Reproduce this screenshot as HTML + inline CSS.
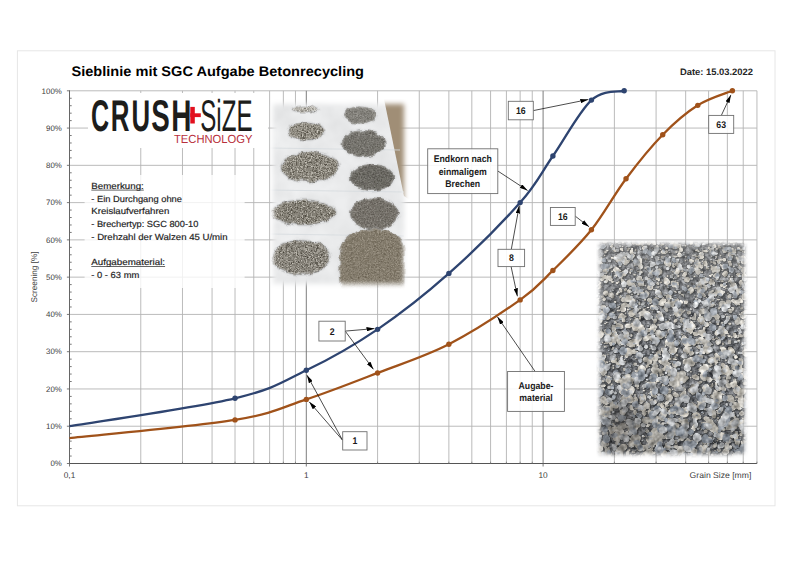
<!DOCTYPE html>
<html><head><meta charset="utf-8"><title>Sieblinie mit SGC Aufgabe Betonrecycling</title>
<style>
html,body{margin:0;padding:0;background:#fff;}
body{width:800px;height:565px;overflow:hidden;position:relative;font-family:"Liberation Sans",Arial,sans-serif;}
svg{position:absolute;left:0;top:0;display:block;}
svg text{font-family:"Liberation Sans",Arial,sans-serif;text-rendering:geometricPrecision;}
</style></head><body>
<svg width="800" height="565" viewBox="0 0 800 565">
<defs>
<marker id="ah" viewBox="0 0 10 10" preserveAspectRatio="none" refX="10" refY="5" markerWidth="8" markerHeight="4.4" orient="auto" markerUnits="userSpaceOnUse">
<path d="M0,0 L10,5 L0,10 z" fill="#000"/></marker>
<filter id="txA" x="-10%" y="-10%" width="120%" height="120%" color-interpolation-filters="sRGB">
<feTurbulence type="fractalNoise" baseFrequency="0.8" numOctaves="2" seed="3" result="n"/>
<feColorMatrix in="n" type="matrix" values="1 0 0 0 0  1 0 0 0 0  1 0 0 0 0  0 0 0 0 1" result="g"/>
<feComposite in="SourceGraphic" in2="g" operator="arithmetic" k1="0" k2="1" k3="0.8" k4="-0.4" result="c"/>
<feGaussianBlur in="SourceAlpha" stdDeviation="1.3" result="a"/>
<feComposite in="c" in2="a" operator="in"/>
</filter>
<filter id="txB" x="-10%" y="-10%" width="120%" height="120%" color-interpolation-filters="sRGB">
<feTurbulence type="fractalNoise" baseFrequency="0.7" numOctaves="2" seed="5" result="n"/>
<feColorMatrix in="n" type="matrix" values="1 0 0 0 0  1 0 0 0 0  1 0 0 0 0  0 0 0 0 1" result="g"/>
<feComposite in="SourceGraphic" in2="g" operator="arithmetic" k1="0" k2="1" k3="0.32" k4="-0.16" result="c"/>
<feGaussianBlur in="SourceAlpha" stdDeviation="1.3" result="a"/>
<feComposite in="c" in2="a" operator="in"/>
</filter>
<filter id="soft" x="-20%" y="-20%" width="140%" height="140%"><feGaussianBlur stdDeviation="2"/></filter>
<filter id="gravel" x="0" y="0" width="100%" height="100%" color-interpolation-filters="sRGB">
<feTurbulence type="fractalNoise" baseFrequency="0.22" numOctaves="3" seed="7" result="n"/>
<feColorMatrix in="n" type="matrix" values="1 0 0 0 0  1 0 0 0 0  1 0 0 0 0  0 0 0 0 1" result="g"/>
<feComposite in="SourceGraphic" in2="g" operator="arithmetic" k1="0" k2="1" k3="0.9" k4="-0.45"/>
</filter>
<filter id="stn" x="0" y="0" width="100%" height="100%" color-interpolation-filters="sRGB">
<feTurbulence type="fractalNoise" baseFrequency="0.2" numOctaves="2" seed="9" result="n"/>
<feColorMatrix in="n" type="matrix" values="1 0 0 0 0  1 0 0 0 0  1 0 0 0 0  0 0 0 0 1" result="g"/>
<feComposite in="SourceGraphic" in2="g" operator="arithmetic" k1="0" k2="1" k3="0.7" k4="-0.35" result="c"/>
<feComposite in="c" in2="SourceAlpha" operator="in" result="c2"/>
<feOffset in="SourceAlpha" dx="0.5" dy="0.7" result="o"/>
<feGaussianBlur in="o" stdDeviation="0.5" result="ob"/>
<feFlood flood-color="#2a2d31" flood-opacity="0.6"/>
<feComposite in2="ob" operator="in" result="sh"/>
<feMerge><feMergeNode in="sh"/><feMergeNode in="c2"/></feMerge>
</filter>
<filter id="disp" x="-15%" y="-15%" width="130%" height="130%">
<feTurbulence type="fractalNoise" baseFrequency="0.12" numOctaves="2" seed="2" result="t"/>
<feDisplacementMap in="SourceGraphic" in2="t" scale="5" xChannelSelector="R" yChannelSelector="G" result="d"/>
<feGaussianBlur in="d" stdDeviation="0.35"/>
</filter>
<filter id="paper" x="0" y="0" width="100%" height="100%" color-interpolation-filters="sRGB">
<feTurbulence type="fractalNoise" baseFrequency="0.04" numOctaves="3" seed="12" result="n"/>
<feColorMatrix in="n" type="matrix" values="1 0 0 0 0  1 0 0 0 0  1 0 0 0 0  0 0 0 0 1" result="g"/>
<feComposite in="SourceGraphic" in2="g" operator="arithmetic" k1="0" k2="1" k3="0.08" k4="-0.04"/>
</filter>
<linearGradient id="gvgrad" x1="0" y1="0" x2="0" y2="1"><stop offset="0" stop-color="#e8e4dc" stop-opacity="0.22"/><stop offset="0.45" stop-color="#e8e4dc" stop-opacity="0.05"/><stop offset="1" stop-color="#000" stop-opacity="0.14"/></linearGradient>
<radialGradient id="gvdark"><stop offset="0" stop-color="#3a3632" stop-opacity="0.4"/><stop offset="1" stop-color="#3a3632" stop-opacity="0"/></radialGradient>
<mask id="mR"><rect x="600" y="244" width="144" height="210" fill="#fff" filter="url(#soft)"/></mask>
<filter id="soft3" x="-20%" y="-20%" width="140%" height="140%"><feGaussianBlur stdDeviation="2.6"/></filter>
<mask id="mL"><rect x="273" y="104" width="131" height="180" fill="#fff" filter="url(#soft3)"/></mask>
</defs>
<rect x="17.4" y="50.8" width="757.6" height="455" fill="#fff" stroke="#e6e6e6" stroke-width="1"/>

<text x="71.5" y="75.6" font-size="13.8" font-weight="bold" fill="#000" textLength="292.5" lengthAdjust="spacingAndGlyphs">Sieblinie mit SGC Aufgabe Betonrecycling</text>
<text x="680" y="75.2" font-size="9.3" font-weight="bold" fill="#262626" textLength="73" lengthAdjust="spacingAndGlyphs">Date: 15.03.2022</text>
<line x1="140.78" y1="90.8" x2="140.78" y2="463.5" stroke="#b3b3b3" stroke-width="0.9"/>
<line x1="182.48" y1="90.8" x2="182.48" y2="463.5" stroke="#b3b3b3" stroke-width="0.9"/>
<line x1="212.07" y1="90.8" x2="212.07" y2="463.5" stroke="#b3b3b3" stroke-width="0.9"/>
<line x1="235.02" y1="90.8" x2="235.02" y2="463.5" stroke="#b3b3b3" stroke-width="0.9"/>
<line x1="253.77" y1="90.8" x2="253.77" y2="463.5" stroke="#b3b3b3" stroke-width="0.9"/>
<line x1="269.62" y1="90.8" x2="269.62" y2="463.5" stroke="#b3b3b3" stroke-width="0.9"/>
<line x1="283.35" y1="90.8" x2="283.35" y2="463.5" stroke="#b3b3b3" stroke-width="0.9"/>
<line x1="295.46" y1="90.8" x2="295.46" y2="463.5" stroke="#b3b3b3" stroke-width="0.9"/>
<line x1="377.58" y1="90.8" x2="377.58" y2="463.5" stroke="#b3b3b3" stroke-width="0.9"/>
<line x1="419.28" y1="90.8" x2="419.28" y2="463.5" stroke="#b3b3b3" stroke-width="0.9"/>
<line x1="448.87" y1="90.8" x2="448.87" y2="463.5" stroke="#b3b3b3" stroke-width="0.9"/>
<line x1="471.82" y1="90.8" x2="471.82" y2="463.5" stroke="#b3b3b3" stroke-width="0.9"/>
<line x1="490.57" y1="90.8" x2="490.57" y2="463.5" stroke="#b3b3b3" stroke-width="0.9"/>
<line x1="506.42" y1="90.8" x2="506.42" y2="463.5" stroke="#b3b3b3" stroke-width="0.9"/>
<line x1="520.15" y1="90.8" x2="520.15" y2="463.5" stroke="#b3b3b3" stroke-width="0.9"/>
<line x1="532.26" y1="90.8" x2="532.26" y2="463.5" stroke="#b3b3b3" stroke-width="0.9"/>
<line x1="614.38" y1="90.8" x2="614.38" y2="463.5" stroke="#b3b3b3" stroke-width="0.9"/>
<line x1="656.08" y1="90.8" x2="656.08" y2="463.5" stroke="#b3b3b3" stroke-width="0.9"/>
<line x1="685.67" y1="90.8" x2="685.67" y2="463.5" stroke="#b3b3b3" stroke-width="0.9"/>
<line x1="708.62" y1="90.8" x2="708.62" y2="463.5" stroke="#b3b3b3" stroke-width="0.9"/>
<line x1="727.37" y1="90.8" x2="727.37" y2="463.5" stroke="#b3b3b3" stroke-width="0.9"/>
<line x1="743.22" y1="90.8" x2="743.22" y2="463.5" stroke="#b3b3b3" stroke-width="0.9"/>
<line x1="756.95" y1="90.8" x2="756.95" y2="463.5" stroke="#b3b3b3" stroke-width="0.9"/>
<line x1="69.5" y1="426.23" x2="756.95" y2="426.23" stroke="#b3b3b3" stroke-width="0.9"/>
<line x1="69.5" y1="388.96" x2="756.95" y2="388.96" stroke="#b3b3b3" stroke-width="0.9"/>
<line x1="69.5" y1="351.69" x2="756.95" y2="351.69" stroke="#b3b3b3" stroke-width="0.9"/>
<line x1="69.5" y1="314.42" x2="756.95" y2="314.42" stroke="#b3b3b3" stroke-width="0.9"/>
<line x1="69.5" y1="277.15" x2="756.95" y2="277.15" stroke="#b3b3b3" stroke-width="0.9"/>
<line x1="69.5" y1="239.88" x2="756.95" y2="239.88" stroke="#b3b3b3" stroke-width="0.9"/>
<line x1="69.5" y1="202.61" x2="756.95" y2="202.61" stroke="#b3b3b3" stroke-width="0.9"/>
<line x1="69.5" y1="165.34" x2="756.95" y2="165.34" stroke="#b3b3b3" stroke-width="0.9"/>
<line x1="69.5" y1="128.07" x2="756.95" y2="128.07" stroke="#b3b3b3" stroke-width="0.9"/>
<line x1="69.5" y1="90.8" x2="756.95" y2="90.8" stroke="#b3b3b3" stroke-width="0.9"/>
<line x1="306.3" y1="90.8" x2="306.3" y2="463.5" stroke="#6e6e6e" stroke-width="0.9"/>
<line x1="543.1" y1="90.8" x2="543.1" y2="463.5" stroke="#6e6e6e" stroke-width="0.9"/>
<line x1="69.5" y1="90.3" x2="69.5" y2="464.1" stroke="#666" stroke-width="1"/>
<line x1="69" y1="463.5" x2="756.95" y2="463.5" stroke="#555" stroke-width="1.2"/>
<line x1="66.9" y1="463.5" x2="69.5" y2="463.5" stroke="#6a6a6a" stroke-width="0.9"/>
<line x1="69.5" y1="456.05" x2="71.7" y2="456.05" stroke="#6a6a6a" stroke-width="0.9"/>
<line x1="69.5" y1="448.59" x2="71.7" y2="448.59" stroke="#6a6a6a" stroke-width="0.9"/>
<line x1="69.5" y1="441.14" x2="71.7" y2="441.14" stroke="#6a6a6a" stroke-width="0.9"/>
<line x1="69.5" y1="433.68" x2="71.7" y2="433.68" stroke="#6a6a6a" stroke-width="0.9"/>
<line x1="66.9" y1="426.23" x2="69.5" y2="426.23" stroke="#6a6a6a" stroke-width="0.9"/>
<line x1="69.5" y1="418.78" x2="71.7" y2="418.78" stroke="#6a6a6a" stroke-width="0.9"/>
<line x1="69.5" y1="411.32" x2="71.7" y2="411.32" stroke="#6a6a6a" stroke-width="0.9"/>
<line x1="69.5" y1="403.87" x2="71.7" y2="403.87" stroke="#6a6a6a" stroke-width="0.9"/>
<line x1="69.5" y1="396.41" x2="71.7" y2="396.41" stroke="#6a6a6a" stroke-width="0.9"/>
<line x1="66.9" y1="388.96" x2="69.5" y2="388.96" stroke="#6a6a6a" stroke-width="0.9"/>
<line x1="69.5" y1="381.51" x2="71.7" y2="381.51" stroke="#6a6a6a" stroke-width="0.9"/>
<line x1="69.5" y1="374.05" x2="71.7" y2="374.05" stroke="#6a6a6a" stroke-width="0.9"/>
<line x1="69.5" y1="366.6" x2="71.7" y2="366.6" stroke="#6a6a6a" stroke-width="0.9"/>
<line x1="69.5" y1="359.14" x2="71.7" y2="359.14" stroke="#6a6a6a" stroke-width="0.9"/>
<line x1="66.9" y1="351.69" x2="69.5" y2="351.69" stroke="#6a6a6a" stroke-width="0.9"/>
<line x1="69.5" y1="344.24" x2="71.7" y2="344.24" stroke="#6a6a6a" stroke-width="0.9"/>
<line x1="69.5" y1="336.78" x2="71.7" y2="336.78" stroke="#6a6a6a" stroke-width="0.9"/>
<line x1="69.5" y1="329.33" x2="71.7" y2="329.33" stroke="#6a6a6a" stroke-width="0.9"/>
<line x1="69.5" y1="321.87" x2="71.7" y2="321.87" stroke="#6a6a6a" stroke-width="0.9"/>
<line x1="66.9" y1="314.42" x2="69.5" y2="314.42" stroke="#6a6a6a" stroke-width="0.9"/>
<line x1="69.5" y1="306.97" x2="71.7" y2="306.97" stroke="#6a6a6a" stroke-width="0.9"/>
<line x1="69.5" y1="299.51" x2="71.7" y2="299.51" stroke="#6a6a6a" stroke-width="0.9"/>
<line x1="69.5" y1="292.06" x2="71.7" y2="292.06" stroke="#6a6a6a" stroke-width="0.9"/>
<line x1="69.5" y1="284.6" x2="71.7" y2="284.6" stroke="#6a6a6a" stroke-width="0.9"/>
<line x1="66.9" y1="277.15" x2="69.5" y2="277.15" stroke="#6a6a6a" stroke-width="0.9"/>
<line x1="69.5" y1="269.7" x2="71.7" y2="269.7" stroke="#6a6a6a" stroke-width="0.9"/>
<line x1="69.5" y1="262.24" x2="71.7" y2="262.24" stroke="#6a6a6a" stroke-width="0.9"/>
<line x1="69.5" y1="254.79" x2="71.7" y2="254.79" stroke="#6a6a6a" stroke-width="0.9"/>
<line x1="69.5" y1="247.33" x2="71.7" y2="247.33" stroke="#6a6a6a" stroke-width="0.9"/>
<line x1="66.9" y1="239.88" x2="69.5" y2="239.88" stroke="#6a6a6a" stroke-width="0.9"/>
<line x1="69.5" y1="232.43" x2="71.7" y2="232.43" stroke="#6a6a6a" stroke-width="0.9"/>
<line x1="69.5" y1="224.97" x2="71.7" y2="224.97" stroke="#6a6a6a" stroke-width="0.9"/>
<line x1="69.5" y1="217.52" x2="71.7" y2="217.52" stroke="#6a6a6a" stroke-width="0.9"/>
<line x1="69.5" y1="210.06" x2="71.7" y2="210.06" stroke="#6a6a6a" stroke-width="0.9"/>
<line x1="66.9" y1="202.61" x2="69.5" y2="202.61" stroke="#6a6a6a" stroke-width="0.9"/>
<line x1="69.5" y1="195.16" x2="71.7" y2="195.16" stroke="#6a6a6a" stroke-width="0.9"/>
<line x1="69.5" y1="187.7" x2="71.7" y2="187.7" stroke="#6a6a6a" stroke-width="0.9"/>
<line x1="69.5" y1="180.25" x2="71.7" y2="180.25" stroke="#6a6a6a" stroke-width="0.9"/>
<line x1="69.5" y1="172.79" x2="71.7" y2="172.79" stroke="#6a6a6a" stroke-width="0.9"/>
<line x1="66.9" y1="165.34" x2="69.5" y2="165.34" stroke="#6a6a6a" stroke-width="0.9"/>
<line x1="69.5" y1="157.89" x2="71.7" y2="157.89" stroke="#6a6a6a" stroke-width="0.9"/>
<line x1="69.5" y1="150.43" x2="71.7" y2="150.43" stroke="#6a6a6a" stroke-width="0.9"/>
<line x1="69.5" y1="142.98" x2="71.7" y2="142.98" stroke="#6a6a6a" stroke-width="0.9"/>
<line x1="69.5" y1="135.52" x2="71.7" y2="135.52" stroke="#6a6a6a" stroke-width="0.9"/>
<line x1="66.9" y1="128.07" x2="69.5" y2="128.07" stroke="#6a6a6a" stroke-width="0.9"/>
<line x1="69.5" y1="120.62" x2="71.7" y2="120.62" stroke="#6a6a6a" stroke-width="0.9"/>
<line x1="69.5" y1="113.16" x2="71.7" y2="113.16" stroke="#6a6a6a" stroke-width="0.9"/>
<line x1="69.5" y1="105.71" x2="71.7" y2="105.71" stroke="#6a6a6a" stroke-width="0.9"/>
<line x1="69.5" y1="98.25" x2="71.7" y2="98.25" stroke="#6a6a6a" stroke-width="0.9"/>
<line x1="66.9" y1="90.8" x2="69.5" y2="90.8" stroke="#6a6a6a" stroke-width="0.9"/>
<line x1="69.5" y1="463.5" x2="69.5" y2="466.5" stroke="#6a6a6a" stroke-width="0.9"/>
<line x1="306.3" y1="463.5" x2="306.3" y2="466.5" stroke="#6a6a6a" stroke-width="0.9"/>
<line x1="543.1" y1="463.5" x2="543.1" y2="466.5" stroke="#6a6a6a" stroke-width="0.9"/>
<line x1="140.78" y1="461.7" x2="140.78" y2="463.5" stroke="#777" stroke-width="0.8"/>
<line x1="182.48" y1="461.7" x2="182.48" y2="463.5" stroke="#777" stroke-width="0.8"/>
<line x1="212.07" y1="461.7" x2="212.07" y2="463.5" stroke="#777" stroke-width="0.8"/>
<line x1="235.02" y1="461.7" x2="235.02" y2="463.5" stroke="#777" stroke-width="0.8"/>
<line x1="253.77" y1="461.7" x2="253.77" y2="463.5" stroke="#777" stroke-width="0.8"/>
<line x1="269.62" y1="461.7" x2="269.62" y2="463.5" stroke="#777" stroke-width="0.8"/>
<line x1="283.35" y1="461.7" x2="283.35" y2="463.5" stroke="#777" stroke-width="0.8"/>
<line x1="295.46" y1="461.7" x2="295.46" y2="463.5" stroke="#777" stroke-width="0.8"/>
<line x1="377.58" y1="461.7" x2="377.58" y2="463.5" stroke="#777" stroke-width="0.8"/>
<line x1="419.28" y1="461.7" x2="419.28" y2="463.5" stroke="#777" stroke-width="0.8"/>
<line x1="448.87" y1="461.7" x2="448.87" y2="463.5" stroke="#777" stroke-width="0.8"/>
<line x1="471.82" y1="461.7" x2="471.82" y2="463.5" stroke="#777" stroke-width="0.8"/>
<line x1="490.57" y1="461.7" x2="490.57" y2="463.5" stroke="#777" stroke-width="0.8"/>
<line x1="506.42" y1="461.7" x2="506.42" y2="463.5" stroke="#777" stroke-width="0.8"/>
<line x1="520.15" y1="461.7" x2="520.15" y2="463.5" stroke="#777" stroke-width="0.8"/>
<line x1="532.26" y1="461.7" x2="532.26" y2="463.5" stroke="#777" stroke-width="0.8"/>
<line x1="614.38" y1="461.7" x2="614.38" y2="463.5" stroke="#777" stroke-width="0.8"/>
<line x1="656.08" y1="461.7" x2="656.08" y2="463.5" stroke="#777" stroke-width="0.8"/>
<line x1="685.67" y1="461.7" x2="685.67" y2="463.5" stroke="#777" stroke-width="0.8"/>
<line x1="708.62" y1="461.7" x2="708.62" y2="463.5" stroke="#777" stroke-width="0.8"/>
<line x1="727.37" y1="461.7" x2="727.37" y2="463.5" stroke="#777" stroke-width="0.8"/>
<line x1="743.22" y1="461.7" x2="743.22" y2="463.5" stroke="#777" stroke-width="0.8"/>
<line x1="756.95" y1="461.7" x2="756.95" y2="463.5" stroke="#777" stroke-width="0.8"/>
<text x="61.8" y="466.3" font-size="7.9" fill="#404040" text-anchor="end">0%</text>
<text x="61.8" y="429.03" font-size="7.9" fill="#404040" text-anchor="end">10%</text>
<text x="61.8" y="391.76" font-size="7.9" fill="#404040" text-anchor="end">20%</text>
<text x="61.8" y="354.49" font-size="7.9" fill="#404040" text-anchor="end">30%</text>
<text x="61.8" y="317.22" font-size="7.9" fill="#404040" text-anchor="end">40%</text>
<text x="61.8" y="279.95" font-size="7.9" fill="#404040" text-anchor="end">50%</text>
<text x="61.8" y="242.68" font-size="7.9" fill="#404040" text-anchor="end">60%</text>
<text x="61.8" y="205.41" font-size="7.9" fill="#404040" text-anchor="end">70%</text>
<text x="61.8" y="168.14" font-size="7.9" fill="#404040" text-anchor="end">80%</text>
<text x="61.8" y="130.87" font-size="7.9" fill="#404040" text-anchor="end">90%</text>
<text x="61.8" y="93.6" font-size="7.9" fill="#404040" text-anchor="end">100%</text>
<text transform="translate(37.3,302.5) rotate(-90)" font-size="8.3" fill="#404040" textLength="51" lengthAdjust="spacingAndGlyphs">Screening [%]</text>
<text x="69.5" y="477.8" font-size="8.3" fill="#404040" text-anchor="middle">0,1</text>
<text x="306.3" y="477.8" font-size="8.3" fill="#404040" text-anchor="middle">1</text>
<text x="543.1" y="477.8" font-size="8.3" fill="#404040" text-anchor="middle">10</text>
<text x="689.6" y="477.8" font-size="8.3" fill="#404040" textLength="61.8" lengthAdjust="spacingAndGlyphs">Grain Size [mm]</text>
<g mask="url(#mL)">
<rect x="268" y="99" width="140" height="190" fill="#e8e9ea" filter="url(#paper)"/>
<polygon points="384,99 410,99 410,200 404,196" fill="#a08e76"/>
<line x1="270" y1="148" x2="400" y2="150" stroke="#d6dade" stroke-width="0.8"/>
<line x1="270" y1="190" x2="404" y2="192" stroke="#d6dade" stroke-width="0.8"/>
<line x1="270" y1="234" x2="404" y2="236" stroke="#d6dade" stroke-width="0.8"/>
<g filter="url(#disp)"><ellipse cx="305" cy="109.5" rx="13" ry="3.6" fill="#b0ada5" filter="url(#txA)"/></g>
<g filter="url(#disp)"><ellipse cx="306" cy="131" rx="18" ry="9" fill="#8d897f" filter="url(#txA)"/></g>
<g filter="url(#disp)"><ellipse cx="310" cy="167" rx="29" ry="15" fill="#8a867c" filter="url(#txA)"/></g>
<g filter="url(#disp)"><ellipse cx="303.5" cy="212.5" rx="31.5" ry="12.5" fill="#858177" filter="url(#txA)"/></g>
<g filter="url(#disp)"><ellipse cx="301" cy="257.5" rx="29" ry="17" fill="#88847b" filter="url(#txA)"/></g>
<g filter="url(#disp)"><ellipse cx="360" cy="115" rx="17" ry="8.8" fill="#83817b" filter="url(#txB)"/></g>
<g filter="url(#disp)"><ellipse cx="363.6" cy="143.7" rx="22" ry="13.5" fill="#75736d" filter="url(#txB)"/></g>
<g filter="url(#disp)"><ellipse cx="372" cy="177.5" rx="22" ry="13.5" fill="#6b6963" filter="url(#txB)"/></g>
<g filter="url(#disp)"><ellipse cx="374.5" cy="213.6" rx="24.5" ry="16" fill="#75716a" filter="url(#txB)"/></g>
<g filter="url(#disp)"><path d="M340,252 C342,236 356,229 372,229 C392,229 403,236 405,250 L405,290 L342,290 C339,278 339,262 340,252 Z" fill="#847c6d" filter="url(#txB)"/></g>
</g>
<g mask="url(#mR)">
<rect x="596" y="240" width="152" height="218" fill="#6a6d72" filter="url(#gravel)"/>
<g filter="url(#stn)">
<path d="M622.8 349.8a2.2 2 55 1 0 2.6 3.6a2.2 2 55 1 0 -2.6 -3.6zM710.1 265.7a1.1 .7 0 1 0 2.2 0a1.1 .7 0 1 0 -2.2 0zM631.2 325.8a3.2 2.7 178 1 0 -6.4 .2a3.2 2.7 178 1 0 6.4 -.2zM599.8 436a2.7 2.6 115 1 0 -2.2 4.9a2.7 2.6 115 1 0 2.2 -4.9zM668 399.2a1.3 1.3 0 1 0 2.5 0a1.3 1.3 0 1 0 -2.5 0zM663.8 256.3a1 .9 0 1 0 2 0a1 .9 0 1 0 -2 0zM702.5 364.4a1.2 1.1 0 1 0 2.5 0a1.2 1.1 0 1 0 -2.5 0zM699 446.2a1.7 1.7 0 1 0 3.5 0a1.7 1.7 0 1 0 -3.5 0zM624.8 356.8a1.7 1.4 0 1 0 3.5 0a1.7 1.4 0 1 0 -3.5 0zM688.9 441.7a1 .9 0 1 0 2.1 0a1 .9 0 1 0 -2.1 0zM671.3 389.5a1.1 .6 0 1 0 2.2 0a1.1 .6 0 1 0 -2.2 0zM665.5 352.3a1.5 1.2 0 1 0 3 0a1.5 1.2 0 1 0 -3 0zM656.6 282.5a1 .8 0 1 0 2.1 0a1 .8 0 1 0 -2.1 0zM683 454.7a2.4 2.2 108 1 0 -1.4 4.5a2.4 2.2 108 1 0 1.4 -4.5zM679.5 300.2a2.3 1.6 44 1 0 3.3 3.2a2.3 1.6 44 1 0 -3.3 -3.2zM659.6 375.9a1 .8 0 1 0 2 0a1 .8 0 1 0 -2 0zM668.5 389.4a1.2 1.1 0 1 0 2.5 0a1.2 1.1 0 1 0 -2.5 0zM682.6 448.3a2.4 2.2 98 1 0 -.7 4.8a2.4 2.2 98 1 0 .7 -4.8zM635.5 356.5a1 .9 0 1 0 2.1 0a1 .9 0 1 0 -2.1 0zM665.7 395.9a1.4 1.2 0 1 0 2.7 0a1.4 1.2 0 1 0 -2.7 0zM634.8 363.8a1.3 1.1 0 1 0 2.6 0a1.3 1.1 0 1 0 -2.6 0zM714.9 267a1.6 1.5 0 1 0 3.2 0a1.6 1.5 0 1 0 -3.2 0zM718.7 326.6a1.3 1.1 0 1 0 2.6 0a1.3 1.1 0 1 0 -2.6 0zM735.7 385.4a1.2 1 0 1 0 2.4 0a1.2 1 0 1 0 -2.4 0zM743.7 336a1.8 1.4 0 1 0 3.5 0a1.8 1.4 0 1 0 -3.5 0zM686 302a1.1 1 0 1 0 2.2 0a1.1 1 0 1 0 -2.2 0zM682 430.3a1.1 .7 0 1 0 2.1 0a1.1 .7 0 1 0 -2.1 0zM616.3 325.7a1.2 .9 0 1 0 2.4 0a1.2 .9 0 1 0 -2.4 0zM698.1 428.1a1.1 .8 0 1 0 2.2 0a1.1 .8 0 1 0 -2.2 0zM732.7 244.4a1.2 .8 0 1 0 2.3 0a1.2 .8 0 1 0 -2.3 0zM729.3 308.4a2.6 2.1 71 1 0 1.7 5a2.6 2.1 71 1 0 -1.7 -5zM631.2 248.9a1 .8 0 1 0 2.1 0a1 .8 0 1 0 -2.1 0zM639.3 315.2a1.1 .6 0 1 0 2.2 0a1.1 .6 0 1 0 -2.2 0zM682.6 392.9a2 1.7 0 1 0 3.9 0a2 1.7 0 1 0 -3.9 0zM654.5 319.4a1 .7 0 1 0 2 0a1 .7 0 1 0 -2 0zM694.3 323.6a3.7 3.7 128 1 0 -4.6 5.8a3.7 3.7 128 1 0 4.6 -5.8zM633.2 346.4a1 .7 0 1 0 2.1 0a1 .7 0 1 0 -2.1 0zM668.2 319.8a1.1 .7 0 1 0 2.3 0a1.1 .7 0 1 0 -2.3 0zM648.2 298a3.3 2.3 60 1 0 3.2 5.7a3.3 2.3 60 1 0 -3.2 -5.7zM610.9 271.2a1.2 .9 0 1 0 2.4 0a1.2 .9 0 1 0 -2.4 0zM625.8 431.9a1.3 1.1 0 1 0 2.6 0a1.3 1.1 0 1 0 -2.6 0zM732.6 413.7a1 .8 0 1 0 2.1 0a1 .8 0 1 0 -2.1 0zM657.3 425a2.3 2.2 178 1 0 -4.5 .2a2.3 2.2 178 1 0 4.5 -.2zM654.4 399.9a2.2 1.6 75 1 0 1.1 4.2a2.2 1.6 75 1 0 -1.1 -4.2zM650.9 271.2a1.3 1.1 0 1 0 2.6 0a1.3 1.1 0 1 0 -2.6 0zM706.1 409.2a1 .8 0 1 0 2.1 0a1 .8 0 1 0 -2.1 0zM663.1 361.7a1.6 1.5 0 1 0 3.2 0a1.6 1.5 0 1 0 -3.2 0zM660.4 338.3a1 .9 0 1 0 2 0a1 .9 0 1 0 -2 0zM674.8 359.4a1.4 .9 0 1 0 2.9 0a1.4 .9 0 1 0 -2.9 0zM668.8 242a1.3 1.2 0 1 0 2.5 0a1.3 1.2 0 1 0 -2.5 0zM714.8 380a1 .9 0 1 0 2 0a1 .9 0 1 0 -2 0zM694.9 359.5a4 3.4 168 1 0 -7.9 1.6a4 3.4 168 1 0 7.9 -1.6zM723 264.2a2.8 2.1 78 1 0 1.2 5.4a2.8 2.1 78 1 0 -1.2 -5.4zM664.2 346.1a1.1 1 0 1 0 2.2 0a1.1 1 0 1 0 -2.2 0zM736.3 258.8a1.5 1.5 0 1 0 3 0a1.5 1.5 0 1 0 -3 0zM616.8 427.2a4.4 2.5 149 1 0 -7.6 4.5a4.4 2.5 149 1 0 7.6 -4.5zM708.8 384.8a3.2 2.5 137 1 0 -4.7 4.3a3.2 2.5 137 1 0 4.7 -4.3zM669.1 279.4a3.3 3.3 137 1 0 -4.8 4.5a3.3 3.3 137 1 0 4.8 -4.5zM686.5 271.7a3.2 2.2 124 1 0 -3.6 5.4a3.2 2.2 124 1 0 3.6 -5.4zM692.3 451.5a1.2 .9 0 1 0 2.4 0a1.2 .9 0 1 0 -2.4 0zM736.8 294.4a1.1 .6 0 1 0 2.1 0a1.1 .6 0 1 0 -2.1 0zM629.3 319.4a1.1 1 0 1 0 2.2 0a1.1 1 0 1 0 -2.2 0zM674.7 408.7a3.9 2.6 54 1 0 4.6 6.4a3.9 2.6 54 1 0 -4.6 -6.4zM629.7 299a3.3 2.9 34 1 0 5.6 3.7a3.3 2.9 34 1 0 -5.6 -3.7zM691.4 321.1a2.5 1.9 89 1 0 .1 4.9a2.5 1.9 89 1 0 -.1 -4.9zM598.9 431.2a1.4 .8 0 1 0 2.8 0a1.4 .8 0 1 0 -2.8 0zM697.5 451a1 .6 0 1 0 2 0a1 .6 0 1 0 -2 0zM612.2 379.9a1 .7 0 1 0 2 0a1 .7 0 1 0 -2 0zM639.5 406.5a2.3 1.8 86 1 0 .3 4.6a2.3 1.8 86 1 0 -.3 -4.6zM634.2 371.1a1.8 1.4 0 1 0 3.6 0a1.8 1.4 0 1 0 -3.6 0zM655.2 344.6a1.3 1.3 0 1 0 2.6 0a1.3 1.3 0 1 0 -2.6 0zM617.6 267.2a2.9 2.6 122 1 0 -3 4.9a2.9 2.6 122 1 0 3 -4.9zM668.5 433.3a3.2 2.1 109 1 0 -2.1 6.1a3.2 2.1 109 1 0 2.1 -6.1zM653.5 380.1a1.2 .8 0 1 0 2.3 0a1.2 .8 0 1 0 -2.3 0zM639 332.5a1.2 1 0 1 0 2.3 0a1.2 1 0 1 0 -2.3 0zM595.2 359.4a1 1 0 1 0 2 0a1 1 0 1 0 -2 0zM625.7 340.8a1.1 1 0 1 0 2.3 0a1.1 1 0 1 0 -2.3 0zM615.3 283.1a1.6 1.3 0 1 0 3.2 0a1.6 1.3 0 1 0 -3.2 0zM616.8 249.9a1.2 .9 0 1 0 2.5 0a1.2 .9 0 1 0 -2.5 0zM606 329.6a3.8 3.6 57 1 0 4.2 6.4a3.8 3.6 57 1 0 -4.2 -6.4zM645.7 347.1a1.4 .9 0 1 0 2.7 0a1.4 .9 0 1 0 -2.7 0zM669.1 400.3a1.3 1.2 0 1 0 2.5 0a1.3 1.2 0 1 0 -2.5 0zM709.6 419.6a3.5 2 132 1 0 -4.7 5.3a3.5 2 132 1 0 4.7 -5.3zM648.8 314a1 .9 0 1 0 2 0a1 .9 0 1 0 -2 0zM695 427a2.2 1.6 150 1 0 -3.8 2.3a2.2 1.6 150 1 0 3.8 -2.3zM699.2 368.2a3.7 3.2 23 1 0 6.7 2.9a3.7 3.2 23 1 0 -6.7 -2.9zM719.6 259.6a1.7 1 0 1 0 3.3 0a1.7 1 0 1 0 -3.3 0zM741.9 266.4a2.1 1.7 143 1 0 -3.4 2.6a2.1 1.7 143 1 0 3.4 -2.6zM647.7 408.1a1.4 .9 0 1 0 2.8 0a1.4 .9 0 1 0 -2.8 0zM738.4 401.6a4.6 3.8 29 1 0 8.1 4.6a4.6 3.8 29 1 0 -8.1 -4.6zM609.9 246.5a1.7 1.6 0 1 0 3.4 0a1.7 1.6 0 1 0 -3.4 0zM651 438.4a1 .7 0 1 0 2 0a1 .7 0 1 0 -2 0zM611.5 248.6a1.7 1.1 0 1 0 3.4 0a1.7 1.1 0 1 0 -3.4 0zM692.5 425.8a2.8 1.8 66 1 0 2.3 5.1a2.8 1.8 66 1 0 -2.3 -5.1zM673.7 339a1.1 1 0 1 0 2.1 0a1.1 1 0 1 0 -2.1 0zM629.6 300.7a1.1 .7 0 1 0 2.1 0a1.1 .7 0 1 0 -2.1 0zM693.7 357.5a2.4 1.9 121 1 0 -2.5 4.1a2.4 1.9 121 1 0 2.5 -4.1zM673.6 457.3a1 1 0 1 0 2 0a1 1 0 1 0 -2 0zM739.4 401.9a1 1 0 1 0 2 0a1 1 0 1 0 -2 0zM670.3 423.9a1 .6 0 1 0 2 0a1 .6 0 1 0 -2 0zM672.5 278.7a1 .8 0 1 0 2 0a1 .8 0 1 0 -2 0zM699.9 329.8a2.9 2.3 89 1 0 .1 5.7a2.9 2.3 89 1 0 -.1 -5.7zM690.6 265.8a1.1 .7 0 1 0 2.2 0a1.1 .7 0 1 0 -2.2 0zM720.1 421.7a1.1 .8 0 1 0 2.1 0a1.1 .8 0 1 0 -2.1 0zM641.1 279.7a1.1 .7 0 1 0 2.3 0a1.1 .7 0 1 0 -2.3 0zM639.1 325.5a1 .6 0 1 0 2 0a1 .6 0 1 0 -2 0zM624.1 280.6a2.5 2 111 1 0 -1.8 4.8a2.5 2 111 1 0 1.8 -4.8zM668.7 400.7a2.9 2 132 1 0 -3.9 4.3a2.9 2 132 1 0 3.9 -4.3zM728.6 448.6a4 3.3 133 1 0 -5.5 5.9a4 3.3 133 1 0 5.5 -5.9zM649.2 400.2a2 1.4 0 1 0 3.9 0a2 1.4 0 1 0 -3.9 0zM713.5 401.6a3.5 3.2 51 1 0 4.5 5.4a3.5 3.2 51 1 0 -4.5 -5.4zM665.9 301.9a2.9 1.8 81 1 0 .9 5.7a2.9 1.8 81 1 0 -.9 -5.7zM717.3 355.9a1.3 .9 0 1 0 2.6 0a1.3 .9 0 1 0 -2.6 0zM652.2 408.9a1.6 1.6 0 1 0 3.2 0a1.6 1.6 0 1 0 -3.2 0zM607.2 334.2a1.2 1.2 0 1 0 2.4 0a1.2 1.2 0 1 0 -2.4 0zM699.8 321.1a2 1.8 0 1 0 3.9 0a2 1.8 0 1 0 -3.9 0zM631.2 258.4a1 .8 0 1 0 2 0a1 .8 0 1 0 -2 0zM595.6 323.6a1.3 .9 0 1 0 2.6 0a1.3 .9 0 1 0 -2.6 0zM709.6 367.5a3.9 3.7 174 1 0 -7.7 .8a3.9 3.7 174 1 0 7.7 -.8zM634.1 364.4a1.3 .8 0 1 0 2.5 0a1.3 .8 0 1 0 -2.5 0zM706.3 314.8a1.6 1.5 0 1 0 3.2 0a1.6 1.5 0 1 0 -3.2 0zM639.1 313.7a1.1 .9 0 1 0 2.1 0a1.1 .9 0 1 0 -2.1 0zM721 418.7a3.7 2.1 61 1 0 3.6 6.4a3.7 2.1 61 1 0 -3.6 -6.4zM717.3 290.6a3.7 3 37 1 0 5.8 4.4a3.7 3 37 1 0 -5.8 -4.4zM744.6 412.9a2.9 2.5 169 1 0 -5.7 1.1a2.9 2.5 169 1 0 5.7 -1.1zM648.1 309.9a1 .7 0 1 0 2 0a1 .7 0 1 0 -2 0zM610.6 436.5a1.4 .9 0 1 0 2.8 0a1.4 .9 0 1 0 -2.8 0zM645.2 334.2a1.2 1.1 0 1 0 2.4 0a1.2 1.1 0 1 0 -2.4 0zM626.5 375.4a1.1 .7 0 1 0 2.3 0a1.1 .7 0 1 0 -2.3 0zM696.6 401.7a1.1 .9 0 1 0 2.2 0a1.1 .9 0 1 0 -2.2 0zM595.5 444.3a1.6 1.4 0 1 0 3.1 0a1.6 1.4 0 1 0 -3.1 0zM604.2 422.9a1.7 1.6 0 1 0 3.5 0a1.7 1.6 0 1 0 -3.5 0zM619.8 287.6a2.7 1.5 68 1 0 2 5a2.7 1.5 68 1 0 -2 -5zM634.3 428.2a1.9 1.9 0 1 0 3.9 0a1.9 1.9 0 1 0 -3.9 0zM651.1 445.9a1.8 1.6 0 1 0 3.5 0a1.8 1.6 0 1 0 -3.5 0zM723.2 434.5a1.1 1 0 1 0 2.3 0a1.1 1 0 1 0 -2.3 0zM692.5 269.2a2.1 2 3 1 0 4.2 .2a2.1 2 3 1 0 -4.2 -.2zM662.6 297.5a1 .7 0 1 0 2 0a1 .7 0 1 0 -2 0zM639.1 397.8a1.2 1.2 0 1 0 2.5 0a1.2 1.2 0 1 0 -2.5 0zM613.4 439a1.3 1.1 0 1 0 2.6 0a1.3 1.1 0 1 0 -2.6 0zM709 275.8a1.4 1.3 0 1 0 2.9 0a1.4 1.3 0 1 0 -2.9 0zM729.7 277.8a2 1.5 51 1 0 2.6 3.1a2 1.5 51 1 0 -2.6 -3.1zM651.7 309.8a1.1 1 0 1 0 2.2 0a1.1 1 0 1 0 -2.2 0zM732.7 453.2a2.8 2.3 58 1 0 3 4.8a2.8 2.3 58 1 0 -3 -4.8zM667.8 411a1.1 .8 0 1 0 2.1 0a1.1 .8 0 1 0 -2.1 0zM644.3 285.6a1.1 .8 0 1 0 2.1 0a1.1 .8 0 1 0 -2.1 0zM663.8 362a2.4 1.6 33 1 0 4 2.6a2.4 1.6 33 1 0 -4 -2.6zM619.3 296.4a1.5 1.3 0 1 0 3.1 0a1.5 1.3 0 1 0 -3.1 0zM682.1 445.5a4.4 3.7 94 1 0 -.6 8.8a4.4 3.7 94 1 0 .6 -8.8zM741.8 275.9a1.3 1.1 0 1 0 2.7 0a1.3 1.1 0 1 0 -2.7 0zM642.7 390.8a1.3 .9 0 1 0 2.7 0a1.3 .9 0 1 0 -2.7 0zM678.1 253.1a2.5 2.2 52 1 0 3.1 3.9a2.5 2.2 52 1 0 -3.1 -3.9zM618.8 391.1a4.7 4.1 4 1 0 9.4 .6a4.7 4.1 4 1 0 -9.4 -.6zM703.8 318.5a1 1 0 1 0 2 0a1 1 0 1 0 -2 0zM628.2 450.1a3.3 1.9 101 1 0 -1.2 6.5a3.3 1.9 101 1 0 1.2 -6.5zM637.5 358.6a1.2 .8 0 1 0 2.3 0a1.2 .8 0 1 0 -2.3 0zM664 391.9a2 1.8 53 1 0 2.5 3.3a2 1.8 53 1 0 -2.5 -3.3zM640.8 326.1a1.6 1.6 0 1 0 3.3 0a1.6 1.6 0 1 0 -3.3 0zM720.6 416.7a2.7 1.8 22 1 0 5.1 2a2.7 1.8 22 1 0 -5.1 -2zM598.8 385.8a1 .7 0 1 0 2 0a1 .7 0 1 0 -2 0zM711.7 378.2a2.8 2.3 143 1 0 -4.4 3.3a2.8 2.3 143 1 0 4.4 -3.3zM741.4 445.9a1 .6 0 1 0 2 0a1 .6 0 1 0 -2 0zM742.1 442.1a3.8 3.3 28 1 0 6.8 3.6a3.8 3.3 28 1 0 -6.8 -3.6zM694.4 448.4a4.2 3.8 91 1 0 -.1 8.4a4.2 3.8 91 1 0 .1 -8.4zM675.3 410.6a4.1 2.6 157 1 0 -7.4 3.2a4.1 2.6 157 1 0 7.4 -3.2zM748.8 350.2a3.9 3.8 139 1 0 -5.8 5.1a3.9 3.8 139 1 0 5.8 -5.1zM709.1 327.3a1.8 1.2 0 1 0 3.5 0a1.8 1.2 0 1 0 -3.5 0zM744.7 311.3a4 3.6 108 1 0 -2.6 7.6a4 3.6 108 1 0 2.6 -7.6zM607.2 444.1a1.2 .8 0 1 0 2.3 0a1.2 .8 0 1 0 -2.3 0zM680.6 294.7a1.7 1.1 0 1 0 3.4 0a1.7 1.1 0 1 0 -3.4 0zM642.3 372.5a1 .9 0 1 0 2 0a1 .9 0 1 0 -2 0zM621.9 437.9a1.2 .7 0 1 0 2.4 0a1.2 .7 0 1 0 -2.4 0zM713.4 280.4a2.8 2.1 147 1 0 -4.8 3.1a2.8 2.1 147 1 0 4.8 -3.1zM605.7 250.6a1.5 1.1 0 1 0 3.1 0a1.5 1.1 0 1 0 -3.1 0zM640.5 456.2a1.8 1.5 0 1 0 3.5 0a1.8 1.5 0 1 0 -3.5 0zM608.7 342.9a1.8 1.6 0 1 0 3.6 0a1.8 1.6 0 1 0 -3.6 0zM715.6 402.7a1.1 .9 0 1 0 2.1 0a1.1 .9 0 1 0 -2.1 0zM622 327.9a1 .7 0 1 0 2 0a1 .7 0 1 0 -2 0zM720.1 394.3a4.2 4 118 1 0 -4 7.4a4.2 4 118 1 0 4 -7.4zM738.9 431.7a1 .6 0 1 0 2.1 0a1 .6 0 1 0 -2.1 0zM621.1 316.1a1.2 1.1 0 1 0 2.3 0a1.2 1.1 0 1 0 -2.3 0zM679 299.4a2.1 1.8 164 1 0 -4 1.1a2.1 1.8 164 1 0 4 -1.1zM656.8 286.9a1.3 1 0 1 0 2.6 0a1.3 1 0 1 0 -2.6 0zM720.7 306.2a1.3 1.2 0 1 0 2.5 0a1.3 1.2 0 1 0 -2.5 0zM649.5 317.5a1.4 1.1 0 1 0 2.8 0a1.4 1.1 0 1 0 -2.8 0zM633.2 274.7a1.4 .9 0 1 0 2.7 0a1.4 .9 0 1 0 -2.7 0zM719.4 264.9a1.1 1.1 0 1 0 2.3 0a1.1 1.1 0 1 0 -2.3 0zM733.5 454.1a1.2 .8 0 1 0 2.4 0a1.2 .8 0 1 0 -2.4 0zM632.2 252.7a1 .9 0 1 0 2 0a1 .9 0 1 0 -2 0zM630 391.7a3.3 2.1 105 1 0 -1.7 6.3a3.3 2.1 105 1 0 1.7 -6.3zM623.6 395.5a3.4 2.2 67 1 0 2.6 6.2a3.4 2.2 67 1 0 -2.6 -6.2zM633.2 423.2a3.5 3.2 35 1 0 5.7 4a3.5 3.2 35 1 0 -5.7 -4zM623.1 276.3a2.4 2 173 1 0 -4.8 .6a2.4 2 173 1 0 4.8 -.6zM624.5 255.9a2.8 2.5 104 1 0 -1.3 5.3a2.8 2.5 104 1 0 1.3 -5.3zM672.1 329.7a2.5 2.4 155 1 0 -4.6 2.1a2.5 2.4 155 1 0 4.6 -2.1zM637.5 334.5a3.7 3.2 70 1 0 2.5 7a3.7 3.2 70 1 0 -2.5 -7zM596.8 307.4a1.2 1 0 1 0 2.5 0a1.2 1 0 1 0 -2.5 0zM623.2 385.3a3.3 2.2 92 1 0 -.2 6.5a3.3 2.2 92 1 0 .2 -6.5zM675.1 355.3a1.7 1.5 0 1 0 3.4 0a1.7 1.5 0 1 0 -3.4 0zM701.7 352.5a1.9 1.8 0 1 0 3.9 0a1.9 1.8 0 1 0 -3.9 0zM663 409.6a4.3 3.4 83 1 0 1.1 8.6a4.3 3.4 83 1 0 -1.1 -8.6zM722.2 286.3a2 1.9 0 1 0 4 0a2 1.9 0 1 0 -4 0zM714.7 406.9a1.3 1.3 0 1 0 2.7 0a1.3 1.3 0 1 0 -2.7 0zM595.4 344.3a1.3 1.2 0 1 0 2.5 0a1.3 1.2 0 1 0 -2.5 0zM736.4 283.9a2.9 2 143 1 0 -4.6 3.4a2.9 2 143 1 0 4.6 -3.4zM702.3 284.6a1.3 1.3 0 1 0 2.6 0a1.3 1.3 0 1 0 -2.6 0zM672.1 256a1.3 .8 0 1 0 2.7 0a1.3 .8 0 1 0 -2.7 0zM707.9 294.9a1.2 .9 0 1 0 2.4 0a1.2 .9 0 1 0 -2.4 0zM693.3 242.4a2.1 2 175 1 0 -4.2 .4a2.1 2 175 1 0 4.2 -.4zM603.5 315a1.1 .7 0 1 0 2.3 0a1.1 .7 0 1 0 -2.3 0zM608.2 428.8a1.1 .7 0 1 0 2.1 0a1.1 .7 0 1 0 -2.1 0zM636 434.4a4.1 2.5 131 1 0 -5.4 6.3a4.1 2.5 131 1 0 5.4 -6.3zM646.3 307.6a1.5 .9 0 1 0 3.1 0a1.5 .9 0 1 0 -3.1 0zM703.1 255.1a2.8 2.7 148 1 0 -4.8 3a2.8 2.7 148 1 0 4.8 -3zM689.3 317.8a1 .7 0 1 0 2 0a1 .7 0 1 0 -2 0zM639.2 269.9a1 .6 0 1 0 2 0a1 .6 0 1 0 -2 0zM687.9 453.1a3.3 3.1 84 1 0 .7 6.5a3.3 3.1 84 1 0 -.7 -6.5zM677.7 419.3a3.1 2.9 18 1 0 5.9 1.9a3.1 2.9 18 1 0 -5.9 -1.9zM620.8 339.8a1 .9 0 1 0 2 0a1 .9 0 1 0 -2 0zM654.4 240.5a2.5 2.2 90 1 0 -0 5.1a2.5 2.2 90 1 0 0 -5.1zM731.3 283.2a1 .9 0 1 0 2 0a1 .9 0 1 0 -2 0zM685.8 451.3a1.1 .9 0 1 0 2.3 0a1.1 .9 0 1 0 -2.3 0zM607.3 412.8a3.5 2.2 162 1 0 -6.8 2.1a3.5 2.2 162 1 0 6.8 -2.1zM725.3 435.3a4.8 2.7 61 1 0 4.6 8.3a4.8 2.7 61 1 0 -4.6 -8.3zM722.7 259.8a1.7 1.6 0 1 0 3.3 0a1.7 1.6 0 1 0 -3.3 0zM610.5 384.9a1.5 1.4 0 1 0 2.9 0a1.5 1.4 0 1 0 -2.9 0zM595.5 432.3a3.6 2.6 68 1 0 2.7 6.6a3.6 2.6 68 1 0 -2.7 -6.6zM647.2 317.2a1.5 .9 0 1 0 2.9 0a1.5 .9 0 1 0 -2.9 0zM742.6 440.9a1 1 0 1 0 2 0a1 1 0 1 0 -2 0zM667.1 299.5a1.6 1.6 0 1 0 3.3 0a1.6 1.6 0 1 0 -3.3 0zM732.5 412.8a1.2 1.2 0 1 0 2.4 0a1.2 1.2 0 1 0 -2.4 0zM634.9 419a1.1 1.1 0 1 0 2.3 0a1.1 1.1 0 1 0 -2.3 0zM605.3 276.7a2.4 2.4 26 1 0 4.3 2.1a2.4 2.4 26 1 0 -4.3 -2.1zM644.7 245.5a2.4 2.3 101 1 0 -.9 4.8a2.4 2.3 101 1 0 .9 -4.8zM644.4 242.1a1.5 1.3 0 1 0 2.9 0a1.5 1.3 0 1 0 -2.9 0zM670.3 339a3.8 3.8 119 1 0 -3.7 6.7a3.8 3.8 119 1 0 3.7 -6.7zM693.3 420.8a1.6 1.1 0 1 0 3.2 0a1.6 1.1 0 1 0 -3.2 0zM731.4 366.8a3.3 2.1 23 1 0 6.1 2.6a3.3 2.1 23 1 0 -6.1 -2.6zM673.3 240.8a2.7 2 109 1 0 -1.7 5.1a2.7 2 109 1 0 1.7 -5.1zM731.7 252.9a1.9 1.5 0 1 0 3.8 0a1.9 1.5 0 1 0 -3.8 0zM709.5 324a1 .7 0 1 0 2 0a1 .7 0 1 0 -2 0zM726.9 333.7a1 .8 0 1 0 2.1 0a1 .8 0 1 0 -2.1 0zM632.2 385.9a4.3 3.2 103 1 0 -1.9 8.3a4.3 3.2 103 1 0 1.9 -8.3zM697.4 268.4a2.4 1.7 73 1 0 1.4 4.7a2.4 1.7 73 1 0 -1.4 -4.7zM610.9 435.6a1.1 .7 0 1 0 2.2 0a1.1 .7 0 1 0 -2.2 0zM683.5 455.7a1.6 1.1 0 1 0 3.2 0a1.6 1.1 0 1 0 -3.2 0zM688.6 360.6a3.1 2.8 162 1 0 -6 1.9a3.1 2.8 162 1 0 6 -1.9zM717.1 374.3a3 2.2 63 1 0 2.7 5.4a3 2.2 63 1 0 -2.7 -5.4zM649.8 264.2a2.6 1.7 7 1 0 5.1 .6a2.6 1.7 7 1 0 -5.1 -.6zM595.2 300a1.1 .8 0 1 0 2.3 0a1.1 .8 0 1 0 -2.3 0zM718 329.4a2.1 1.5 50 1 0 2.8 3.3a2.1 1.5 50 1 0 -2.8 -3.3zM656.3 283.7a1.5 1.1 0 1 0 2.9 0a1.5 1.1 0 1 0 -2.9 0zM601.3 316.3a3.3 2 98 1 0 -.9 6.5a3.3 2 98 1 0 .9 -6.5zM715.3 369.5a1.1 1 0 1 0 2.1 0a1.1 1 0 1 0 -2.1 0zM661.6 385.6a1.9 1.8 0 1 0 3.7 0a1.9 1.8 0 1 0 -3.7 0zM676.9 396.3a1.1 .9 0 1 0 2.1 0a1.1 .9 0 1 0 -2.1 0zM737.8 328.6a1.2 .8 0 1 0 2.4 0a1.2 .8 0 1 0 -2.4 0zM703.9 338.1a3.6 3.4 140 1 0 -5.6 4.6a3.6 3.4 140 1 0 5.6 -4.6zM629.2 434.4a1.2 .7 0 1 0 2.5 0a1.2 .7 0 1 0 -2.5 0zM645.3 319a1.7 1.4 0 1 0 3.4 0a1.7 1.4 0 1 0 -3.4 0zM731.2 300.1a2.1 1.9 22 1 0 4 1.6a2.1 1.9 22 1 0 -4 -1.6zM738.5 314.2a1 1 0 1 0 2.1 0a1 1 0 1 0 -2.1 0zM623.6 429.4a4.4 4.1 153 1 0 -7.8 4a4.4 4.1 153 1 0 7.8 -4zM710.5 237.1a3.1 2.5 87 1 0 .3 6.1a3.1 2.5 87 1 0 -.3 -6.1zM718.1 397.7a1.1 .8 0 1 0 2.2 0a1.1 .8 0 1 0 -2.2 0zM703 244.3a1.4 1 0 1 0 2.8 0a1.4 1 0 1 0 -2.8 0zM740.3 393.9a1.8 1.8 0 1 0 3.7 0a1.8 1.8 0 1 0 -3.7 0zM693 321.8a2 1.1 150 1 0 -3.5 2a2 1.1 150 1 0 3.5 -2zM665.3 281.8a1.8 1 0 1 0 3.5 0a1.8 1 0 1 0 -3.5 0zM671.4 375.4a1.3 1 0 1 0 2.7 0a1.3 1 0 1 0 -2.7 0zM649.6 388.5a1.8 1.6 0 1 0 3.5 0a1.8 1.6 0 1 0 -3.5 0zM640.6 311.6a2.9 2.1 108 1 0 -1.8 5.6a2.9 2.1 108 1 0 1.8 -5.6zM698.7 400.8a2.3 1.3 88 1 0 .1 4.6a2.3 1.3 88 1 0 -.1 -4.6zM648.3 317.5a1 .8 0 1 0 2 0a1 .8 0 1 0 -2 0zM711 454.8a1.3 1.1 0 1 0 2.5 0a1.3 1.1 0 1 0 -2.5 0zM718.5 259.4a2.3 1.7 78 1 0 .9 4.6a2.3 1.7 78 1 0 -.9 -4.6zM701.3 261.2a1 1 0 1 0 2.1 0a1 1 0 1 0 -2.1 0zM611.7 365.9a1.4 .8 0 1 0 2.8 0a1.4 .8 0 1 0 -2.8 0zM683 408.7a1 1 0 1 0 2.1 0a1 1 0 1 0 -2.1 0zM724.3 410.9a3.3 2.9 14 1 0 6.5 1.6a3.3 2.9 14 1 0 -6.5 -1.6zM651.1 346.9a1.6 1 0 1 0 3.2 0a1.6 1 0 1 0 -3.2 0zM649.5 440.4a1 .6 0 1 0 2 0a1 .6 0 1 0 -2 0zM646.1 311.4a3.4 2.5 57 1 0 3.7 5.6a3.4 2.5 57 1 0 -3.7 -5.6zM702.2 408a1.1 .7 0 1 0 2.2 0a1.1 .7 0 1 0 -2.2 0zM664.1 306.5a2.2 1.6 26 1 0 3.9 1.9a2.2 1.6 26 1 0 -3.9 -1.9zM705.2 340.7a2 1.9 0 1 0 4 0a2 1.9 0 1 0 -4 0zM708.6 299.4a1 .7 0 1 0 2 0a1 .7 0 1 0 -2 0zM699 265.4a2.4 2.1 27 1 0 4.3 2.1a2.4 2.1 27 1 0 -4.3 -2.1zM608.5 277.7a2.4 2.2 37 1 0 3.9 2.9a2.4 2.2 37 1 0 -3.9 -2.9zM721.8 292.1a1.8 1.1 0 1 0 3.5 0a1.8 1.1 0 1 0 -3.5 0zM677.4 447.7a2 1.9 0 1 0 3.9 0a2 1.9 0 1 0 -3.9 0zM651.6 325a1 .9 0 1 0 2 0a1 .9 0 1 0 -2 0zM674.1 330.9a1 .7 0 1 0 2 0a1 .7 0 1 0 -2 0zM690.6 325.5a1.9 1.3 0 1 0 3.8 0a1.9 1.3 0 1 0 -3.8 0zM700.2 312a2.5 1.5 95 1 0 -.5 5a2.5 1.5 95 1 0 .5 -5zM689.8 241.8a1 1 0 1 0 2 0a1 1 0 1 0 -2 0zM674.2 357.8a1.1 .7 0 1 0 2.2 0a1.1 .7 0 1 0 -2.2 0zM671 421.6a1.1 .8 0 1 0 2.3 0a1.1 .8 0 1 0 -2.3 0zM654.4 407.7a1.3 1.2 0 1 0 2.5 0a1.3 1.2 0 1 0 -2.5 0zM745.6 355.5a1.5 1.3 0 1 0 3 0a1.5 1.3 0 1 0 -3 0zM634.6 309.5a1.8 1.1 0 1 0 3.6 0a1.8 1.1 0 1 0 -3.6 0zM727.6 418.3a1.2 .7 0 1 0 2.4 0a1.2 .7 0 1 0 -2.4 0zM740.8 394.6a4.7 2.8 92 1 0 -.3 9.4a4.7 2.8 92 1 0 .3 -9.4zM655.9 283.6a1 .7 0 1 0 2 0a1 .7 0 1 0 -2 0zM599.6 388.1a1 .9 0 1 0 2 0a1 .9 0 1 0 -2 0zM738 262.6a1 .9 0 1 0 2 0a1 .9 0 1 0 -2 0zM617.3 307.4a1 1 0 1 0 2 0a1 1 0 1 0 -2 0zM603.1 359.5a4.5 3.7 99 1 0 -1.5 8.9a4.5 3.7 99 1 0 1.5 -8.9zM639.4 402.4a1.8 1.2 0 1 0 3.5 0a1.8 1.2 0 1 0 -3.5 0zM745.6 288.8a1.1 .8 0 1 0 2.2 0a1.1 .8 0 1 0 -2.2 0zM698.6 393.9a2.7 2.3 69 1 0 1.9 5a2.7 2.3 69 1 0 -1.9 -5zM642.4 388.6a1.1 1 0 1 0 2.2 0a1.1 1 0 1 0 -2.2 0zM698.6 242.3a1.2 .7 0 1 0 2.4 0a1.2 .7 0 1 0 -2.4 0zM701.4 412.1a1 .6 0 1 0 2 0a1 .6 0 1 0 -2 0zM604.9 297.2a2.2 1.9 112 1 0 -1.6 4.1a2.2 1.9 112 1 0 1.6 -4.1zM641 328.6a2.1 1.9 4 1 0 4.3 .3a2.1 1.9 4 1 0 -4.3 -.3zM737 340.7a1.8 1.5 0 1 0 3.6 0a1.8 1.5 0 1 0 -3.6 0zM736.8 404.9a4.2 2.7 141 1 0 -6.6 5.3a4.2 2.7 141 1 0 6.6 -5.3zM747.9 422a4.4 4.2 155 1 0 -8 3.7a4.4 4.2 155 1 0 8 -3.7zM606.4 319a1 .8 0 1 0 2 0a1 .8 0 1 0 -2 0zM605 457.9a1.2 .7 0 1 0 2.3 0a1.2 .7 0 1 0 -2.3 0zM656.4 355a1.1 .7 0 1 0 2.2 0a1.1 .7 0 1 0 -2.2 0zM718.8 393.2a2.1 2.1 11 1 0 4.1 .8a2.1 2.1 11 1 0 -4.1 -.8zM638.1 415.7a1.4 1.2 0 1 0 2.8 0a1.4 1.2 0 1 0 -2.8 0zM626 308.3a3.1 3.1 161 1 0 -5.9 2a3.1 3.1 161 1 0 5.9 -2zM617.9 269.3a1.1 .8 0 1 0 2.2 0a1.1 .8 0 1 0 -2.2 0zM656.8 259.2a1.5 1 0 1 0 3.1 0a1.5 1 0 1 0 -3.1 0zM715.1 358.7a4.1 3.3 157 1 0 -7.6 3.3a4.1 3.3 157 1 0 7.6 -3.3zM643.9 365.7a4.1 3.9 122 1 0 -4.3 6.9a4.1 3.9 122 1 0 4.3 -6.9zM729.7 439.4a1.1 .6 0 1 0 2.2 0a1.1 .6 0 1 0 -2.2 0zM623.6 455.5a4.3 3.5 180 1 0 -8.6 0a4.3 3.5 180 1 0 8.6 -0zM727.6 336a1.7 1.6 0 1 0 3.4 0a1.7 1.6 0 1 0 -3.4 0zM621 278.5a2.7 1.8 54 1 0 3.2 4.4a2.7 1.8 54 1 0 -3.2 -4.4zM741.4 251.2a1 .7 0 1 0 2 0a1 .7 0 1 0 -2 0zM626 342.7a2.2 1.2 48 1 0 2.9 3.3a2.2 1.2 48 1 0 -2.9 -3.3zM745.2 256.1a3 2.7 129 1 0 -3.8 4.6a3 2.7 129 1 0 3.8 -4.6zM694.3 391.1a1.2 1 0 1 0 2.4 0a1.2 1 0 1 0 -2.4 0zM658.9 277.2a2.3 1.4 94 1 0 -.3 4.6a2.3 1.4 94 1 0 .3 -4.6zM743.1 320.2a1 .9 0 1 0 2 0a1 .9 0 1 0 -2 0zM662.2 403a1.1 .7 0 1 0 2.1 0a1.1 .7 0 1 0 -2.1 0zM645.9 426.2a1.7 1.3 0 1 0 3.5 0a1.7 1.3 0 1 0 -3.5 0zM639 349.2a1.6 1.2 0 1 0 3.1 0a1.6 1.2 0 1 0 -3.1 0zM695.6 393a1.4 1.3 0 1 0 2.8 0a1.4 1.3 0 1 0 -2.8 0zM743.5 455.4a1.3 .8 0 1 0 2.6 0a1.3 .8 0 1 0 -2.6 0zM718.2 360.1a1.1 .8 0 1 0 2.2 0a1.1 .8 0 1 0 -2.2 0zM704.2 396.5a1.4 1.2 0 1 0 2.7 0a1.4 1.2 0 1 0 -2.7 0zM731.4 420.3a3.3 2.2 97 1 0 -.8 6.6a3.3 2.2 97 1 0 .8 -6.6zM729.6 293.9a2.6 2.3 95 1 0 -.4 5.2a2.6 2.3 95 1 0 .4 -5.2zM669.2 409.7a2.1 1.3 5 1 0 4.1 .4a2.1 1.3 5 1 0 -4.1 -.4zM644.3 315a1.8 1.2 0 1 0 3.6 0a1.8 1.2 0 1 0 -3.6 0zM709 400.4a1.1 .9 0 1 0 2.2 0a1.1 .9 0 1 0 -2.2 0zM708.5 275.5a1.2 .7 0 1 0 2.4 0a1.2 .7 0 1 0 -2.4 0zM626.9 250.2a1 .9 0 1 0 2 0a1 .9 0 1 0 -2 0zM614.9 266.9a1 .9 0 1 0 2 0a1 .9 0 1 0 -2 0zM694.3 417a1 .8 0 1 0 2 0a1 .8 0 1 0 -2 0zM708.3 293.3a1.1 .6 0 1 0 2.1 0a1.1 .6 0 1 0 -2.1 0zM639.9 311.8a2.1 1.4 18 1 0 4 1.3a2.1 1.4 18 1 0 -4 -1.3zM746.8 340.7a1 .8 0 1 0 2 0a1 .8 0 1 0 -2 0zM661.3 433.4a1 .9 0 1 0 2 0a1 .9 0 1 0 -2 0zM642.7 375.2a1.8 1 0 1 0 3.5 0a1.8 1 0 1 0 -3.5 0zM643.1 354.8a3.3 3.2 165 1 0 -6.4 1.7a3.3 3.2 165 1 0 6.4 -1.7zM689.2 407.3a1 .8 0 1 0 2.1 0a1 .8 0 1 0 -2.1 0zM617.2 359a1 .8 0 1 0 2 0a1 .8 0 1 0 -2 0z" fill="#d2cfc8"/>
<path d="M715.5 278.7a1.7 1.3 0 1 0 3.4 0a1.7 1.3 0 1 0 -3.4 0zM621.3 271.9a3 2.8 34 1 0 5 3.4a3 2.8 34 1 0 -5 -3.4zM641 276.1a2.2 1.3 101 1 0 -.8 4.3a2.2 1.3 101 1 0 .8 -4.3zM724.4 373.9a1.2 1.2 0 1 0 2.4 0a1.2 1.2 0 1 0 -2.4 0zM597.1 298.7a1.4 .8 0 1 0 2.9 0a1.4 .8 0 1 0 -2.9 0zM742.4 382.9a2.6 2.1 6 1 0 5.2 .6a2.6 2.1 6 1 0 -5.2 -.6zM633.8 242.5a1.1 1 0 1 0 2.3 0a1.1 1 0 1 0 -2.3 0zM727.9 323.8a1.9 1.3 0 1 0 3.8 0a1.9 1.3 0 1 0 -3.8 0zM615.7 339.2a1 .9 0 1 0 2 0a1 .9 0 1 0 -2 0zM695.2 411.6a4.4 3.8 86 1 0 .7 8.9a4.4 3.8 86 1 0 -.7 -8.9zM621.8 242.3a1.4 1.2 0 1 0 2.8 0a1.4 1.2 0 1 0 -2.8 0zM708 417.7a2.4 2.1 162 1 0 -4.5 1.5a2.4 2.1 162 1 0 4.5 -1.5zM740.3 441.3a1.2 .9 0 1 0 2.4 0a1.2 .9 0 1 0 -2.4 0zM610.9 399.3a1 .8 0 1 0 2.1 0a1 .8 0 1 0 -2.1 0zM678 424a2.2 2.1 133 1 0 -3.1 3.2a2.2 2.1 133 1 0 3.1 -3.2zM631.7 454.7a3.9 2.4 131 1 0 -5.1 5.9a3.9 2.4 131 1 0 5.1 -5.9zM599.9 360.3a1.8 1.4 0 1 0 3.6 0a1.8 1.4 0 1 0 -3.6 0zM691.3 348.7a4.3 4 164 1 0 -8.3 2.4a4.3 4 164 1 0 8.3 -2.4zM615.5 334.3a2.3 1.7 105 1 0 -1.2 4.5a2.3 1.7 105 1 0 1.2 -4.5zM688.9 377.8a3 1.9 176 1 0 -5.9 .4a3 1.9 176 1 0 5.9 -.4zM734.2 431.6a1 .6 0 1 0 2 0a1 .6 0 1 0 -2 0zM719.6 355.5a3.4 2.7 137 1 0 -4.9 4.6a3.4 2.7 137 1 0 4.9 -4.6zM707.3 456a1.4 .9 0 1 0 2.8 0a1.4 .9 0 1 0 -2.8 0zM683.8 438.2a1 .6 0 1 0 2 0a1 .6 0 1 0 -2 0zM627.1 290.1a2.3 1.9 33 1 0 3.8 2.5a2.3 1.9 33 1 0 -3.8 -2.5zM716.1 323.9a1.7 1.3 0 1 0 3.4 0a1.7 1.3 0 1 0 -3.4 0zM650.1 412.4a2.7 2.3 28 1 0 4.8 2.6a2.7 2.3 28 1 0 -4.8 -2.6zM723 421.8a3.4 2 129 1 0 -4.3 5.3a3.4 2 129 1 0 4.3 -5.3zM719.9 285.4a1.7 1.3 0 1 0 3.3 0a1.7 1.3 0 1 0 -3.3 0zM615.4 260.6a2 1.7 0 1 0 3.9 0a2 1.7 0 1 0 -3.9 0zM655.3 421.4a2.1 1.3 28 1 0 3.8 2a2.1 1.3 28 1 0 -3.8 -2zM748.6 352a2.6 2.4 170 1 0 -5.2 .9a2.6 2.4 170 1 0 5.2 -.9zM623.2 359.4a1 .6 0 1 0 2 0a1 .6 0 1 0 -2 0zM653.7 365.8a3.2 1.8 84 1 0 .7 6.5a3.2 1.8 84 1 0 -.7 -6.5zM708.4 306.4a1.9 1.1 0 1 0 3.8 0a1.9 1.1 0 1 0 -3.8 0zM674.8 292.1a1.2 .9 0 1 0 2.4 0a1.2 .9 0 1 0 -2.4 0zM728.6 457a1.1 .9 0 1 0 2.2 0a1.1 .9 0 1 0 -2.2 0zM650.4 381.2a3.9 3.2 54 1 0 4.5 6.3a3.9 3.2 54 1 0 -4.5 -6.3zM722.7 389.2a1.8 1.8 0 1 0 3.7 0a1.8 1.8 0 1 0 -3.7 0zM714.3 253.3a1.3 .9 0 1 0 2.6 0a1.3 .9 0 1 0 -2.6 0zM620.5 338.3a2.7 1.5 160 1 0 -5.1 1.8a2.7 1.5 160 1 0 5.1 -1.8zM599.1 455a3 2.7 46 1 0 4.3 4.3a3 2.7 46 1 0 -4.3 -4.3zM647.2 280a1.7 1 0 1 0 3.3 0a1.7 1 0 1 0 -3.3 0zM699.9 319.1a1.2 .6 0 1 0 2.3 0a1.2 .6 0 1 0 -2.3 0zM634.3 322.4a3.6 3.2 65 1 0 3.1 6.6a3.6 3.2 65 1 0 -3.1 -6.6zM634 396.2a2.5 1.5 50 1 0 3.2 3.8a2.5 1.5 50 1 0 -3.2 -3.8zM703 328.4a1.4 1.3 0 1 0 2.7 0a1.4 1.3 0 1 0 -2.7 0zM631.3 260.3a1.2 .9 0 1 0 2.4 0a1.2 .9 0 1 0 -2.4 0zM669.7 367.7a1.6 1.1 0 1 0 3.3 0a1.6 1.1 0 1 0 -3.3 0zM601.3 312.8a3.3 2.7 120 1 0 -3.4 5.8a3.3 2.7 120 1 0 3.4 -5.8zM617.7 282a1.1 .9 0 1 0 2.2 0a1.1 .9 0 1 0 -2.2 0zM615.7 337.3a2.8 2.2 156 1 0 -5.2 2.3a2.8 2.2 156 1 0 5.2 -2.3zM702.1 372.6a3.5 3.2 68 1 0 2.6 6.4a3.5 3.2 68 1 0 -2.6 -6.4zM680.2 271.3a1.8 1.2 0 1 0 3.7 0a1.8 1.2 0 1 0 -3.7 0zM705.2 278.3a1 .6 0 1 0 2 0a1 .6 0 1 0 -2 0zM663.7 367.2a2.1 2.1 84 1 0 .4 4.2a2.1 2.1 84 1 0 -.4 -4.2zM598.9 313.7a3.2 2.9 33 1 0 5.3 3.4a3.2 2.9 33 1 0 -5.3 -3.4zM629.3 373.9a3.8 3.3 120 1 0 -3.8 6.6a3.8 3.3 120 1 0 3.8 -6.6zM639.8 369.3a2.6 1.7 125 1 0 -3 4.3a2.6 1.7 125 1 0 3 -4.3zM632.2 329.7a1 1 0 1 0 2.1 0a1 1 0 1 0 -2.1 0zM623.3 380.2a2.3 2 146 1 0 -3.8 2.5a2.3 2 146 1 0 3.8 -2.5zM712.8 293.8a1.4 .8 0 1 0 2.7 0a1.4 .8 0 1 0 -2.7 0zM725.8 450.1a1.5 .8 0 1 0 3 0a1.5 .8 0 1 0 -3 0zM709.6 251.6a1 .7 0 1 0 2 0a1 .7 0 1 0 -2 0zM708.7 322.4a1.5 1.1 0 1 0 3 0a1.5 1.1 0 1 0 -3 0zM746.6 309.8a2.3 1.5 131 1 0 -3.1 3.5a2.3 1.5 131 1 0 3.1 -3.5zM718.7 259a2.3 1.5 96 1 0 -.5 4.7a2.3 1.5 96 1 0 .5 -4.7zM673.2 383.2a4.1 3.7 10 1 0 8.1 1.4a4.1 3.7 10 1 0 -8.1 -1.4zM605.9 436.6a1 .8 0 1 0 2 0a1 .8 0 1 0 -2 0zM653.9 435.7a4.7 3.4 142 1 0 -7.4 5.8a4.7 3.4 142 1 0 7.4 -5.8zM740.7 443.1a1.3 1.3 0 1 0 2.6 0a1.3 1.3 0 1 0 -2.6 0zM631.6 440.4a3.6 3.4 92 1 0 -.2 7.3a3.6 3.4 92 1 0 .2 -7.3zM744.6 302.9a1 .9 0 1 0 2.1 0a1 .9 0 1 0 -2.1 0zM720.2 290.3a2.8 2.5 163 1 0 -5.3 1.7a2.8 2.5 163 1 0 5.3 -1.7zM720 393.3a3.3 3 147 1 0 -5.6 3.7a3.3 3 147 1 0 5.6 -3.7zM704.6 401.7a4.7 3.9 131 1 0 -6.1 7.1a4.7 3.9 131 1 0 6.1 -7.1zM700.3 352.5a1.2 .8 0 1 0 2.5 0a1.2 .8 0 1 0 -2.5 0zM678.1 340.5a2.7 1.8 105 1 0 -1.4 5.3a2.7 1.8 105 1 0 1.4 -5.3zM642.9 454.4a1 .7 0 1 0 2.1 0a1 .7 0 1 0 -2.1 0zM609.5 244.6a1.9 1.2 0 1 0 3.9 0a1.9 1.2 0 1 0 -3.9 0zM634.5 243.5a1.1 .9 0 1 0 2.3 0a1.1 .9 0 1 0 -2.3 0zM602.9 412.7a2.3 1.5 156 1 0 -4.2 1.8a2.3 1.5 156 1 0 4.2 -1.8zM662 404.1a2.1 1.7 84 1 0 .5 4.2a2.1 1.7 84 1 0 -.5 -4.2zM648.3 363.9a2.3 1.3 118 1 0 -2.2 4a2.3 1.3 118 1 0 2.2 -4zM710.3 252.5a1 .9 0 1 0 2 0a1 .9 0 1 0 -2 0zM703.4 251a2.4 1.5 7 1 0 4.8 .6a2.4 1.5 7 1 0 -4.8 -.6zM722.1 368a4.1 2.3 52 1 0 5 6.4a4.1 2.3 52 1 0 -5 -6.4zM624 264.4a1.1 .9 0 1 0 2.1 0a1.1 .9 0 1 0 -2.1 0zM709.2 408.5a2.7 2.6 71 1 0 1.8 5a2.7 2.6 71 1 0 -1.8 -5zM623.7 334.5a3.3 3.3 66 1 0 2.7 6.1a3.3 3.3 66 1 0 -2.7 -6.1zM595.2 240.2a1 .7 0 1 0 2 0a1 .7 0 1 0 -2 0zM745.7 379a1 .9 0 1 0 2 0a1 .9 0 1 0 -2 0zM713.9 450.8a1.1 .9 0 1 0 2.2 0a1.1 .9 0 1 0 -2.2 0zM654.8 257.3a1.9 1.2 0 1 0 3.9 0a1.9 1.2 0 1 0 -3.9 0zM705.6 341.1a1 .6 0 1 0 2 0a1 .6 0 1 0 -2 0zM716.1 440.8a1.2 .9 0 1 0 2.5 0a1.2 .9 0 1 0 -2.5 0zM620.5 376.4a3.9 2.3 137 1 0 -5.7 5.4a3.9 2.3 137 1 0 5.7 -5.4zM629 431.3a1.3 1 0 1 0 2.7 0a1.3 1 0 1 0 -2.7 0zM691.8 415a1.3 .8 0 1 0 2.6 0a1.3 .8 0 1 0 -2.6 0zM653.8 439a3.7 3 145 1 0 -6.2 4.3a3.7 3 145 1 0 6.2 -4.3zM694.4 340.2a2.9 2.5 95 1 0 -.5 5.8a2.9 2.5 95 1 0 .5 -5.8zM720.4 260.1a1 .6 0 1 0 2.1 0a1 .6 0 1 0 -2.1 0zM629.3 395.1a3.2 1.9 57 1 0 3.5 5.4a3.2 1.9 57 1 0 -3.5 -5.4zM626.4 398.9a3.8 3.4 15 1 0 7.4 1.9a3.8 3.4 15 1 0 -7.4 -1.9zM674.5 384.4a1.3 1.1 0 1 0 2.6 0a1.3 1.1 0 1 0 -2.6 0zM678.3 263.7a1 .7 0 1 0 2 0a1 .7 0 1 0 -2 0zM659 414.8a1.3 1.3 0 1 0 2.6 0a1.3 1.3 0 1 0 -2.6 0zM710.7 418.5a4.7 4.2 102 1 0 -2 9.2a4.7 4.2 102 1 0 2 -9.2zM728.8 317.1a1 .7 0 1 0 2 0a1 .7 0 1 0 -2 0zM661.9 416.1a1.2 1.1 0 1 0 2.4 0a1.2 1.1 0 1 0 -2.4 0zM704.5 444a2.6 1.7 87 1 0 .3 5.3a2.6 1.7 87 1 0 -.3 -5.3zM743.4 277a2.2 2.2 1 1 0 4.4 .1a2.2 2.2 1 1 0 -4.4 -.1zM716.7 420.2a1 .7 0 1 0 2.1 0a1 .7 0 1 0 -2.1 0zM733 418.9a3.5 3.2 62 1 0 3.2 6.1a3.5 3.2 62 1 0 -3.2 -6.1zM601.6 361.8a1.5 1.4 0 1 0 2.9 0a1.5 1.4 0 1 0 -2.9 0zM683.2 310.6a1.3 1.1 0 1 0 2.6 0a1.3 1.1 0 1 0 -2.6 0zM678.1 387.8a2 1.6 0 1 0 4 0a2 1.6 0 1 0 -4 0zM703.1 329.2a4 3.1 92 1 0 -.3 8.1a4 3.1 92 1 0 .3 -8.1zM619.4 317.6a1.5 1.4 0 1 0 2.9 0a1.5 1.4 0 1 0 -2.9 0zM601.3 381.2a1.7 1.2 0 1 0 3.5 0a1.7 1.2 0 1 0 -3.5 0zM629.8 335.4a1.5 1.2 0 1 0 2.9 0a1.5 1.2 0 1 0 -2.9 0zM693.2 343a3 2.7 176 1 0 -6 .4a3 2.7 176 1 0 6 -.4zM602.8 418.4a1.2 .7 0 1 0 2.4 0a1.2 .7 0 1 0 -2.4 0zM724.4 365.1a4 3.4 67 1 0 3.1 7.3a4 3.4 67 1 0 -3.1 -7.3zM668.8 261a3 2.3 88 1 0 .2 6a3 2.3 88 1 0 -.2 -6zM716.6 299.6a1.8 1.1 0 1 0 3.7 0a1.8 1.1 0 1 0 -3.7 0zM599.7 258.3a1.6 1 0 1 0 3.1 0a1.6 1 0 1 0 -3.1 0zM715.5 291.6a2.6 1.5 91 1 0 -.1 5.1a2.6 1.5 91 1 0 .1 -5.1zM698.4 248.5a2.2 1.3 140 1 0 -3.4 2.8a2.2 1.3 140 1 0 3.4 -2.8zM648.5 366.6a1 .7 0 1 0 2.1 0a1 .7 0 1 0 -2.1 0zM739.6 388.9a1.1 .9 0 1 0 2.1 0a1.1 .9 0 1 0 -2.1 0zM653.3 322.5a1.3 .9 0 1 0 2.5 0a1.3 .9 0 1 0 -2.5 0zM722.9 377.9a1 .9 0 1 0 2.1 0a1 .9 0 1 0 -2.1 0zM687.6 326.9a3.9 2.9 56 1 0 4.4 6.5a3.9 2.9 56 1 0 -4.4 -6.5zM700 387a1 .6 0 1 0 2 0a1 .6 0 1 0 -2 0zM662.4 387.9a1 .7 0 1 0 2 0a1 .7 0 1 0 -2 0zM674.9 252a1.1 .9 0 1 0 2.2 0a1.1 .9 0 1 0 -2.2 0zM721.2 381.9a1.1 1.1 0 1 0 2.1 0a1.1 1.1 0 1 0 -2.1 0zM672.2 340.3a1.1 .7 0 1 0 2.1 0a1.1 .7 0 1 0 -2.1 0zM619.7 249a1.8 1.5 0 1 0 3.6 0a1.8 1.5 0 1 0 -3.6 0zM708.7 370.9a1 .9 0 1 0 2.1 0a1 .9 0 1 0 -2.1 0zM599.2 274.5a2.2 2 14 1 0 4.4 1.1a2.2 2 14 1 0 -4.4 -1.1zM620 385.4a1.6 1 0 1 0 3.1 0a1.6 1 0 1 0 -3.1 0zM604.9 362.2a1.8 1.2 0 1 0 3.6 0a1.8 1.2 0 1 0 -3.6 0zM636.8 372.4a1.2 1 0 1 0 2.3 0a1.2 1 0 1 0 -2.3 0zM715.3 318.2a1.1 1 0 1 0 2.3 0a1.1 1 0 1 0 -2.3 0zM671 409.6a2.3 1.9 26 1 0 4.2 2a2.3 1.9 26 1 0 -4.2 -2zM710.4 266.1a1 1 0 1 0 2 0a1 1 0 1 0 -2 0zM685 367.5a1.4 1 0 1 0 2.9 0a1.4 1 0 1 0 -2.9 0zM659.9 313.4a3.6 3 83 1 0 .9 7.1a3.6 3 83 1 0 -.9 -7.1zM692.2 271.2a1.1 .9 0 1 0 2.2 0a1.1 .9 0 1 0 -2.2 0zM631.7 243.8a1.3 1 0 1 0 2.7 0a1.3 1 0 1 0 -2.7 0zM621.3 331.4a1 .9 0 1 0 2 0a1 .9 0 1 0 -2 0zM644.2 393.5a2.3 1.3 111 1 0 -1.7 4.4a2.3 1.3 111 1 0 1.7 -4.4zM693.9 412.4a4.8 2.8 42 1 0 7.1 6.4a4.8 2.8 42 1 0 -7.1 -6.4zM740.2 398.2a1.2 .7 0 1 0 2.4 0a1.2 .7 0 1 0 -2.4 0zM607.9 375.2a4.4 2.7 83 1 0 1.1 8.7a4.4 2.7 83 1 0 -1.1 -8.7zM716.6 360.6a2.4 1.4 105 1 0 -1.3 4.6a2.4 1.4 105 1 0 1.3 -4.6zM650.2 239.1a2.6 1.6 94 1 0 -.3 5.2a2.6 1.6 94 1 0 .3 -5.2zM694.1 442.1a1.3 .9 0 1 0 2.6 0a1.3 .9 0 1 0 -2.6 0zM657.2 397.9a1 .8 0 1 0 2 0a1 .8 0 1 0 -2 0zM626.9 309.5a1.1 1 0 1 0 2.1 0a1.1 1 0 1 0 -2.1 0zM734.2 422a1.4 1.4 0 1 0 2.9 0a1.4 1.4 0 1 0 -2.9 0zM741.5 418.2a1.7 1 0 1 0 3.4 0a1.7 1 0 1 0 -3.4 0zM665.7 445.5a2.3 2.2 73 1 0 1.3 4.4a2.3 2.2 73 1 0 -1.3 -4.4zM665 248.1a1.5 1.4 0 1 0 3.1 0a1.5 1.4 0 1 0 -3.1 0zM691.8 376a4.1 2.2 18 1 0 7.7 2.5a4.1 2.2 18 1 0 -7.7 -2.5zM650.6 439.2a1.7 1.5 0 1 0 3.3 0a1.7 1.5 0 1 0 -3.3 0zM619 273.8a2 1.6 0 1 0 3.9 0a2 1.6 0 1 0 -3.9 0zM735.6 284.7a2.8 2.7 126 1 0 -3.3 4.5a2.8 2.7 126 1 0 3.3 -4.5zM678 439.5a1.6 1.2 0 1 0 3.2 0a1.6 1.2 0 1 0 -3.2 0zM667 453.3a1.9 1.2 0 1 0 3.8 0a1.9 1.2 0 1 0 -3.8 0zM698 369.2a1 .8 0 1 0 2 0a1 .8 0 1 0 -2 0zM730.9 251.5a2.9 1.9 111 1 0 -2.1 5.3a2.9 1.9 111 1 0 2.1 -5.3zM743.7 335.6a3.2 1.8 178 1 0 -6.4 .3a3.2 1.8 178 1 0 6.4 -.3zM652.5 306.4a1.5 1.2 0 1 0 3.1 0a1.5 1.2 0 1 0 -3.1 0zM660.1 403.8a2.5 1.7 43 1 0 3.6 3.3a2.5 1.7 43 1 0 -3.6 -3.3zM637.4 437.2a1.7 1.6 0 1 0 3.4 0a1.7 1.6 0 1 0 -3.4 0zM680.2 356.5a1.3 1 0 1 0 2.7 0a1.3 1 0 1 0 -2.7 0zM697.4 257.9a2.9 2 99 1 0 -.9 5.7a2.9 2 99 1 0 .9 -5.7zM614.5 429a3.3 2 132 1 0 -4.3 4.9a3.3 2 132 1 0 4.3 -4.9zM729.9 396.5a1 1 0 1 0 2 0a1 1 0 1 0 -2 0zM692.9 406.4a2 1.2 0 1 0 4 0a2 1.2 0 1 0 -4 0zM632 373.1a1.3 .8 0 1 0 2.7 0a1.3 .8 0 1 0 -2.7 0zM673 300.7a1.4 1.3 0 1 0 2.7 0a1.4 1.3 0 1 0 -2.7 0zM702.8 390.6a2.6 2.5 26 1 0 4.7 2.3a2.6 2.5 26 1 0 -4.7 -2.3zM707.4 317.9a1 .8 0 1 0 2 0a1 .8 0 1 0 -2 0zM640.6 407a3.1 3 38 1 0 4.9 3.8a3.1 3 38 1 0 -4.9 -3.8zM737.2 400.5a1.5 1.5 0 1 0 3.1 0a1.5 1.5 0 1 0 -3.1 0zM621.8 393.9a1.9 1.4 0 1 0 3.7 0a1.9 1.4 0 1 0 -3.7 0zM606 265.7a3.2 2.5 81 1 0 1 6.3a3.2 2.5 81 1 0 -1 -6.3zM601.1 420.1a1 .8 0 1 0 2 0a1 .8 0 1 0 -2 0zM671.9 253.1a1 .6 0 1 0 2 0a1 .6 0 1 0 -2 0zM722.1 387.3a3.3 2.1 152 1 0 -5.8 3.1a3.3 2.1 152 1 0 5.8 -3.1zM664.2 244a2.1 1.3 166 1 0 -4.1 1a2.1 1.3 166 1 0 4.1 -1zM632.1 409.6a1.1 .8 0 1 0 2.1 0a1.1 .8 0 1 0 -2.1 0zM673 404.6a2 1.5 144 1 0 -3.2 2.4a2 1.5 144 1 0 3.2 -2.4zM674.9 375.3a3.7 2.5 76 1 0 1.8 7.1a3.7 2.5 76 1 0 -1.8 -7.1zM598.6 283.6a2.5 1.5 61 1 0 2.4 4.4a2.5 1.5 61 1 0 -2.4 -4.4zM661.4 305.2a1.2 .8 0 1 0 2.5 0a1.2 .8 0 1 0 -2.5 0zM721.9 343.7a1.1 1.1 0 1 0 2.1 0a1.1 1.1 0 1 0 -2.1 0zM677.6 376.5a1 .8 0 1 0 2 0a1 .8 0 1 0 -2 0zM597.9 369.4a4.7 3.5 3 1 0 9.3 .6a4.7 3.5 3 1 0 -9.3 -.6zM746.8 453.3a1.1 .9 0 1 0 2.2 0a1.1 .9 0 1 0 -2.2 0zM665 349.1a1.2 1.1 0 1 0 2.5 0a1.2 1.1 0 1 0 -2.5 0zM719.9 405.7a2.3 1.3 145 1 0 -3.8 2.6a2.3 1.3 145 1 0 3.8 -2.6zM741.9 279.7a2.5 1.4 125 1 0 -2.9 4.1a2.5 1.4 125 1 0 2.9 -4.1zM743.3 348a1.3 1.3 0 1 0 2.7 0a1.3 1.3 0 1 0 -2.7 0zM645.2 411.5a1 .9 0 1 0 2 0a1 .9 0 1 0 -2 0zM726.7 419.4a1.4 .8 0 1 0 2.7 0a1.4 .8 0 1 0 -2.7 0zM668.5 360.1a3.4 3.2 174 1 0 -6.8 .7a3.4 3.2 174 1 0 6.8 -.7zM664.7 342.5a1 .7 0 1 0 2.1 0a1 .7 0 1 0 -2.1 0zM605 438.6a1.6 1.2 0 1 0 3.1 0a1.6 1.2 0 1 0 -3.1 0zM636.2 345a1.5 .9 0 1 0 2.9 0a1.5 .9 0 1 0 -2.9 0zM730.6 337a1.2 1.1 0 1 0 2.4 0a1.2 1.1 0 1 0 -2.4 0zM671.5 390.5a2.8 2.6 167 1 0 -5.5 1.3a2.8 2.6 167 1 0 5.5 -1.3zM740.7 373.1a3.4 2.2 39 1 0 5.3 4.3a3.4 2.2 39 1 0 -5.3 -4.3zM635.9 287.9a2.4 2.3 54 1 0 2.8 3.8a2.4 2.3 54 1 0 -2.8 -3.8zM658 253.2a1 .8 0 1 0 2 0a1 .8 0 1 0 -2 0zM613.1 295.8a1 .6 0 1 0 2.1 0a1 .6 0 1 0 -2.1 0zM661.6 430.4a1.4 1 0 1 0 2.7 0a1.4 1 0 1 0 -2.7 0zM689 413.4a4.8 4.1 177 1 0 -9.6 .5a4.8 4.1 177 1 0 9.6 -.5zM731.4 237.7a2.9 2.5 85 1 0 .5 5.9a2.9 2.5 85 1 0 -.5 -5.9zM720 408.3a1.1 .7 0 1 0 2.1 0a1.1 .7 0 1 0 -2.1 0zM666.4 299.5a3.8 2.3 153 1 0 -6.7 3.4a3.8 2.3 153 1 0 6.7 -3.4zM603.6 347a1.7 1.1 0 1 0 3.3 0a1.7 1.1 0 1 0 -3.3 0zM664.3 391.6a2 1.6 51 1 0 2.5 3.1a2 1.6 51 1 0 -2.5 -3.1zM633.8 454.5a1 .6 0 1 0 2 0a1 .6 0 1 0 -2 0zM647.5 357.5a1.4 .9 0 1 0 2.8 0a1.4 .9 0 1 0 -2.8 0zM729.4 424a3.2 2.8 102 1 0 -1.4 6.2a3.2 2.8 102 1 0 1.4 -6.2zM630 347.9a4.4 4.3 114 1 0 -3.6 8a4.4 4.3 114 1 0 3.6 -8zM601.6 342.8a1.1 .8 0 1 0 2.2 0a1.1 .8 0 1 0 -2.2 0zM669.1 334.8a2 1.2 0 1 0 3.9 0a2 1.2 0 1 0 -3.9 0zM616.9 358a3.4 2.5 149 1 0 -5.9 3.5a3.4 2.5 149 1 0 5.9 -3.5zM623 313.2a3.8 2.4 121 1 0 -3.8 6.5a3.8 2.4 121 1 0 3.8 -6.5zM657.3 298.8a1.1 .9 0 1 0 2.2 0a1.1 .9 0 1 0 -2.2 0zM644 268a1.1 1 0 1 0 2.2 0a1.1 1 0 1 0 -2.2 0zM709.5 279.4a1.3 1 0 1 0 2.6 0a1.3 1 0 1 0 -2.6 0zM665.1 362.3a2.9 1.8 23 1 0 5.4 2.3a2.9 1.8 23 1 0 -5.4 -2.3zM691.2 312a2.4 1.8 164 1 0 -4.6 1.3a2.4 1.8 164 1 0 4.6 -1.3zM705.2 397.7a2.8 2.5 118 1 0 -2.6 4.9a2.8 2.5 118 1 0 2.6 -4.9zM700.9 272.2a1.2 1.1 0 1 0 2.4 0a1.2 1.1 0 1 0 -2.4 0zM620.8 344.3a1.1 .7 0 1 0 2.1 0a1.1 .7 0 1 0 -2.1 0zM626.9 262.2a1.3 .9 0 1 0 2.6 0a1.3 .9 0 1 0 -2.6 0zM743 393.6a1 .6 0 1 0 2 0a1 .6 0 1 0 -2 0zM722.9 370.6a1.2 .9 0 1 0 2.4 0a1.2 .9 0 1 0 -2.4 0zM732.9 371.8a1.1 .9 0 1 0 2.2 0a1.1 .9 0 1 0 -2.2 0zM660.4 256.9a1.9 1.4 0 1 0 3.8 0a1.9 1.4 0 1 0 -3.8 0zM725 285.7a1.1 .8 0 1 0 2.1 0a1.1 .8 0 1 0 -2.1 0zM626.9 253.5a1 .8 0 1 0 2.1 0a1 .8 0 1 0 -2.1 0zM673.5 284.9a1.2 .9 0 1 0 2.4 0a1.2 .9 0 1 0 -2.4 0zM735.7 258a1 .6 0 1 0 2 0a1 .6 0 1 0 -2 0zM714.4 376.7a1.2 .7 0 1 0 2.4 0a1.2 .7 0 1 0 -2.4 0zM745.6 342.7a2.2 1.8 163 1 0 -4.3 1.3a2.2 1.8 163 1 0 4.3 -1.3zM629.7 251.8a1.9 1.7 0 1 0 3.7 0a1.9 1.7 0 1 0 -3.7 0zM624.4 334.2a1.2 1.1 0 1 0 2.4 0a1.2 1.1 0 1 0 -2.4 0zM632.5 326.9a3.3 2.8 25 1 0 5.9 2.8a3.3 2.8 25 1 0 -5.9 -2.8zM681.7 407.8a1.1 .8 0 1 0 2.2 0a1.1 .8 0 1 0 -2.2 0zM728.2 410a4.2 2.9 78 1 0 1.8 8.1a4.2 2.9 78 1 0 -1.8 -8.1zM620.5 354.5a1.3 1.2 0 1 0 2.7 0a1.3 1.2 0 1 0 -2.7 0zM649.4 336.3a3.2 2.5 39 1 0 5 4.1a3.2 2.5 39 1 0 -5 -4.1zM647.6 270.3a1.7 1.3 0 1 0 3.5 0a1.7 1.3 0 1 0 -3.5 0zM643.5 444.6a3.1 2.3 89 1 0 .1 6.3a3.1 2.3 89 1 0 -.1 -6.3zM712.6 283.3a2.2 1.3 167 1 0 -4.3 1a2.2 1.3 167 1 0 4.3 -1zM653.2 452.7a1.4 1 0 1 0 2.7 0a1.4 1 0 1 0 -2.7 0zM685.3 442.9a1.4 .9 0 1 0 2.7 0a1.4 .9 0 1 0 -2.7 0zM610.6 418.9a1.3 1 0 1 0 2.7 0a1.3 1 0 1 0 -2.7 0zM677.3 428.1a2.5 2.3 54 1 0 2.9 4a2.5 2.3 54 1 0 -2.9 -4zM627.1 351.6a1.2 1.1 0 1 0 2.3 0a1.2 1.1 0 1 0 -2.3 0zM735.3 289a1.7 1.6 0 1 0 3.4 0a1.7 1.6 0 1 0 -3.4 0zM679.4 269.4a3.2 2.1 130 1 0 -4.1 4.8a3.2 2.1 130 1 0 4.1 -4.8zM727.9 275.7a1 .8 0 1 0 2 0a1 .8 0 1 0 -2 0zM715.5 314.3a1.3 .8 0 1 0 2.6 0a1.3 .8 0 1 0 -2.6 0zM613.3 427.7a1.9 1.4 0 1 0 3.7 0a1.9 1.4 0 1 0 -3.7 0zM706.1 334a2.4 2.2 69 1 0 1.7 4.5a2.4 2.2 69 1 0 -1.7 -4.5zM682.7 389.1a2 1.1 64 1 0 1.8 3.7a2 1.1 64 1 0 -1.8 -3.7zM746 389a3.8 2.8 142 1 0 -6 4.7a3.8 2.8 142 1 0 6 -4.7zM605.8 322.5a1.1 .7 0 1 0 2.2 0a1.1 .7 0 1 0 -2.2 0zM597.6 357.4a1 .9 0 1 0 2.1 0a1 .9 0 1 0 -2.1 0zM614.5 338.8a2.8 2 92 1 0 -.2 5.5a2.8 2 92 1 0 .2 -5.5zM722.6 239.3a2.4 2.3 151 1 0 -4.2 2.3a2.4 2.3 151 1 0 4.2 -2.3zM607.9 453.8a2.8 1.6 143 1 0 -4.5 3.3a2.8 1.6 143 1 0 4.5 -3.3zM601.4 451.8a2.2 1.6 141 1 0 -3.5 2.8a2.2 1.6 141 1 0 3.5 -2.8zM722.7 284.5a1 .8 0 1 0 2 0a1 .8 0 1 0 -2 0zM600.4 263.6a1.4 1.1 0 1 0 2.9 0a1.4 1.1 0 1 0 -2.9 0zM701.9 250.9a1.1 .9 0 1 0 2.3 0a1.1 .9 0 1 0 -2.3 0zM663.4 451.7a1 .9 0 1 0 2 0a1 .9 0 1 0 -2 0zM697.1 423.4a2.7 2.3 131 1 0 -3.6 4.1a2.7 2.3 131 1 0 3.6 -4.1zM685.4 397.7a1.6 .9 0 1 0 3.3 0a1.6 .9 0 1 0 -3.3 0zM684.8 273.9a1.2 .9 0 1 0 2.4 0a1.2 .9 0 1 0 -2.4 0zM717.1 240a1.9 1.7 0 1 0 3.9 0a1.9 1.7 0 1 0 -3.9 0zM672.6 447.4a1.1 1 0 1 0 2.3 0a1.1 1 0 1 0 -2.3 0zM666.2 276a1.3 .9 0 1 0 2.7 0a1.3 .9 0 1 0 -2.7 0zM614.5 403.2a1.4 1.2 0 1 0 2.8 0a1.4 1.2 0 1 0 -2.8 0zM699.1 352a1 .6 0 1 0 2 0a1 .6 0 1 0 -2 0zM656.2 353.6a4.1 2.6 96 1 0 -.8 8.2a4.1 2.6 96 1 0 .8 -8.2zM631.3 378.5a2.7 2.1 15 1 0 5.2 1.4a2.7 2.1 15 1 0 -5.2 -1.4zM652.5 384.6a1 .7 0 1 0 2 0a1 .7 0 1 0 -2 0zM661.8 428.3a1.5 1.2 0 1 0 3.1 0a1.5 1.2 0 1 0 -3.1 0zM597.9 288a1.4 .8 0 1 0 2.7 0a1.4 .8 0 1 0 -2.7 0zM647.5 453.8a1 .9 0 1 0 2 0a1 .9 0 1 0 -2 0zM725.1 307.3a1.6 .9 0 1 0 3.1 0a1.6 .9 0 1 0 -3.1 0zM731.2 414.7a1.9 1.6 0 1 0 3.8 0a1.9 1.6 0 1 0 -3.8 0zM617.2 429a1.7 1.4 0 1 0 3.5 0a1.7 1.4 0 1 0 -3.5 0zM695.9 338.5a3.3 1.9 66 1 0 2.7 6.1a3.3 1.9 66 1 0 -2.7 -6.1zM719.9 381.4a1 .6 0 1 0 2 0a1 .6 0 1 0 -2 0zM717.5 308.4a1.4 1.3 0 1 0 2.9 0a1.4 1.3 0 1 0 -2.9 0zM718 359.9a2.5 2.1 160 1 0 -4.7 1.7a2.5 2.1 160 1 0 4.7 -1.7zM627.9 260.8a1.2 .7 0 1 0 2.3 0a1.2 .7 0 1 0 -2.3 0zM660.1 295.2a1 1 0 1 0 2 0a1 1 0 1 0 -2 0zM595.4 374.3a1 .6 0 1 0 2 0a1 .6 0 1 0 -2 0zM664.8 364.5a4.6 3.2 44 1 0 6.6 6.4a4.6 3.2 44 1 0 -6.6 -6.4zM704 444.6a4.5 2.5 91 1 0 -.1 9a4.5 2.5 91 1 0 .1 -9zM641.3 293.4a1.6 1.4 0 1 0 3.1 0a1.6 1.4 0 1 0 -3.1 0zM732.7 266.4a1.1 .8 0 1 0 2.2 0a1.1 .8 0 1 0 -2.2 0zM673.3 374.1a4.3 3.5 15 1 0 8.4 2.3a4.3 3.5 15 1 0 -8.4 -2.3zM747.8 295.5a3.4 3.3 159 1 0 -6.3 2.4a3.4 3.3 159 1 0 6.3 -2.4zM675.2 259.4a1.3 .9 0 1 0 2.6 0a1.3 .9 0 1 0 -2.6 0zM721.5 363a2.7 2.2 50 1 0 3.5 4.2a2.7 2.2 50 1 0 -3.5 -4.2zM686.7 425.2a1 .7 0 1 0 2.1 0a1 .7 0 1 0 -2.1 0zM619.3 323.8a2.7 2.5 128 1 0 -3.3 4.3a2.7 2.5 128 1 0 3.3 -4.3zM614.2 337.5a1.5 .9 0 1 0 2.9 0a1.5 .9 0 1 0 -2.9 0zM672.6 333.3a1 .8 0 1 0 2 0a1 .8 0 1 0 -2 0zM717.3 246.1a1.6 1 0 1 0 3.2 0a1.6 1 0 1 0 -3.2 0zM665.7 259.9a3.2 3.1 64 1 0 2.9 5.8a3.2 3.1 64 1 0 -2.9 -5.8zM607.8 447.9a1.1 1 0 1 0 2.2 0a1.1 1 0 1 0 -2.2 0zM610.7 257.9a1.4 .9 0 1 0 2.7 0a1.4 .9 0 1 0 -2.7 0zM701.5 318.8a2.4 1.4 98 1 0 -.7 4.7a2.4 1.4 98 1 0 .7 -4.7zM606.6 270.9a1.1 .8 0 1 0 2.1 0a1.1 .8 0 1 0 -2.1 0zM676.9 282.3a2.9 2.3 90 1 0 0 5.8a2.9 2.3 90 1 0 -0 -5.8zM650.5 284.2a3.1 2.8 95 1 0 -.5 6.1a3.1 2.8 95 1 0 .5 -6.1zM625.5 255.3a1 .6 0 1 0 2 0a1 .6 0 1 0 -2 0zM661.7 297.9a1 .6 0 1 0 2 0a1 .6 0 1 0 -2 0zM672.2 428.1a1.5 1.4 0 1 0 3 0a1.5 1.4 0 1 0 -3 0zM643.1 306.5a1.1 .8 0 1 0 2.2 0a1.1 .8 0 1 0 -2.2 0zM667.1 457.6a1 .6 0 1 0 2 0a1 .6 0 1 0 -2 0zM649.6 375.3a4.4 3 2 1 0 8.8 .3a4.4 3 2 1 0 -8.8 -.3zM603.8 268.3a3.2 2.1 66 1 0 2.6 5.8a3.2 2.1 66 1 0 -2.6 -5.8zM706.5 384.9a3.1 2.7 117 1 0 -2.8 5.5a3.1 2.7 117 1 0 2.8 -5.5zM650.3 449.9a1 .6 0 1 0 2.1 0a1 .6 0 1 0 -2.1 0zM681.3 312.3a3.2 2.4 143 1 0 -5 3.8a3.2 2.4 143 1 0 5 -3.8zM744.3 239.9a3 2.1 167 1 0 -5.8 1.3a3 2.1 167 1 0 5.8 -1.3zM652.9 448.1a2.7 1.8 145 1 0 -4.5 3.2a2.7 1.8 145 1 0 4.5 -3.2zM700.8 422.6a1 .7 0 1 0 2 0a1 .7 0 1 0 -2 0zM677.4 319.1a2.4 1.8 138 1 0 -3.7 3.2a2.4 1.8 138 1 0 3.7 -3.2zM637.2 323.9a2.8 2 75 1 0 1.4 5.4a2.8 2 75 1 0 -1.4 -5.4zM682.3 335.4a3.6 2.2 48 1 0 4.8 5.3a3.6 2.2 48 1 0 -4.8 -5.3zM670.7 420.8a1.1 .7 0 1 0 2.2 0a1.1 .7 0 1 0 -2.2 0zM649.7 377.3a1.1 .8 0 1 0 2.1 0a1.1 .8 0 1 0 -2.1 0zM666.4 419.8a3.3 2.9 25 1 0 5.9 2.8a3.3 2.9 25 1 0 -5.9 -2.8zM651.6 329a3.4 2.2 159 1 0 -6.4 2.5a3.4 2.2 159 1 0 6.4 -2.5zM727.9 244.3a1.1 .6 0 1 0 2.1 0a1.1 .6 0 1 0 -2.1 0zM673.9 291.5a1 .9 0 1 0 2 0a1 .9 0 1 0 -2 0zM737.2 239.2a2.3 1.7 144 1 0 -3.7 2.7a2.3 1.7 144 1 0 3.7 -2.7zM599.6 353a1 .6 0 1 0 2 0a1 .6 0 1 0 -2 0zM667.2 374.9a1.5 1 0 1 0 3.1 0a1.5 1 0 1 0 -3.1 0zM684 330.6a1.9 1.7 0 1 0 3.7 0a1.9 1.7 0 1 0 -3.7 0zM650.2 402.7a1 .9 0 1 0 2 0a1 .9 0 1 0 -2 0zM642.9 326.4a2.7 2.7 170 1 0 -5.3 .9a2.7 2.7 170 1 0 5.3 -.9zM649.5 356.9a3.9 3.1 90 1 0 -0 7.8a3.9 3.1 90 1 0 0 -7.8zM736.5 273.4a2.3 1.8 45 1 0 3.3 3.3a2.3 1.8 45 1 0 -3.3 -3.3zM610.4 358.5a1.7 1.5 0 1 0 3.4 0a1.7 1.5 0 1 0 -3.4 0zM600.3 260.3a1.3 1.2 0 1 0 2.7 0a1.3 1.2 0 1 0 -2.7 0zM671 243.7a1.5 1.5 0 1 0 3 0a1.5 1.5 0 1 0 -3 0zM651.9 368.6a1.2 .8 0 1 0 2.3 0a1.2 .8 0 1 0 -2.3 0zM712.3 438.7a4 2.8 175 1 0 -8 .7a4 2.8 175 1 0 8 -.7zM597.3 337.9a2.1 1.2 58 1 0 2.2 3.5a2.1 1.2 58 1 0 -2.2 -3.5zM721 371.4a1.6 1.3 0 1 0 3.2 0a1.6 1.3 0 1 0 -3.2 0zM668.6 423a3.6 2.2 35 1 0 6 4.2a3.6 2.2 35 1 0 -6 -4.2zM739 298.1a3 2 56 1 0 3.4 5.1a3 2 56 1 0 -3.4 -5.1zM723.3 426.3a1.2 .7 0 1 0 2.5 0a1.2 .7 0 1 0 -2.5 0zM738 385.8a4.4 3.7 101 1 0 -1.7 8.6a4.4 3.7 101 1 0 1.7 -8.6zM620.9 435.7a2.1 1.8 5 1 0 4.2 .4a2.1 1.8 5 1 0 -4.2 -.4zM611.2 405.7a3.9 2.7 6 1 0 7.8 .8a3.9 2.7 6 1 0 -7.8 -.8zM672.2 358.8a1.6 1.6 0 1 0 3.3 0a1.6 1.6 0 1 0 -3.3 0zM724.6 437.5a1.5 1 0 1 0 2.9 0a1.5 1 0 1 0 -2.9 0zM748.4 259a3.3 2.3 139 1 0 -5 4.4a3.3 2.3 139 1 0 5 -4.4zM745.1 421.4a3 2.9 160 1 0 -5.6 2.1a3 2.9 160 1 0 5.6 -2.1zM739.6 321.3a2.7 2.4 30 1 0 4.6 2.7a2.7 2.4 30 1 0 -4.6 -2.7zM620.6 348.2a1 .6 0 1 0 2 0a1 .6 0 1 0 -2 0zM745.9 311.5a1.8 1.5 0 1 0 3.6 0a1.8 1.5 0 1 0 -3.6 0zM660.7 379.9a2.8 1.9 169 1 0 -5.5 1.1a2.8 1.9 169 1 0 5.5 -1.1zM718 381.2a1.1 1 0 1 0 2.2 0a1.1 1 0 1 0 -2.2 0zM671.1 298.7a1 .9 0 1 0 2 0a1 .9 0 1 0 -2 0zM633.3 327.4a1.9 1.8 0 1 0 3.8 0a1.9 1.8 0 1 0 -3.8 0zM702.2 308.2a2.9 2.7 79 1 0 1.1 5.8a2.9 2.7 79 1 0 -1.1 -5.8zM608.9 315.3a2.6 2.2 17 1 0 5 1.6a2.6 2.2 17 1 0 -5 -1.6zM681.2 436.5a1.9 1.3 0 1 0 3.9 0a1.9 1.3 0 1 0 -3.9 0zM655.9 352.9a1.7 1.7 0 1 0 3.4 0a1.7 1.7 0 1 0 -3.4 0zM678 376a2.2 1.9 152 1 0 -4 2.1a2.2 1.9 152 1 0 4 -2.1zM701.7 254.9a2.1 1.4 70 1 0 1.4 3.9a2.1 1.4 70 1 0 -1.4 -3.9zM741.1 269.2a2.6 1.5 44 1 0 3.7 3.5a2.6 1.5 44 1 0 -3.7 -3.5zM611.7 248.6a1.9 1.8 0 1 0 3.7 0a1.9 1.8 0 1 0 -3.7 0zM744.8 273.3a2.6 2.4 109 1 0 -1.7 5a2.6 2.4 109 1 0 1.7 -5zM730.5 249.3a1.7 1.6 0 1 0 3.3 0a1.7 1.6 0 1 0 -3.3 0zM642.7 393.7a4.1 3.7 88 1 0 .3 8.2a4.1 3.7 88 1 0 -.3 -8.2zM620.7 310.6a2 1.2 180 1 0 -4.1 0a2 1.2 180 1 0 4.1 -0zM646.5 450.4a1 .7 0 1 0 2 0a1 .7 0 1 0 -2 0zM686.7 287.1a1 .7 0 1 0 2 0a1 .7 0 1 0 -2 0zM698.1 285.9a2.8 1.6 76 1 0 1.3 5.4a2.8 1.6 76 1 0 -1.3 -5.4zM672.4 327.9a1.3 1.2 0 1 0 2.6 0a1.3 1.2 0 1 0 -2.6 0zM743.8 433.7a1 .8 0 1 0 2.1 0a1 .8 0 1 0 -2.1 0zM649.6 327.8a3.4 3.4 26 1 0 6.1 3a3.4 3.4 26 1 0 -6.1 -3zM669.9 354.1a2.1 1.4 126 1 0 -2.5 3.5a2.1 1.4 126 1 0 2.5 -3.5zM682.7 362.9a1.5 1.3 0 1 0 3.1 0a1.5 1.3 0 1 0 -3.1 0zM686.1 414a1 .6 0 1 0 2 0a1 .6 0 1 0 -2 0zM741.1 413.2a1.1 .8 0 1 0 2.1 0a1.1 .8 0 1 0 -2.1 0zM738.8 291.7a1 .9 0 1 0 2.1 0a1 .9 0 1 0 -2.1 0zM707.5 440.8a2.5 1.7 78 1 0 1 4.9a2.5 1.7 78 1 0 -1 -4.9zM669.2 321.4a2.1 1.7 167 1 0 -4.1 1a2.1 1.7 167 1 0 4.1 -1zM618.3 324.2a3 2.5 37 1 0 4.8 3.7a3 2.5 37 1 0 -4.8 -3.7zM698.2 355.2a1.1 .7 0 1 0 2.2 0a1.1 .7 0 1 0 -2.2 0zM617.2 373.3a1.5 1.4 0 1 0 3 0a1.5 1.4 0 1 0 -3 0zM599 392.6a1 .6 0 1 0 2 0a1 .6 0 1 0 -2 0zM675.1 419.8a1 .9 0 1 0 2.1 0a1 .9 0 1 0 -2.1 0zM614 322.6a1.3 .9 0 1 0 2.7 0a1.3 .9 0 1 0 -2.7 0zM712 409.2a1.7 1.1 0 1 0 3.5 0a1.7 1.1 0 1 0 -3.5 0zM635.3 288.3a1.8 1.2 0 1 0 3.6 0a1.8 1.2 0 1 0 -3.6 0zM613.3 250.6a1.9 1.2 0 1 0 3.7 0a1.9 1.2 0 1 0 -3.7 0zM736.6 381a4 2.7 129 1 0 -5 6.2a4 2.7 129 1 0 5 -6.2zM736.7 248.6a1.7 1.7 0 1 0 3.5 0a1.7 1.7 0 1 0 -3.5 0zM616.8 292.4a1.9 1.1 0 1 0 3.8 0a1.9 1.1 0 1 0 -3.8 0zM674.2 456.4a1 .7 0 1 0 2 0a1 .7 0 1 0 -2 0zM739.1 403.6a3.2 2.5 143 1 0 -5.1 3.9a3.2 2.5 143 1 0 5.1 -3.9zM661.9 351.3a1.7 1.5 0 1 0 3.3 0a1.7 1.5 0 1 0 -3.3 0zM728.5 347a4.3 2.7 48 1 0 5.8 6.4a4.3 2.7 48 1 0 -5.8 -6.4zM663.9 295.2a1.2 .6 0 1 0 2.3 0a1.2 .6 0 1 0 -2.3 0zM728.1 276.7a1 1 0 1 0 2 0a1 1 0 1 0 -2 0zM678.2 423.1a2.4 2.1 104 1 0 -1.2 4.7a2.4 2.1 104 1 0 1.2 -4.7zM611.9 368a1.3 .9 0 1 0 2.7 0a1.3 .9 0 1 0 -2.7 0zM743.3 252a1.1 .9 0 1 0 2.1 0a1.1 .9 0 1 0 -2.1 0zM666.8 367.3a1.7 1 0 1 0 3.4 0a1.7 1 0 1 0 -3.4 0zM634.8 348.8a2.9 1.8 121 1 0 -3 5a2.9 1.8 121 1 0 3 -5zM621.5 246.5a1.1 .7 0 1 0 2.2 0a1.1 .7 0 1 0 -2.2 0zM634.6 254.6a2.9 1.8 147 1 0 -4.8 3.1a2.9 1.8 147 1 0 4.8 -3.1zM655.3 278.7a1.7 1.4 0 1 0 3.3 0a1.7 1.4 0 1 0 -3.3 0zM666.1 296.1a1.9 1.2 0 1 0 3.9 0a1.9 1.2 0 1 0 -3.9 0zM734.9 397.1a1.9 1.6 0 1 0 3.8 0a1.9 1.6 0 1 0 -3.8 0zM664.7 389.6a1 .8 0 1 0 2 0a1 .8 0 1 0 -2 0zM668.4 358.9a1.8 1.4 0 1 0 3.6 0a1.8 1.4 0 1 0 -3.6 0zM683.7 415.2a1.1 .7 0 1 0 2.2 0a1.1 .7 0 1 0 -2.2 0zM641.8 436.5a1.7 1.3 0 1 0 3.4 0a1.7 1.3 0 1 0 -3.4 0zM685.7 338.1a4.2 4.1 77 1 0 1.9 8.1a4.2 4.1 77 1 0 -1.9 -8.1zM635.8 309.7a1.9 1.3 0 1 0 3.9 0a1.9 1.3 0 1 0 -3.9 0zM737.7 356a2.1 2 158 1 0 -3.9 1.5a2.1 2 158 1 0 3.9 -1.5zM716.4 245.3a2.2 1.8 157 1 0 -4 1.7a2.2 1.8 157 1 0 4 -1.7zM687.7 348.9a1.8 1.7 0 1 0 3.6 0a1.8 1.7 0 1 0 -3.6 0zM638.1 346.2a1.2 .6 0 1 0 2.3 0a1.2 .6 0 1 0 -2.3 0zM724.6 433.5a4.7 3.9 147 1 0 -7.9 5.2a4.7 3.9 147 1 0 7.9 -5.2zM632.3 286.1a1.9 1.9 0 1 0 3.8 0a1.9 1.9 0 1 0 -3.8 0zM708.8 301.4a1.3 1.1 0 1 0 2.5 0a1.3 1.1 0 1 0 -2.5 0zM642.3 309.2a1.4 .9 0 1 0 2.9 0a1.4 .9 0 1 0 -2.9 0zM656.5 422.2a4.7 2.8 60 1 0 4.8 8.1a4.7 2.8 60 1 0 -4.8 -8.1zM630.3 427.4a1.1 1 0 1 0 2.1 0a1.1 1 0 1 0 -2.1 0zM689.4 327.3a1.3 .8 0 1 0 2.6 0a1.3 .8 0 1 0 -2.6 0zM689.4 454.8a1.4 1.2 0 1 0 2.8 0a1.4 1.2 0 1 0 -2.8 0zM681.3 268.9a1.2 1.1 0 1 0 2.3 0a1.2 1.1 0 1 0 -2.3 0zM616.3 382.3a1.5 .9 0 1 0 3 0a1.5 .9 0 1 0 -3 0zM700.6 453.9a1.2 .9 0 1 0 2.4 0a1.2 .9 0 1 0 -2.4 0zM645.5 450.9a4.6 4.5 80 1 0 1.5 9.1a4.6 4.5 80 1 0 -1.5 -9.1zM652.3 429.4a1 .9 0 1 0 2 0a1 .9 0 1 0 -2 0zM606.7 337a3.4 2.6 76 1 0 1.7 6.5a3.4 2.6 76 1 0 -1.7 -6.5zM656.9 442a2.4 1.5 147 1 0 -4 2.6a2.4 1.5 147 1 0 4 -2.6zM613.7 361.9a1.8 1.6 0 1 0 3.6 0a1.8 1.6 0 1 0 -3.6 0zM689.7 440.8a1.1 .7 0 1 0 2.3 0a1.1 .7 0 1 0 -2.3 0zM675.5 282.6a1.7 1.1 0 1 0 3.4 0a1.7 1.1 0 1 0 -3.4 0zM676.5 276.1a1.5 1.2 0 1 0 2.9 0a1.5 1.2 0 1 0 -2.9 0zM734.3 346a1 .6 0 1 0 2 0a1 .6 0 1 0 -2 0zM676.5 282.1a3.1 2.5 141 1 0 -4.8 3.9a3.1 2.5 141 1 0 4.8 -3.9zM677.8 343.9a2 1.5 157 1 0 -3.7 1.6a2 1.5 157 1 0 3.7 -1.6zM658 303.6a1.5 1.1 0 1 0 3.1 0a1.5 1.1 0 1 0 -3.1 0zM732.6 369.8a4.3 2.4 135 1 0 -6.1 6.2a4.3 2.4 135 1 0 6.1 -6.2zM648.3 409.8a1 .7 0 1 0 2 0a1 .7 0 1 0 -2 0zM627.5 445.8a4.5 3.4 163 1 0 -8.6 2.6a4.5 3.4 163 1 0 8.6 -2.6zM615.7 255.8a2 1.1 0 1 0 4 0a2 1.1 0 1 0 -4 0zM637.3 290.6a1 .6 0 1 0 2 0a1 .6 0 1 0 -2 0zM724.4 314.8a1.1 .7 0 1 0 2.3 0a1.1 .7 0 1 0 -2.3 0zM689.9 288.1a1.9 1.7 0 1 0 3.8 0a1.9 1.7 0 1 0 -3.8 0zM665.1 384.2a1.1 .8 0 1 0 2.2 0a1.1 .8 0 1 0 -2.2 0zM603.8 310.3a4 2.9 100 1 0 -1.3 7.8a4 2.9 100 1 0 1.3 -7.8zM628.8 398.7a3.5 3.4 177 1 0 -6.9 .4a3.5 3.4 177 1 0 6.9 -.4zM604.8 354.4a2.6 2 114 1 0 -2.1 4.7a2.6 2 114 1 0 2.1 -4.7zM681.7 267.5a3.4 2 152 1 0 -6.1 3.2a3.4 2 152 1 0 6.1 -3.2zM654.1 298.4a2 1.7 0 1 0 4 0a2 1.7 0 1 0 -4 0zM611.8 359.4a2.1 2 57 1 0 2.3 3.6a2.1 2 57 1 0 -2.3 -3.6zM645 417.3a3.2 1.8 65 1 0 2.8 5.8a3.2 1.8 65 1 0 -2.8 -5.8zM689.1 242.9a1.5 1.4 0 1 0 3 0a1.5 1.4 0 1 0 -3 0zM619.1 380.8a1.6 1.4 0 1 0 3.2 0a1.6 1.4 0 1 0 -3.2 0zM704.9 422.1a2 1.2 148 1 0 -3.4 2.2a2 1.2 148 1 0 3.4 -2.2zM689.3 406.8a4 3.8 7 1 0 8 .9a4 3.8 7 1 0 -8 -.9zM743.1 288.8a1.8 1.6 0 1 0 3.6 0a1.8 1.6 0 1 0 -3.6 0zM635 311.9a3.6 3.2 153 1 0 -6.4 3.2a3.6 3.2 153 1 0 6.4 -3.2zM669 340a1.6 1.6 0 1 0 3.3 0a1.6 1.6 0 1 0 -3.3 0zM676.7 432.4a2.6 2.5 36 1 0 4.1 3a2.6 2.5 36 1 0 -4.1 -3zM607.1 419.4a1 .7 0 1 0 2 0a1 .7 0 1 0 -2 0zM692.1 284.1a1 .8 0 1 0 2 0a1 .8 0 1 0 -2 0zM716.8 362.6a1 .7 0 1 0 2 0a1 .7 0 1 0 -2 0zM602.8 331.3a4 3 119 1 0 -3.9 7a4 3 119 1 0 3.9 -7zM641.7 241.3a1 .8 0 1 0 2 0a1 .8 0 1 0 -2 0zM645 381.9a1 .8 0 1 0 2 0a1 .8 0 1 0 -2 0zM722.5 300.9a3.9 3.5 86 1 0 .5 7.7a3.9 3.5 86 1 0 -.5 -7.7zM740.1 308.7a1.5 1.1 0 1 0 3 0a1.5 1.1 0 1 0 -3 0zM718.3 367.4a1.5 1.3 0 1 0 3.1 0a1.5 1.3 0 1 0 -3.1 0zM603.8 358.3a4.6 3.7 148 1 0 -7.8 4.9a4.6 3.7 148 1 0 7.8 -4.9zM607 354.3a1 .7 0 1 0 2 0a1 .7 0 1 0 -2 0zM608.7 276.2a1.7 1 0 1 0 3.4 0a1.7 1 0 1 0 -3.4 0zM618.1 270.4a1.7 1 0 1 0 3.5 0a1.7 1 0 1 0 -3.5 0zM698.8 381.9a1.9 1.2 0 1 0 3.9 0a1.9 1.2 0 1 0 -3.9 0zM745 327.7a1.2 .9 0 1 0 2.5 0a1.2 .9 0 1 0 -2.5 0zM662 450.6a4.2 3.8 56 1 0 4.7 7a4.2 3.8 56 1 0 -4.7 -7zM657.1 271.3a2.2 2.2 69 1 0 1.6 4.2a2.2 2.2 69 1 0 -1.6 -4.2zM702.3 413.6a1 .8 0 1 0 2 0a1 .8 0 1 0 -2 0zM605.4 412.7a1.1 .8 0 1 0 2.3 0a1.1 .8 0 1 0 -2.3 0zM635.3 243.6a2.7 2 4 1 0 5.5 .4a2.7 2 4 1 0 -5.5 -.4zM682.1 319.1a2.1 1.6 3 1 0 4.2 .2a2.1 1.6 3 1 0 -4.2 -.2zM738.1 304.7a1 .8 0 1 0 2.1 0a1 .8 0 1 0 -2.1 0zM631.5 324.3a3.5 3.2 25 1 0 6.3 2.9a3.5 3.2 25 1 0 -6.3 -2.9zM622 418.7a1.9 1 0 1 0 3.7 0a1.9 1 0 1 0 -3.7 0zM718.7 273.2a3.1 3 133 1 0 -4.3 4.6a3.1 3 133 1 0 4.3 -4.6zM629.2 393.1a1.1 1 0 1 0 2.2 0a1.1 1 0 1 0 -2.2 0zM638 455.9a1 1 0 1 0 2.1 0a1 1 0 1 0 -2.1 0zM670.7 429.4a2.7 2.2 71 1 0 1.8 5.1a2.7 2.2 71 1 0 -1.8 -5.1zM631.1 338.2a2.1 1.2 171 1 0 -4.2 .7a2.1 1.2 171 1 0 4.2 -.7zM664.1 335.2a3.6 2.7 161 1 0 -6.9 2.3a3.6 2.7 161 1 0 6.9 -2.3zM727.6 262a1.8 1.6 0 1 0 3.7 0a1.8 1.6 0 1 0 -3.7 0zM607.5 378.9a1 .9 0 1 0 2 0a1 .9 0 1 0 -2 0zM724.8 347.2a4.2 3 104 1 0 -2.1 8.2a4.2 3 104 1 0 2.1 -8.2zM658.4 416.4a3.6 2.6 141 1 0 -5.5 4.5a3.6 2.6 141 1 0 5.5 -4.5zM606.1 455.7a3.1 2 25 1 0 5.6 2.6a3.1 2 25 1 0 -5.6 -2.6zM726 301.2a1.9 1.7 0 1 0 3.8 0a1.9 1.7 0 1 0 -3.8 0zM643.5 299.8a1.4 1.3 0 1 0 2.8 0a1.4 1.3 0 1 0 -2.8 0zM721.4 274.1a1.6 1.1 0 1 0 3.3 0a1.6 1.1 0 1 0 -3.3 0zM624.9 394.8a4.4 2.8 96 1 0 -.9 8.8a4.4 2.8 96 1 0 .9 -8.8zM623.7 361.8a1.4 .9 0 1 0 2.8 0a1.4 .9 0 1 0 -2.8 0zM749.5 288.2a2.8 1.6 166 1 0 -5.4 1.3a2.8 1.6 166 1 0 5.4 -1.3zM614.9 371.3a1.6 1.3 0 1 0 3.2 0a1.6 1.3 0 1 0 -3.2 0zM663.5 335.3a1.1 1 0 1 0 2.2 0a1.1 1 0 1 0 -2.2 0zM678.9 310.6a1.2 1.2 0 1 0 2.5 0a1.2 1.2 0 1 0 -2.5 0zM631.1 322.7a2.8 2.5 55 1 0 3.2 4.6a2.8 2.5 55 1 0 -3.2 -4.6zM728.2 331.8a4.2 2.5 175 1 0 -8.5 .7a4.2 2.5 175 1 0 8.5 -.7zM637.3 365.7a1.1 1.1 0 1 0 2.2 0a1.1 1.1 0 1 0 -2.2 0zM715 319.9a1.1 .9 0 1 0 2.2 0a1.1 .9 0 1 0 -2.2 0zM648.3 449.9a3.7 3.5 58 1 0 3.9 6.3a3.7 3.5 58 1 0 -3.9 -6.3zM698.7 276a1.1 1 0 1 0 2.2 0a1.1 1 0 1 0 -2.2 0zM683.5 337.7a1 .6 0 1 0 2 0a1 .6 0 1 0 -2 0zM684.5 260.6a1 .8 0 1 0 2.1 0a1 .8 0 1 0 -2.1 0z" fill="#c6c2b9"/>
<path d="M722.4 394.3a1.3 .8 0 1 0 2.5 0a1.3 .8 0 1 0 -2.5 0zM605.2 407.1a1.5 1.4 0 1 0 2.9 0a1.5 1.4 0 1 0 -2.9 0zM705.4 268.6a1.9 1.1 0 1 0 3.8 0a1.9 1.1 0 1 0 -3.8 0zM631.8 297.5a3.6 3.3 159 1 0 -6.8 2.6a3.6 3.3 159 1 0 6.8 -2.6zM625.9 295.7a2.5 1.8 13 1 0 5 1.2a2.5 1.8 13 1 0 -5 -1.2zM608.6 367a1.1 .9 0 1 0 2.3 0a1.1 .9 0 1 0 -2.3 0zM716.7 426.3a2.1 1.7 105 1 0 -1.1 4a2.1 1.7 105 1 0 1.1 -4zM708.9 323.4a2.6 2.1 151 1 0 -4.5 2.5a2.6 2.1 151 1 0 4.5 -2.5zM620.5 338.2a1.2 .8 0 1 0 2.3 0a1.2 .8 0 1 0 -2.3 0zM616.2 336.8a2.1 2 102 1 0 -.9 4.2a2.1 2 102 1 0 .9 -4.2zM743.1 453.1a1.9 1.7 0 1 0 3.8 0a1.9 1.7 0 1 0 -3.8 0zM733 426.6a1.3 .8 0 1 0 2.7 0a1.3 .8 0 1 0 -2.7 0zM677.2 423a2 1.4 152 1 0 -3.5 1.9a2 1.4 152 1 0 3.5 -1.9zM669.6 390.6a1 .8 0 1 0 2 0a1 .8 0 1 0 -2 0zM658.6 415.6a4 3 34 1 0 6.6 4.5a4 3 34 1 0 -6.6 -4.5zM626.3 287.5a2.1 1.5 112 1 0 -1.6 4a2.1 1.5 112 1 0 1.6 -4zM624.5 355.6a1.5 1.1 0 1 0 3.1 0a1.5 1.1 0 1 0 -3.1 0zM603.8 447.4a1.6 1.5 0 1 0 3.3 0a1.6 1.5 0 1 0 -3.3 0zM692.5 287.6a3.4 2.9 119 1 0 -3.3 5.9a3.4 2.9 119 1 0 3.3 -5.9zM634 327.5a1 .6 0 1 0 2 0a1 .6 0 1 0 -2 0zM670.3 373.2a1 1 0 1 0 2 0a1 1 0 1 0 -2 0zM607.2 387.4a2 1.6 0 1 0 3.9 0a2 1.6 0 1 0 -3.9 0zM644.3 357a2.8 2.7 66 1 0 2.3 5.2a2.8 2.7 66 1 0 -2.3 -5.2zM733.9 332.6a3 2.1 72 1 0 1.9 5.7a3 2.1 72 1 0 -1.9 -5.7zM736.9 435.1a1.2 .8 0 1 0 2.3 0a1.2 .8 0 1 0 -2.3 0zM672.7 393.3a3.3 2.4 26 1 0 5.9 2.9a3.3 2.4 26 1 0 -5.9 -2.9zM657.1 302.4a3.7 2.1 21 1 0 6.9 2.6a3.7 2.1 21 1 0 -6.9 -2.6zM669.3 293.7a3.1 3 99 1 0 -.9 6.2a3.1 3 99 1 0 .9 -6.2zM721.3 307.9a1.2 .7 0 1 0 2.4 0a1.2 .7 0 1 0 -2.4 0zM651.9 357.7a1.2 .9 0 1 0 2.4 0a1.2 .9 0 1 0 -2.4 0zM696.3 295.9a1.1 .9 0 1 0 2.1 0a1.1 .9 0 1 0 -2.1 0zM613.9 328.7a1 1 0 1 0 2 0a1 1 0 1 0 -2 0zM672.2 378.5a3.1 2.8 60 1 0 3.1 5.3a3.1 2.8 60 1 0 -3.1 -5.3zM715 382a2.2 1.2 62 1 0 2.1 3.9a2.2 1.2 62 1 0 -2.1 -3.9zM728.8 250.9a1 .9 0 1 0 2 0a1 .9 0 1 0 -2 0zM712.7 276a1.8 1.2 0 1 0 3.6 0a1.8 1.2 0 1 0 -3.6 0zM678.4 292.7a1.5 1.4 0 1 0 2.9 0a1.5 1.4 0 1 0 -2.9 0zM648.2 451.9a2.2 1.3 117 1 0 -2 4a2.2 1.3 117 1 0 2 -4zM693.5 360.6a3.2 3.2 121 1 0 -3.3 5.6a3.2 3.2 121 1 0 3.3 -5.6zM630.6 377.9a1 .8 0 1 0 2 0a1 .8 0 1 0 -2 0zM603.9 323.6a1.2 1 0 1 0 2.5 0a1.2 1 0 1 0 -2.5 0zM624.8 340.3a2.1 2.1 104 1 0 -1 4.1a2.1 2.1 104 1 0 1 -4.1zM738.6 406a2.3 1.9 75 1 0 1.2 4.4a2.3 1.9 75 1 0 -1.2 -4.4zM654.5 396.1a1.2 1 0 1 0 2.3 0a1.2 1 0 1 0 -2.3 0zM738 451.6a1 .9 0 1 0 2.1 0a1 .9 0 1 0 -2.1 0zM651.8 304.8a2.8 2.6 71 1 0 1.8 5.2a2.8 2.6 71 1 0 -1.8 -5.2zM750 282.4a2.9 2.2 145 1 0 -4.8 3.3a2.9 2.2 145 1 0 4.8 -3.3zM641.3 442.8a3.7 3.7 150 1 0 -6.4 3.7a3.7 3.7 150 1 0 6.4 -3.7zM711.7 454.9a1 1 0 1 0 2 0a1 1 0 1 0 -2 0zM656 318.5a2.2 2 115 1 0 -1.8 4a2.2 2 115 1 0 1.8 -4zM748.5 330.6a4 2.6 127 1 0 -4.8 6.4a4 2.6 127 1 0 4.8 -6.4zM621.2 298.4a2.2 2.1 33 1 0 3.6 2.4a2.2 2.1 33 1 0 -3.6 -2.4zM649.2 455.7a1 .9 0 1 0 2.1 0a1 .9 0 1 0 -2.1 0zM699.1 337.3a2.3 1.7 41 1 0 3.5 3a2.3 1.7 41 1 0 -3.5 -3zM642.1 329a1 .9 0 1 0 2.1 0a1 .9 0 1 0 -2.1 0zM647.5 393.4a1.1 .9 0 1 0 2.3 0a1.1 .9 0 1 0 -2.3 0zM610.1 435.4a1 .7 0 1 0 2 0a1 .7 0 1 0 -2 0zM727.1 442a4 2.2 96 1 0 -.9 7.9a4 2.2 96 1 0 .9 -7.9zM681.3 268.3a1 .8 0 1 0 2 0a1 .8 0 1 0 -2 0zM726.4 270.6a3.3 2.6 110 1 0 -2.3 6.3a3.3 2.6 110 1 0 2.3 -6.3zM633.8 320.2a1.4 1.1 0 1 0 2.9 0a1.4 1.1 0 1 0 -2.9 0zM684.8 449.5a1.4 1.1 0 1 0 2.8 0a1.4 1.1 0 1 0 -2.8 0zM718.7 330a3.3 2.4 122 1 0 -3.5 5.6a3.3 2.4 122 1 0 3.5 -5.6zM611.9 452.7a3.5 2.4 147 1 0 -5.9 3.7a3.5 2.4 147 1 0 5.9 -3.7zM709.4 366.4a1 .9 0 1 0 2 0a1 .9 0 1 0 -2 0zM696.2 359.5a1 .6 0 1 0 2 0a1 .6 0 1 0 -2 0zM741.4 358.1a4 2.6 97 1 0 -.9 8a4 2.6 97 1 0 .9 -8zM682.4 296a1 .9 0 1 0 2 0a1 .9 0 1 0 -2 0zM704.2 317.7a3.7 3.3 154 1 0 -6.8 3.2a3.7 3.3 154 1 0 6.8 -3.2zM705.1 445.7a1.8 1.4 0 1 0 3.6 0a1.8 1.4 0 1 0 -3.6 0zM648.8 348.8a1.1 .9 0 1 0 2.2 0a1.1 .9 0 1 0 -2.2 0zM604.1 409.1a4.6 4.2 60 1 0 4.5 8a4.6 4.2 60 1 0 -4.5 -8zM728.2 280.2a1.1 .7 0 1 0 2.2 0a1.1 .7 0 1 0 -2.2 0zM631.8 287.5a1.4 1.3 0 1 0 2.7 0a1.4 1.3 0 1 0 -2.7 0zM715.7 311.1a2.8 2 107 1 0 -1.6 5.3a2.8 2 107 1 0 1.6 -5.3zM726.1 396.8a4.4 3.3 22 1 0 8.1 3.2a4.4 3.3 22 1 0 -8.1 -3.2zM636.5 444.7a1 .6 0 1 0 2 0a1 .6 0 1 0 -2 0zM671.4 275a1.2 1 0 1 0 2.4 0a1.2 1 0 1 0 -2.4 0zM694.2 341.4a1.1 .6 0 1 0 2.1 0a1.1 .6 0 1 0 -2.1 0zM666.9 301.7a2.9 2.3 35 1 0 4.8 3.4a2.9 2.3 35 1 0 -4.8 -3.4zM694.7 262a3.3 3.1 33 1 0 5.5 3.6a3.3 3.1 33 1 0 -5.5 -3.6zM737.7 379.3a1.7 1.3 0 1 0 3.5 0a1.7 1.3 0 1 0 -3.5 0zM631.7 311.4a1 .6 0 1 0 2 0a1 .6 0 1 0 -2 0zM674.3 445.3a2.4 1.7 42 1 0 3.5 3.2a2.4 1.7 42 1 0 -3.5 -3.2zM603.4 255.5a1.1 1 0 1 0 2.2 0a1.1 1 0 1 0 -2.2 0zM613.5 332.8a1.9 1.7 0 1 0 3.8 0a1.9 1.7 0 1 0 -3.8 0zM603.3 343.3a1 .6 0 1 0 2 0a1 .6 0 1 0 -2 0zM634.6 409.8a2.7 2 79 1 0 1.1 5.3a2.7 2 79 1 0 -1.1 -5.3zM662.9 308.8a2 1.5 0 1 0 4 0a2 1.5 0 1 0 -4 0zM655.5 431.8a4.6 4.2 121 1 0 -4.7 7.9a4.6 4.2 121 1 0 4.7 -7.9zM746.7 312.9a2.4 1.3 138 1 0 -3.5 3.2a2.4 1.3 138 1 0 3.5 -3.2zM677.7 455.2a1 .9 0 1 0 2.1 0a1 .9 0 1 0 -2.1 0zM601.7 320.8a2.2 1.3 157 1 0 -4 1.7a2.2 1.3 157 1 0 4 -1.7zM646.1 431.5a1.1 .9 0 1 0 2.2 0a1.1 .9 0 1 0 -2.2 0zM628.8 375.1a1 1 0 1 0 2.1 0a1 1 0 1 0 -2.1 0zM696.1 391.6a1.3 1 0 1 0 2.6 0a1.3 1 0 1 0 -2.6 0zM680 317.6a1.3 .9 0 1 0 2.6 0a1.3 .9 0 1 0 -2.6 0zM611.5 424.4a1.7 1.3 0 1 0 3.3 0a1.7 1.3 0 1 0 -3.3 0zM631.6 451.7a1.9 1.5 0 1 0 3.9 0a1.9 1.5 0 1 0 -3.9 0zM658.1 354.9a4.1 2.5 127 1 0 -5 6.5a4.1 2.5 127 1 0 5 -6.5zM650.1 390.9a4 2.3 53 1 0 4.9 6.4a4 2.3 53 1 0 -4.9 -6.4zM667.2 394.5a3.7 3.6 57 1 0 4 6.2a3.7 3.6 57 1 0 -4 -6.2zM659.1 368.5a3 2.3 66 1 0 2.4 5.5a3 2.3 66 1 0 -2.4 -5.5zM739.3 428.6a1.2 .9 0 1 0 2.3 0a1.2 .9 0 1 0 -2.3 0zM623.3 399.7a3 2.1 125 1 0 -3.5 4.9a3 2.1 125 1 0 3.5 -4.9zM719.7 347a2.3 1.6 32 1 0 3.8 2.4a2.3 1.6 32 1 0 -3.8 -2.4zM608.7 361.5a1 .6 0 1 0 2 0a1 .6 0 1 0 -2 0zM636.8 405.5a2.1 1.8 94 1 0 -.3 4.3a2.1 1.8 94 1 0 .3 -4.3zM652.8 336.9a2.4 2.1 102 1 0 -1 4.7a2.4 2.1 102 1 0 1 -4.7zM711.6 400.6a1.2 .9 0 1 0 2.5 0a1.2 .9 0 1 0 -2.5 0zM719.5 255.5a1.1 1 0 1 0 2.2 0a1.1 1 0 1 0 -2.2 0zM685.9 438a1 .8 0 1 0 2 0a1 .8 0 1 0 -2 0zM611.3 312.7a1.4 1.1 0 1 0 2.8 0a1.4 1.1 0 1 0 -2.8 0zM635.4 340.2a2.2 1.8 179 1 0 -4.4 .1a2.2 1.8 179 1 0 4.4 -.1zM664.8 435.6a1.5 .8 0 1 0 2.9 0a1.5 .8 0 1 0 -2.9 0zM634.3 287.6a1.2 1 0 1 0 2.3 0a1.2 1 0 1 0 -2.3 0zM601.8 372a2.3 2.2 42 1 0 3.4 3a2.3 2.2 42 1 0 -3.4 -3zM628.6 272.1a1 .8 0 1 0 2 0a1 .8 0 1 0 -2 0zM637.8 360.6a1 .9 0 1 0 2 0a1 .9 0 1 0 -2 0zM602.9 406.6a1.7 1.7 0 1 0 3.4 0a1.7 1.7 0 1 0 -3.4 0zM661 251a2.3 1.9 26 1 0 4.1 2a2.3 1.9 26 1 0 -4.1 -2zM664.7 253.7a1 .6 0 1 0 2 0a1 .6 0 1 0 -2 0zM733.4 402.9a1.2 1 0 1 0 2.4 0a1.2 1 0 1 0 -2.4 0zM739.9 366.9a1.2 1 0 1 0 2.3 0a1.2 1 0 1 0 -2.3 0zM716.3 270.5a2.3 1.5 168 1 0 -4.5 1a2.3 1.5 168 1 0 4.5 -1zM615.6 332.4a3.5 3.4 103 1 0 -1.6 6.8a3.5 3.4 103 1 0 1.6 -6.8zM677.9 313a1.1 1 0 1 0 2.3 0a1.1 1 0 1 0 -2.3 0zM622.9 362.4a1.2 1.2 0 1 0 2.4 0a1.2 1.2 0 1 0 -2.4 0zM633.4 327.9a1.1 .9 0 1 0 2.3 0a1.1 .9 0 1 0 -2.3 0zM631.8 373.5a1.9 1.6 0 1 0 3.9 0a1.9 1.6 0 1 0 -3.9 0zM631.1 304.3a2.3 2.2 56 1 0 2.5 3.8a2.3 2.2 56 1 0 -2.5 -3.8zM612.3 436.5a4.6 4.1 3 1 0 9.1 .6a4.6 4.1 3 1 0 -9.1 -.6zM657.8 369.3a1 .7 0 1 0 2 0a1 .7 0 1 0 -2 0zM690.5 239.5a2.1 1.2 87 1 0 .2 4.2a2.1 1.2 87 1 0 -.2 -4.2zM698.2 262.8a1.4 1.1 0 1 0 2.7 0a1.4 1.1 0 1 0 -2.7 0zM718.8 373.8a2.3 1.4 132 1 0 -3.1 3.5a2.3 1.4 132 1 0 3.1 -3.5zM666.9 381.1a1 1 0 1 0 2 0a1 1 0 1 0 -2 0zM602.4 423.4a1.6 1 0 1 0 3.2 0a1.6 1 0 1 0 -3.2 0zM688.6 260.1a2.9 1.9 13 1 0 5.7 1.3a2.9 1.9 13 1 0 -5.7 -1.3zM734.7 433.1a1.8 1.6 0 1 0 3.5 0a1.8 1.6 0 1 0 -3.5 0zM709.1 409.6a1.3 1.2 0 1 0 2.7 0a1.3 1.2 0 1 0 -2.7 0zM676.5 348a4.4 4.1 146 1 0 -7.3 4.9a4.4 4.1 146 1 0 7.3 -4.9zM643.1 373.1a3 2 163 1 0 -5.7 1.7a3 2 163 1 0 5.7 -1.7zM705.1 259.9a1 .7 0 1 0 2 0a1 .7 0 1 0 -2 0zM691.3 440.4a1 .9 0 1 0 2.1 0a1 .9 0 1 0 -2.1 0zM707 320.1a1.1 .7 0 1 0 2.2 0a1.1 .7 0 1 0 -2.2 0zM613.4 322.2a1.8 1.6 0 1 0 3.6 0a1.8 1.6 0 1 0 -3.6 0zM648.5 410a2.8 2.2 56 1 0 3.1 4.6a2.8 2.2 56 1 0 -3.1 -4.6zM744.2 397a2.9 1.7 88 1 0 .2 5.8a2.9 1.7 88 1 0 -.2 -5.8zM674.4 311.7a3.7 3.1 28 1 0 6.4 3.5a3.7 3.1 28 1 0 -6.4 -3.5zM732.7 252.1a1.1 1 0 1 0 2.2 0a1.1 1 0 1 0 -2.2 0zM679.1 395.7a1.3 1.2 0 1 0 2.7 0a1.3 1.2 0 1 0 -2.7 0zM694.4 246.3a1.2 1.2 0 1 0 2.4 0a1.2 1.2 0 1 0 -2.4 0zM674 247a1 .6 0 1 0 2 0a1 .6 0 1 0 -2 0zM693.7 438.4a1 .7 0 1 0 2.1 0a1 .7 0 1 0 -2.1 0zM704.7 447.1a1.3 1 0 1 0 2.6 0a1.3 1 0 1 0 -2.6 0zM711.5 383.8a1 .8 0 1 0 2 0a1 .8 0 1 0 -2 0zM658 428.5a4.5 3.9 134 1 0 -6.3 6.5a4.5 3.9 134 1 0 6.3 -6.5zM697.9 352.5a1.4 1.1 0 1 0 2.9 0a1.4 1.1 0 1 0 -2.9 0zM673.7 262.6a2.2 1.4 105 1 0 -1.1 4.2a2.2 1.4 105 1 0 1.1 -4.2zM693.3 276.4a1.2 .8 0 1 0 2.3 0a1.2 .8 0 1 0 -2.3 0zM742.5 273.5a1.1 .9 0 1 0 2.2 0a1.1 .9 0 1 0 -2.2 0zM738.2 265.7a1.2 .9 0 1 0 2.3 0a1.2 .9 0 1 0 -2.3 0zM685.5 432.1a2 1.5 0 1 0 3.9 0a2 1.5 0 1 0 -3.9 0zM710.8 451.1a3 1.8 166 1 0 -5.8 1.5a3 1.8 166 1 0 5.8 -1.5zM705.8 267a1.3 1.2 0 1 0 2.5 0a1.3 1.2 0 1 0 -2.5 0zM617.8 381.7a1.3 1.2 0 1 0 2.7 0a1.3 1.2 0 1 0 -2.7 0zM708.1 401.1a1.5 1.2 0 1 0 2.9 0a1.5 1.2 0 1 0 -2.9 0zM692.8 333.2a2.9 2 15 1 0 5.5 1.5a2.9 2 15 1 0 -5.5 -1.5zM600.9 286.8a1 .7 0 1 0 2 0a1 .7 0 1 0 -2 0zM665.8 447.3a1.6 1.6 0 1 0 3.2 0a1.6 1.6 0 1 0 -3.2 0zM644.8 258.9a1.2 .9 0 1 0 2.5 0a1.2 .9 0 1 0 -2.5 0zM621.7 304.6a1 1 0 1 0 2.1 0a1 1 0 1 0 -2.1 0zM623.6 420.2a1.2 1.1 0 1 0 2.4 0a1.2 1.1 0 1 0 -2.4 0zM737.4 396.7a1.8 1.1 0 1 0 3.6 0a1.8 1.1 0 1 0 -3.6 0zM745.4 240.6a2.2 1.3 87 1 0 .2 4.4a2.2 1.3 87 1 0 -.2 -4.4zM667.1 398.9a1.7 1.2 0 1 0 3.5 0a1.7 1.2 0 1 0 -3.5 0zM671.7 307.2a1.6 .9 0 1 0 3.3 0a1.6 .9 0 1 0 -3.3 0zM731.5 426.2a1.5 1 0 1 0 2.9 0a1.5 1 0 1 0 -2.9 0zM643.4 241.1a2.5 2.5 119 1 0 -2.5 4.4a2.5 2.5 119 1 0 2.5 -4.4zM598.2 332.7a1.4 .9 0 1 0 2.9 0a1.4 .9 0 1 0 -2.9 0zM685.3 343.4a1.5 1.2 0 1 0 3 0a1.5 1.2 0 1 0 -3 0zM614.9 366a1 .6 0 1 0 2.1 0a1 .6 0 1 0 -2.1 0zM598.5 283.2a1.6 1.1 0 1 0 3.2 0a1.6 1.1 0 1 0 -3.2 0zM670.8 246.4a1 .7 0 1 0 2 0a1 .7 0 1 0 -2 0zM742.8 381.2a1.1 1 0 1 0 2.1 0a1.1 1 0 1 0 -2.1 0zM742.4 313.7a1.9 1.4 0 1 0 3.9 0a1.9 1.4 0 1 0 -3.9 0zM735.3 257.5a1.2 1.2 0 1 0 2.5 0a1.2 1.2 0 1 0 -2.5 0zM624.8 300.6a2.3 1.5 1 1 0 4.7 .1a2.3 1.5 1 1 0 -4.7 -.1zM643.8 306.2a1 .6 0 1 0 2 0a1 .6 0 1 0 -2 0zM602.3 401.6a3.2 2.1 16 1 0 6.1 1.8a3.2 2.1 16 1 0 -6.1 -1.8zM638.9 318.3a1.2 1.2 0 1 0 2.3 0a1.2 1.2 0 1 0 -2.3 0zM630.6 249.1a1.2 1.2 0 1 0 2.4 0a1.2 1.2 0 1 0 -2.4 0zM658.5 354.4a1.6 .9 0 1 0 3.2 0a1.6 .9 0 1 0 -3.2 0zM742.8 242.1a1.6 1.6 0 1 0 3.3 0a1.6 1.6 0 1 0 -3.3 0zM730.5 352.7a1.9 1.4 0 1 0 3.8 0a1.9 1.4 0 1 0 -3.8 0zM725.8 377.6a1.3 1.2 0 1 0 2.5 0a1.3 1.2 0 1 0 -2.5 0zM620.8 360a3 2.3 108 1 0 -1.8 5.7a3 2.3 108 1 0 1.8 -5.7zM634.7 385.2a2.3 2.2 11 1 0 4.6 .9a2.3 2.2 11 1 0 -4.6 -.9zM627.6 449.8a1.6 1.5 0 1 0 3.2 0a1.6 1.5 0 1 0 -3.2 0zM671.3 438a1.3 1.2 0 1 0 2.6 0a1.3 1.2 0 1 0 -2.6 0zM601.8 401.8a3.6 2 151 1 0 -6.2 3.4a3.6 2 151 1 0 6.2 -3.4zM655 383.1a1.1 1.1 0 1 0 2.2 0a1.1 1.1 0 1 0 -2.2 0zM637.9 257.4a1.1 .9 0 1 0 2.2 0a1.1 .9 0 1 0 -2.2 0zM738.5 273.9a1.2 .9 0 1 0 2.3 0a1.2 .9 0 1 0 -2.3 0zM639.5 262.5a1.5 1.3 0 1 0 3 0a1.5 1.3 0 1 0 -3 0zM744.2 375.6a1.4 1 0 1 0 2.7 0a1.4 1 0 1 0 -2.7 0zM731.4 307.7a1.2 .9 0 1 0 2.4 0a1.2 .9 0 1 0 -2.4 0zM742.4 381.3a1.2 .9 0 1 0 2.3 0a1.2 .9 0 1 0 -2.3 0zM720.2 281.1a1.9 1.2 0 1 0 3.8 0a1.9 1.2 0 1 0 -3.8 0zM610.7 386.4a1 .7 0 1 0 2.1 0a1 .7 0 1 0 -2.1 0zM649.9 336.2a3.8 3.1 150 1 0 -6.6 3.9a3.8 3.1 150 1 0 6.6 -3.9zM636.5 333.9a1.1 .9 0 1 0 2.2 0a1.1 .9 0 1 0 -2.2 0zM636.6 280a1 .8 0 1 0 2 0a1 .8 0 1 0 -2 0zM725.7 310.4a1.8 1.3 0 1 0 3.6 0a1.8 1.3 0 1 0 -3.6 0zM682.6 433.6a2.1 1.7 135 1 0 -3 3a2.1 1.7 135 1 0 3 -3zM604.4 329.4a3.7 3 38 1 0 5.9 4.5a3.7 3 38 1 0 -5.9 -4.5zM606 384.7a2.4 1.5 153 1 0 -4.3 2.2a2.4 1.5 153 1 0 4.3 -2.2zM605.9 397a3.5 2.9 133 1 0 -4.7 5.1a3.5 2.9 133 1 0 4.7 -5.1zM695.9 346.4a1 .8 0 1 0 2.1 0a1 .8 0 1 0 -2.1 0zM711.5 271.9a1.7 1 0 1 0 3.4 0a1.7 1 0 1 0 -3.4 0zM685.8 240.6a1.2 1 0 1 0 2.3 0a1.2 1 0 1 0 -2.3 0zM712.9 423.7a4.2 3.7 86 1 0 .5 8.3a4.2 3.7 86 1 0 -.5 -8.3zM690.3 406.4a1.5 1.3 0 1 0 3.1 0a1.5 1.3 0 1 0 -3.1 0zM727.1 335.7a1.3 1.1 0 1 0 2.6 0a1.3 1.1 0 1 0 -2.6 0zM720 316.2a3 2.8 169 1 0 -5.9 1.2a3 2.8 169 1 0 5.9 -1.2zM652 242.7a1.7 1.4 0 1 0 3.4 0a1.7 1.4 0 1 0 -3.4 0zM710 262a1.1 .9 0 1 0 2.2 0a1.1 .9 0 1 0 -2.2 0zM634.1 341.4a1 .9 0 1 0 2 0a1 .9 0 1 0 -2 0zM710.4 268.5a3.4 2.4 2 1 0 6.7 .2a3.4 2.4 2 1 0 -6.7 -.2zM726.5 374.4a1.2 1 0 1 0 2.4 0a1.2 1 0 1 0 -2.4 0zM748.1 377a2.2 1.4 160 1 0 -4.2 1.5a2.2 1.4 160 1 0 4.2 -1.5zM731.2 414.3a2.9 1.6 37 1 0 4.7 3.5a2.9 1.6 37 1 0 -4.7 -3.5zM649.1 356.8a2.2 2 26 1 0 3.9 1.9a2.2 2 26 1 0 -3.9 -1.9zM736.1 433.8a3.8 2.4 89 1 0 .1 7.6a3.8 2.4 89 1 0 -.1 -7.6zM663.3 332.5a2.5 1.6 42 1 0 3.7 3.3a2.5 1.6 42 1 0 -3.7 -3.3zM603.1 292.1a2.8 2.5 21 1 0 5.2 2a2.8 2.5 21 1 0 -5.2 -2zM672 302.4a2 1.9 0 1 0 4 0a2 1.9 0 1 0 -4 0zM649.3 419.5a3.7 3.2 167 1 0 -7.1 1.7a3.7 3.2 167 1 0 7.1 -1.7zM671.9 266.8a1.8 1.1 0 1 0 3.7 0a1.8 1.1 0 1 0 -3.7 0zM627.3 342.8a4.3 4 13 1 0 8.4 2a4.3 4 13 1 0 -8.4 -2zM631.8 383.4a1 .9 0 1 0 2 0a1 .9 0 1 0 -2 0zM620.3 397.3a1 .8 0 1 0 2 0a1 .8 0 1 0 -2 0zM730.2 257.1a1.6 1.2 0 1 0 3.1 0a1.6 1.2 0 1 0 -3.1 0zM624.2 338.4a1 .9 0 1 0 2 0a1 .9 0 1 0 -2 0zM721.9 429.4a1.8 1.5 0 1 0 3.7 0a1.8 1.5 0 1 0 -3.7 0zM670.6 281.9a3.5 2.1 14 1 0 6.8 1.7a3.5 2.1 14 1 0 -6.8 -1.7zM711.7 379.3a1 .6 0 1 0 2.1 0a1 .6 0 1 0 -2.1 0zM627.1 249.8a1 .8 0 1 0 2.1 0a1 .8 0 1 0 -2.1 0zM683.9 302.4a1.8 1.8 0 1 0 3.5 0a1.8 1.8 0 1 0 -3.5 0zM700.4 290.6a1.3 .8 0 1 0 2.6 0a1.3 .8 0 1 0 -2.6 0zM612.5 401.1a2.4 2.3 107 1 0 -1.4 4.6a2.4 2.3 107 1 0 1.4 -4.6zM669.9 371.1a1.1 .7 0 1 0 2.3 0a1.1 .7 0 1 0 -2.3 0zM674.5 443.1a1.6 .9 0 1 0 3.1 0a1.6 .9 0 1 0 -3.1 0zM621.7 295.2a1 .8 0 1 0 2 0a1 .8 0 1 0 -2 0zM623 252.6a1 .9 0 1 0 2 0a1 .9 0 1 0 -2 0zM733 441a1.3 .8 0 1 0 2.6 0a1.3 .8 0 1 0 -2.6 0zM726.3 370.9a3.8 3.2 170 1 0 -7.5 1.3a3.8 3.2 170 1 0 7.5 -1.3zM713.5 390.3a1.3 1 0 1 0 2.6 0a1.3 1 0 1 0 -2.6 0zM652.6 433.8a2.7 2.5 61 1 0 2.6 4.7a2.7 2.5 61 1 0 -2.6 -4.7zM694.7 299a1.2 1.2 0 1 0 2.5 0a1.2 1.2 0 1 0 -2.5 0zM650.3 454.1a2 2 62 1 0 1.9 3.6a2 2 62 1 0 -1.9 -3.6zM637.7 318.1a3.6 2.5 118 1 0 -3.5 6.4a3.6 2.5 118 1 0 3.5 -6.4zM707 344.7a3.6 2.2 121 1 0 -3.8 6.2a3.6 2.2 121 1 0 3.8 -6.2zM634.4 358.4a1.3 1 0 1 0 2.6 0a1.3 1 0 1 0 -2.6 0zM700.9 423.6a1.5 1.2 0 1 0 3 0a1.5 1.2 0 1 0 -3 0zM704.8 289.1a1.1 .9 0 1 0 2.1 0a1.1 .9 0 1 0 -2.1 0zM621.2 250.5a1.2 .9 0 1 0 2.4 0a1.2 .9 0 1 0 -2.4 0zM662.8 407.1a3.2 2.3 47 1 0 4.4 4.7a3.2 2.3 47 1 0 -4.4 -4.7zM632.7 280.7a3.5 3.3 147 1 0 -5.9 3.8a3.5 3.3 147 1 0 5.9 -3.8zM705 321.1a3 2.7 165 1 0 -5.7 1.5a3 2.7 165 1 0 5.7 -1.5zM738.4 331.5a1.2 .7 0 1 0 2.3 0a1.2 .7 0 1 0 -2.3 0zM684.9 448.9a1.2 .8 0 1 0 2.5 0a1.2 .8 0 1 0 -2.5 0zM740.8 432.6a2 1.8 82 1 0 .5 4a2 1.8 82 1 0 -.5 -4zM714.7 390.8a3.7 3 69 1 0 2.7 7a3.7 3 69 1 0 -2.7 -7zM651.4 319a1 .9 0 1 0 2 0a1 .9 0 1 0 -2 0zM716.7 418a1.3 1.3 0 1 0 2.6 0a1.3 1.3 0 1 0 -2.6 0zM683.9 408a3 2.4 30 1 0 5.2 3a3 2.4 30 1 0 -5.2 -3zM686.9 379.5a4.5 3.1 173 1 0 -8.9 1.1a4.5 3.1 173 1 0 8.9 -1.1zM639 454a1.2 .8 0 1 0 2.4 0a1.2 .8 0 1 0 -2.4 0zM665.4 434.9a1.1 1.1 0 1 0 2.1 0a1.1 1.1 0 1 0 -2.1 0zM604.4 267.5a1 .8 0 1 0 2 0a1 .8 0 1 0 -2 0zM668.2 369.7a4.1 2.4 63 1 0 3.8 7.3a4.1 2.4 63 1 0 -3.8 -7.3zM673.3 324a1 .7 0 1 0 2.1 0a1 .7 0 1 0 -2.1 0zM667.4 382.3a1 .7 0 1 0 2.1 0a1 .7 0 1 0 -2.1 0zM633.3 265.6a1.4 1.1 0 1 0 2.9 0a1.4 1.1 0 1 0 -2.9 0zM718.3 354.4a2.1 2 171 1 0 -4.2 .7a2.1 2 171 1 0 4.2 -.7zM684 245.7a1.2 1.1 0 1 0 2.5 0a1.2 1.1 0 1 0 -2.5 0zM727.3 362.6a1.2 .9 0 1 0 2.4 0a1.2 .9 0 1 0 -2.4 0zM605.9 439.6a3.9 2.8 112 1 0 -2.9 7.2a3.9 2.8 112 1 0 2.9 -7.2zM625.9 427.3a1.8 1.4 0 1 0 3.7 0a1.8 1.4 0 1 0 -3.7 0zM646.4 412.5a2.3 2.2 157 1 0 -4.2 1.8a2.3 2.2 157 1 0 4.2 -1.8zM743.8 369.6a4.2 2.9 176 1 0 -8.4 .6a4.2 2.9 176 1 0 8.4 -.6zM635.9 241.9a1 .6 0 1 0 2 0a1 .6 0 1 0 -2 0zM660.1 395.1a1.5 .9 0 1 0 2.9 0a1.5 .9 0 1 0 -2.9 0zM619.7 316.6a2.8 2.6 13 1 0 5.4 1.3a2.8 2.6 13 1 0 -5.4 -1.3zM630.5 404.9a3 1.8 76 1 0 1.5 5.7a3 1.8 76 1 0 -1.5 -5.7zM618.8 324.8a1.6 .9 0 1 0 3.2 0a1.6 .9 0 1 0 -3.2 0zM619 297a1.1 .8 0 1 0 2.1 0a1.1 .8 0 1 0 -2.1 0zM676.4 348.7a1.1 .8 0 1 0 2.3 0a1.1 .8 0 1 0 -2.3 0zM615.4 293.9a1.7 1.4 0 1 0 3.4 0a1.7 1.4 0 1 0 -3.4 0zM629.9 270.2a1.5 1.3 0 1 0 2.9 0a1.5 1.3 0 1 0 -2.9 0zM676.5 449.7a3.3 2.6 48 1 0 4.4 4.8a3.3 2.6 48 1 0 -4.4 -4.8zM672.5 362.5a3.2 2.9 39 1 0 5 4a3.2 2.9 39 1 0 -5 -4zM667.5 408.6a1.1 .8 0 1 0 2.2 0a1.1 .8 0 1 0 -2.2 0zM745.3 444.4a2.8 1.9 39 1 0 4.3 3.5a2.8 1.9 39 1 0 -4.3 -3.5zM711.1 316.5a2.3 1.6 146 1 0 -3.9 2.6a2.3 1.6 146 1 0 3.9 -2.6zM637.3 419.2a1.5 1 0 1 0 3 0a1.5 1 0 1 0 -3 0zM722.8 248.2a1.5 1.3 0 1 0 2.9 0a1.5 1.3 0 1 0 -2.9 0zM595.8 448.1a3.8 3.2 6 1 0 7.5 .8a3.8 3.2 6 1 0 -7.5 -.8zM686.4 443a1.1 .7 0 1 0 2.2 0a1.1 .7 0 1 0 -2.2 0zM602.8 409.6a2.3 1.5 114 1 0 -1.9 4.3a2.3 1.5 114 1 0 1.9 -4.3zM703.4 355.9a4 2.7 158 1 0 -7.5 3a4 2.7 158 1 0 7.5 -3zM644.5 445.9a1.1 .8 0 1 0 2.2 0a1.1 .8 0 1 0 -2.2 0zM611.6 416a2.1 1.2 21 1 0 4 1.5a2.1 1.2 21 1 0 -4 -1.5zM611.5 289.3a1 .7 0 1 0 2 0a1 .7 0 1 0 -2 0zM719.1 427.2a2.7 2.6 17 1 0 5.2 1.6a2.7 2.6 17 1 0 -5.2 -1.6zM713.6 378.9a2 1.4 0 1 0 4 0a2 1.4 0 1 0 -4 0zM654.4 264.6a1.3 .9 0 1 0 2.6 0a1.3 .9 0 1 0 -2.6 0zM621.2 398.5a1.1 1 0 1 0 2.2 0a1.1 1 0 1 0 -2.2 0zM677.8 252a1.2 1.1 0 1 0 2.4 0a1.2 1.1 0 1 0 -2.4 0zM663.6 448.7a1.5 1 0 1 0 2.9 0a1.5 1 0 1 0 -2.9 0zM730.8 457.4a1.2 1 0 1 0 2.3 0a1.2 1 0 1 0 -2.3 0zM704.6 260.6a3 2.3 75 1 0 1.6 5.9a3 2.3 75 1 0 -1.6 -5.9zM708.9 341.9a2.9 2.6 105 1 0 -1.5 5.5a2.9 2.6 105 1 0 1.5 -5.5zM710.2 313.8a2.7 2.5 10 1 0 5.2 .9a2.7 2.5 10 1 0 -5.2 -.9zM680 247.4a2.5 1.9 67 1 0 1.9 4.5a2.5 1.9 67 1 0 -1.9 -4.5zM633.6 376.1a1 .6 0 1 0 2.1 0a1 .6 0 1 0 -2.1 0zM657 368.4a1 .9 0 1 0 2 0a1 .9 0 1 0 -2 0zM657.2 313.7a2.5 2 71 1 0 1.6 4.7a2.5 2 71 1 0 -1.6 -4.7zM725.9 383.4a3.2 2.4 45 1 0 4.5 4.6a3.2 2.4 45 1 0 -4.5 -4.6zM709.2 365.2a1.8 1.2 0 1 0 3.7 0a1.8 1.2 0 1 0 -3.7 0zM665.9 375.5a3 1.9 79 1 0 1.2 5.8a3 1.9 79 1 0 -1.2 -5.8zM673.3 434.6a1.6 1 0 1 0 3.2 0a1.6 1 0 1 0 -3.2 0zM737.4 438.5a3.6 2.7 90 1 0 -0 7.2a3.6 2.7 90 1 0 0 -7.2zM633.2 330a1 .7 0 1 0 2 0a1 .7 0 1 0 -2 0zM682.4 326.2a2.5 1.5 2 1 0 4.9 .2a2.5 1.5 2 1 0 -4.9 -.2zM673.8 432.9a2.3 2.1 128 1 0 -2.8 3.6a2.3 2.1 128 1 0 2.8 -3.6zM688.5 279.1a1.1 1 0 1 0 2.3 0a1.1 1 0 1 0 -2.3 0zM614.9 275.7a1.4 1.4 0 1 0 2.8 0a1.4 1.4 0 1 0 -2.8 0zM690.1 263.1a1 .8 0 1 0 2 0a1 .8 0 1 0 -2 0zM641.2 386.3a1.1 .7 0 1 0 2.2 0a1.1 .7 0 1 0 -2.2 0zM714.4 384.8a1.3 1.1 0 1 0 2.6 0a1.3 1.1 0 1 0 -2.6 0zM664.4 337.2a1.3 1 0 1 0 2.6 0a1.3 1 0 1 0 -2.6 0zM726.7 293.3a1.3 .8 0 1 0 2.5 0a1.3 .8 0 1 0 -2.5 0zM624 369.1a1 .7 0 1 0 2.1 0a1 .7 0 1 0 -2.1 0zM606.3 407.6a3.3 2.3 9 1 0 6.6 1.1a3.3 2.3 9 1 0 -6.6 -1.1zM705.5 374.6a3.5 3.1 112 1 0 -2.6 6.4a3.5 3.1 112 1 0 2.6 -6.4zM686.7 286.1a1.6 1.1 0 1 0 3.2 0a1.6 1.1 0 1 0 -3.2 0zM703.8 285.6a1.7 1 0 1 0 3.4 0a1.7 1 0 1 0 -3.4 0zM695 256.5a1.6 1.1 0 1 0 3.3 0a1.6 1.1 0 1 0 -3.3 0zM670.5 302.1a2.5 2.2 47 1 0 3.4 3.6a2.5 2.2 47 1 0 -3.4 -3.6zM677.8 244.6a2.1 1.7 29 1 0 3.7 2a2.1 1.7 29 1 0 -3.7 -2zM622.6 260.4a3.1 3.1 30 1 0 5.4 3.1a3.1 3.1 30 1 0 -5.4 -3.1zM654.8 290.3a1.5 1.2 0 1 0 2.9 0a1.5 1.2 0 1 0 -2.9 0zM681.2 318.1a2.4 1.7 77 1 0 1.1 4.6a2.4 1.7 77 1 0 -1.1 -4.6zM697.3 338.2a1 .6 0 1 0 2 0a1 .6 0 1 0 -2 0zM704.3 325.6a1.3 .9 0 1 0 2.5 0a1.3 .9 0 1 0 -2.5 0zM713.4 411.2a3.8 2.5 83 1 0 .9 7.5a3.8 2.5 83 1 0 -.9 -7.5zM689.2 432.1a2.4 1.5 50 1 0 3.1 3.6a2.4 1.5 50 1 0 -3.1 -3.6zM656.4 276a1.1 .8 0 1 0 2.1 0a1.1 .8 0 1 0 -2.1 0zM647 423.7a2 1.2 30 1 0 3.5 2.1a2 1.2 30 1 0 -3.5 -2.1zM655.3 246.5a1.7 1.5 0 1 0 3.4 0a1.7 1.5 0 1 0 -3.4 0zM652.1 299.8a2.1 2 173 1 0 -4.2 .5a2.1 2 173 1 0 4.2 -.5zM598.8 422.4a1.1 .8 0 1 0 2.2 0a1.1 .8 0 1 0 -2.2 0zM593.9 335.3a3.1 3 17 1 0 5.9 1.8a3.1 3 17 1 0 -5.9 -1.8zM604.1 409.5a3.3 2.9 124 1 0 -3.7 5.5a3.3 2.9 124 1 0 3.7 -5.5zM612 267a2.5 1.9 175 1 0 -5 .5a2.5 1.9 175 1 0 5 -.5zM680.6 310.3a1.1 1 0 1 0 2.1 0a1.1 1 0 1 0 -2.1 0zM684 442.1a4.4 3.5 11 1 0 8.6 1.7a4.4 3.5 11 1 0 -8.6 -1.7zM706.8 345.4a4.4 2.8 83 1 0 1.1 8.7a4.4 2.8 83 1 0 -1.1 -8.7zM595.1 313.3a1.5 1.1 0 1 0 3.1 0a1.5 1.1 0 1 0 -3.1 0zM604.5 278.3a2.3 1.9 159 1 0 -4.3 1.7a2.3 1.9 159 1 0 4.3 -1.7zM638.2 259.8a2.1 1.7 3 1 0 4.1 .2a2.1 1.7 3 1 0 -4.1 -.2zM654.9 327.2a1.3 1.2 0 1 0 2.6 0a1.3 1.2 0 1 0 -2.6 0zM733.6 382.6a2.6 2.3 142 1 0 -4.1 3.2a2.6 2.3 142 1 0 4.1 -3.2zM693.7 287.7a1.9 1.7 0 1 0 3.8 0a1.9 1.7 0 1 0 -3.8 0zM684.9 392.4a3.7 3.3 120 1 0 -3.7 6.4a3.7 3.3 120 1 0 3.7 -6.4zM700.3 378.6a1.2 .9 0 1 0 2.4 0a1.2 .9 0 1 0 -2.4 0zM637.7 398.8a2.8 2.1 134 1 0 -3.9 4.1a2.8 2.1 134 1 0 3.9 -4.1zM632.6 352.3a1.7 1.6 0 1 0 3.3 0a1.7 1.6 0 1 0 -3.3 0zM610.3 315.7a2.2 1.6 129 1 0 -2.8 3.4a2.2 1.6 129 1 0 2.8 -3.4zM615.3 379.1a1.2 1.1 0 1 0 2.5 0a1.2 1.1 0 1 0 -2.5 0zM739.8 301.4a3.1 2.5 160 1 0 -5.8 2.1a3.1 2.5 160 1 0 5.8 -2.1zM712.6 304.7a1.1 1.1 0 1 0 2.3 0a1.1 1.1 0 1 0 -2.3 0zM625.9 396.5a1.1 .7 0 1 0 2.3 0a1.1 .7 0 1 0 -2.3 0zM634.6 250.2a1.1 1 0 1 0 2.1 0a1.1 1 0 1 0 -2.1 0zM673.7 256.5a1 1 0 1 0 2 0a1 1 0 1 0 -2 0zM631.3 284.9a1.9 1.8 0 1 0 3.7 0a1.9 1.8 0 1 0 -3.7 0zM621 305.9a1.9 1.7 0 1 0 3.8 0a1.9 1.7 0 1 0 -3.8 0zM665.4 431.3a1.1 1.1 0 1 0 2.2 0a1.1 1.1 0 1 0 -2.2 0zM656.5 423.3a2 1.4 0 1 0 3.9 0a2 1.4 0 1 0 -3.9 0zM722.4 343.8a1 .8 0 1 0 2 0a1 .8 0 1 0 -2 0zM656.9 269.4a3.3 3.2 45 1 0 4.7 4.7a3.3 3.2 45 1 0 -4.7 -4.7zM657.3 311.8a1.4 1.1 0 1 0 2.9 0a1.4 1.1 0 1 0 -2.9 0zM734.8 315.9a2 1.6 80 1 0 .7 4a2 1.6 80 1 0 -.7 -4zM711.3 283a1.9 1.7 0 1 0 3.7 0a1.9 1.7 0 1 0 -3.7 0zM605.8 339.2a1.2 1.2 0 1 0 2.4 0a1.2 1.2 0 1 0 -2.4 0zM613.3 302a1.6 1.4 0 1 0 3.3 0a1.6 1.4 0 1 0 -3.3 0zM734.3 361.4a2.9 1.8 56 1 0 3.2 4.8a2.9 1.8 56 1 0 -3.2 -4.8zM681.2 337.5a2.1 1.6 57 1 0 2.3 3.6a2.1 1.6 57 1 0 -2.3 -3.6zM632.4 404a1.2 1 0 1 0 2.4 0a1.2 1 0 1 0 -2.4 0zM731.3 351.4a3.1 2.8 136 1 0 -4.5 4.3a3.1 2.8 136 1 0 4.5 -4.3zM737.1 394a2.6 1.5 10 1 0 5.1 .9a2.6 1.5 10 1 0 -5.1 -.9zM716.6 449.9a2.2 1.8 6 1 0 4.4 .5a2.2 1.8 6 1 0 -4.4 -.5zM727.8 281.6a1.5 .8 0 1 0 2.9 0a1.5 .8 0 1 0 -2.9 0zM598.2 409.7a1.6 1 0 1 0 3.3 0a1.6 1 0 1 0 -3.3 0zM616.2 241.5a1.1 .7 0 1 0 2.3 0a1.1 .7 0 1 0 -2.3 0zM619.4 435.8a1 .6 0 1 0 2.1 0a1 .6 0 1 0 -2.1 0zM606.7 276.4a2.2 2.1 168 1 0 -4.3 .9a2.2 2.1 168 1 0 4.3 -.9zM689.7 377.8a1 .9 0 1 0 2.1 0a1 .9 0 1 0 -2.1 0zM664.1 278.3a2.1 1.7 30 1 0 3.6 2a2.1 1.7 30 1 0 -3.6 -2zM691.2 388.8a1.4 1 0 1 0 2.9 0a1.4 1 0 1 0 -2.9 0zM696.1 376.7a1.4 .9 0 1 0 2.8 0a1.4 .9 0 1 0 -2.8 0zM678.6 263.6a1 1 0 1 0 2.1 0a1 1 0 1 0 -2.1 0zM627.5 429.1a2.8 1.8 31 1 0 4.8 2.9a2.8 1.8 31 1 0 -4.8 -2.9zM688.8 240.9a1 .6 0 1 0 2.1 0a1 .6 0 1 0 -2.1 0zM731.1 276.2a1.1 .6 0 1 0 2.1 0a1.1 .6 0 1 0 -2.1 0zM607.5 425.4a2.7 2.1 57 1 0 2.9 4.4a2.7 2.1 57 1 0 -2.9 -4.4zM615.4 348.9a1.1 .8 0 1 0 2.1 0a1.1 .8 0 1 0 -2.1 0zM617.3 339.7a2.7 1.8 54 1 0 3.2 4.3a2.7 1.8 54 1 0 -3.2 -4.3zM660 282.2a1.1 .8 0 1 0 2.1 0a1.1 .8 0 1 0 -2.1 0zM600.4 275a1.6 1.4 0 1 0 3.2 0a1.6 1.4 0 1 0 -3.2 0zM700.6 454.7a2.7 2.5 140 1 0 -4.2 3.5a2.7 2.5 140 1 0 4.2 -3.5zM623.5 255.3a1.2 1 0 1 0 2.5 0a1.2 1 0 1 0 -2.5 0zM731.9 249.5a3.1 2.5 69 1 0 2.2 5.8a3.1 2.5 69 1 0 -2.2 -5.8zM615.6 363.4a1.9 1.6 0 1 0 3.7 0a1.9 1.6 0 1 0 -3.7 0zM684.2 321.3a3.7 2.8 59 1 0 3.8 6.4a3.7 2.8 59 1 0 -3.8 -6.4zM653.8 304.4a1.8 1.3 0 1 0 3.7 0a1.8 1.3 0 1 0 -3.7 0zM685.3 444.4a3.2 1.9 9 1 0 6.3 1a3.2 1.9 9 1 0 -6.3 -1zM714.8 338.2a1.7 1.2 0 1 0 3.4 0a1.7 1.2 0 1 0 -3.4 0zM700.2 429a1 1 0 1 0 2 0a1 1 0 1 0 -2 0zM615.8 272.3a1 .8 0 1 0 2 0a1 .8 0 1 0 -2 0zM618.8 258.4a1.4 1.4 0 1 0 2.8 0a1.4 1.4 0 1 0 -2.8 0zM613.3 409.8a2.7 1.6 179 1 0 -5.3 .1a2.7 1.6 179 1 0 5.3 -.1zM626.9 303.2a3.7 2.4 144 1 0 -5.9 4.4a3.7 2.4 144 1 0 5.9 -4.4zM615.3 271.1a2.2 1.4 8 1 0 4.3 .6a2.2 1.4 8 1 0 -4.3 -.6zM595.9 396.4a1.5 1.1 0 1 0 2.9 0a1.5 1.1 0 1 0 -2.9 0zM665.2 451.6a2.2 1.2 109 1 0 -1.4 4.2a2.2 1.2 109 1 0 1.4 -4.2zM699.6 435.7a1.1 1 0 1 0 2.3 0a1.1 1 0 1 0 -2.3 0zM710.8 274.4a1.2 1 0 1 0 2.5 0a1.2 1 0 1 0 -2.5 0zM729.9 435.4a2.3 1.8 31 1 0 4 2.4a2.3 1.8 31 1 0 -4 -2.4zM597.6 353.5a1.9 1.7 0 1 0 3.8 0a1.9 1.7 0 1 0 -3.8 0zM624.2 316.4a1.3 1 0 1 0 2.5 0a1.3 1 0 1 0 -2.5 0zM714.5 425a4.5 3.4 81 1 0 1.3 8.8a4.5 3.4 81 1 0 -1.3 -8.8zM622.4 369.3a1.9 1.9 0 1 0 3.8 0a1.9 1.9 0 1 0 -3.8 0zM677.8 440.8a2.2 1.6 160 1 0 -4.1 1.5a2.2 1.6 160 1 0 4.1 -1.5zM685.6 398.4a1 1 0 1 0 2 0a1 1 0 1 0 -2 0zM668.4 418.8a3 2.8 24 1 0 5.6 2.5a3 2.8 24 1 0 -5.6 -2.5zM660.6 349a3.3 2 14 1 0 6.4 1.5a3.3 2 14 1 0 -6.4 -1.5zM594.8 352.3a1.3 .8 0 1 0 2.7 0a1.3 .8 0 1 0 -2.7 0zM651.5 433.6a1.3 1 0 1 0 2.6 0a1.3 1 0 1 0 -2.6 0zM658.6 360a3 1.7 43 1 0 4.4 4a3 1.7 43 1 0 -4.4 -4zM714.3 426a1 .9 0 1 0 2 0a1 .9 0 1 0 -2 0zM600 456.2a1.3 1.1 0 1 0 2.5 0a1.3 1.1 0 1 0 -2.5 0zM699.1 264.6a2.6 1.7 130 1 0 -3.3 4a2.6 1.7 130 1 0 3.3 -4zM680.9 431.1a2.6 2 28 1 0 4.5 2.4a2.6 2 28 1 0 -4.5 -2.4zM595.2 372.8a1.4 1.1 0 1 0 2.7 0a1.4 1.1 0 1 0 -2.7 0zM610.7 281.8a1.7 1.4 0 1 0 3.4 0a1.7 1.4 0 1 0 -3.4 0zM688.4 242.1a2.4 2.4 6 1 0 4.8 .5a2.4 2.4 6 1 0 -4.8 -.5zM706.4 312.2a1 .9 0 1 0 2 0a1 .9 0 1 0 -2 0zM658.5 269a1.2 .8 0 1 0 2.4 0a1.2 .8 0 1 0 -2.4 0zM687.3 276.8a2.9 2.8 98 1 0 -.8 5.7a2.9 2.8 98 1 0 .8 -5.7zM745.2 454.3a1.1 .7 0 1 0 2.1 0a1.1 .7 0 1 0 -2.1 0zM636.7 425.7a2 1.7 0 1 0 3.9 0a2 1.7 0 1 0 -3.9 0zM677.5 342.9a1 .8 0 1 0 2.1 0a1 .8 0 1 0 -2.1 0zM604.7 343.3a1.6 1.2 0 1 0 3.3 0a1.6 1.2 0 1 0 -3.3 0zM614.5 406a2.7 1.6 175 1 0 -5.4 .5a2.7 1.6 175 1 0 5.4 -.5zM629.2 272.9a1.1 .8 0 1 0 2.1 0a1.1 .8 0 1 0 -2.1 0zM734.3 402.3a3.8 2.2 56 1 0 4.2 6.3a3.8 2.2 56 1 0 -4.2 -6.3zM728.9 399.3a1 .8 0 1 0 2 0a1 .8 0 1 0 -2 0zM714.7 395.2a2.5 1.9 155 1 0 -4.5 2.1a2.5 1.9 155 1 0 4.5 -2.1zM606.1 447.1a1 .7 0 1 0 2 0a1 .7 0 1 0 -2 0zM612.4 377.9a3.4 2 161 1 0 -6.5 2.2a3.4 2 161 1 0 6.5 -2.2zM707 377.7a1.2 1.2 0 1 0 2.5 0a1.2 1.2 0 1 0 -2.5 0zM666.2 286a1.1 1 0 1 0 2.2 0a1.1 1 0 1 0 -2.2 0zM616.1 337.6a1 .8 0 1 0 2 0a1 .8 0 1 0 -2 0zM693.8 352.1a2.7 2.5 155 1 0 -4.9 2.3a2.7 2.5 155 1 0 4.9 -2.3zM708.2 300a3 2.1 99 1 0 -1 5.9a3 2.1 99 1 0 1 -5.9zM706.5 418a1.7 1.5 0 1 0 3.4 0a1.7 1.5 0 1 0 -3.4 0zM626.7 342.2a1 .6 0 1 0 2 0a1 .6 0 1 0 -2 0zM683.4 424.6a3.1 2.5 23 1 0 5.7 2.5a3.1 2.5 23 1 0 -5.7 -2.5zM605 420.5a1.4 .9 0 1 0 2.9 0a1.4 .9 0 1 0 -2.9 0zM729.6 398.1a3.3 2.4 48 1 0 4.5 4.9a3.3 2.4 48 1 0 -4.5 -4.9zM655.1 402.1a1 .8 0 1 0 2 0a1 .8 0 1 0 -2 0zM625 319.1a2 2 132 1 0 -2.7 3a2 2 132 1 0 2.7 -3zM688 268.8a1 1 0 1 0 2 0a1 1 0 1 0 -2 0zM680.3 427.4a1.3 .7 0 1 0 2.5 0a1.3 .7 0 1 0 -2.5 0z" fill="#b9b6ae"/>
<path d="M665.9 358.2a4 3.1 106 1 0 -2.2 7.7a4 3.1 106 1 0 2.2 -7.7zM694.3 374.2a1.1 .6 0 1 0 2.1 0a1.1 .6 0 1 0 -2.1 0zM604 281.5a1.1 .6 0 1 0 2.2 0a1.1 .6 0 1 0 -2.2 0zM661.1 423.6a1.8 1.5 0 1 0 3.7 0a1.8 1.5 0 1 0 -3.7 0zM631.1 393.6a1.2 1.1 0 1 0 2.3 0a1.2 1.1 0 1 0 -2.3 0zM607.7 403.5a1 .8 0 1 0 2 0a1 .8 0 1 0 -2 0zM733.5 282.6a2.8 2.8 103 1 0 -1.3 5.5a2.8 2.8 103 1 0 1.3 -5.5zM741.9 352.5a1.4 1.3 0 1 0 2.9 0a1.4 1.3 0 1 0 -2.9 0zM614.2 294.4a3.2 2.6 174 1 0 -6.4 .7a3.2 2.6 174 1 0 6.4 -.7zM708.9 248.4a2.9 1.8 30 1 0 5 2.9a2.9 1.8 30 1 0 -5 -2.9zM701.9 340.6a4.2 3.9 21 1 0 7.9 3a4.2 3.9 21 1 0 -7.9 -3zM689.8 339.3a1.1 .6 0 1 0 2.2 0a1.1 .6 0 1 0 -2.2 0zM689.8 318.3a1.2 1 0 1 0 2.3 0a1.2 1 0 1 0 -2.3 0zM609.7 430.8a1 .6 0 1 0 2 0a1 .6 0 1 0 -2 0zM649.9 326.2a1.4 .9 0 1 0 2.7 0a1.4 .9 0 1 0 -2.7 0zM728.9 301.4a1 .8 0 1 0 2 0a1 .8 0 1 0 -2 0zM649 449.1a2.5 1.9 130 1 0 -3.2 3.9a2.5 1.9 130 1 0 3.2 -3.9zM693.4 409.2a1.1 .6 0 1 0 2.1 0a1.1 .6 0 1 0 -2.1 0zM640.7 276.3a2.4 1.6 147 1 0 -3.9 2.6a2.4 1.6 147 1 0 3.9 -2.6zM745.4 383.3a1.1 .6 0 1 0 2.3 0a1.1 .6 0 1 0 -2.3 0zM609.2 344.7a1.6 1.6 0 1 0 3.2 0a1.6 1.6 0 1 0 -3.2 0zM652.2 394.8a1.1 .9 0 1 0 2.3 0a1.1 .9 0 1 0 -2.3 0zM690.3 283.1a1 .7 0 1 0 2 0a1 .7 0 1 0 -2 0zM698.7 310.4a3.5 2.5 22 1 0 6.5 2.7a3.5 2.5 22 1 0 -6.5 -2.7zM744.5 266.7a3 2.3 101 1 0 -1.1 5.8a3 2.3 101 1 0 1.1 -5.8zM631.8 436.5a4.7 4.3 22 1 0 8.8 3.6a4.7 4.3 22 1 0 -8.8 -3.6zM724.1 301.3a3.2 2.1 150 1 0 -5.6 3.3a3.2 2.1 150 1 0 5.6 -3.3zM615.9 324.2a1.9 1.2 0 1 0 3.7 0a1.9 1.2 0 1 0 -3.7 0zM697.1 268.4a3.3 2.7 74 1 0 1.8 6.3a3.3 2.7 74 1 0 -1.8 -6.3zM693.8 390.2a3 2.7 179 1 0 -6 .1a3 2.7 179 1 0 6 -.1zM721.9 426.4a1.5 1.1 0 1 0 3 0a1.5 1.1 0 1 0 -3 0zM730 281.2a2.7 1.9 31 1 0 4.7 2.8a2.7 1.9 31 1 0 -4.7 -2.8zM638.2 404.7a1.2 .8 0 1 0 2.3 0a1.2 .8 0 1 0 -2.3 0zM627.7 432.2a4.7 2.7 135 1 0 -6.7 6.6a4.7 2.7 135 1 0 6.7 -6.6zM652.7 442.6a1.8 1.1 0 1 0 3.5 0a1.8 1.1 0 1 0 -3.5 0zM694.1 316.2a2.2 2 91 1 0 -.1 4.3a2.2 2 91 1 0 .1 -4.3zM711 409.4a3.2 2.1 40 1 0 4.9 4.1a3.2 2.1 40 1 0 -4.9 -4.1zM607.1 314a2.3 2.2 160 1 0 -4.3 1.6a2.3 2.2 160 1 0 4.3 -1.6zM594.7 358.6a1.4 .9 0 1 0 2.8 0a1.4 .9 0 1 0 -2.8 0zM680.5 320.6a1.2 1 0 1 0 2.3 0a1.2 1 0 1 0 -2.3 0zM630.8 294.3a1.2 .8 0 1 0 2.4 0a1.2 .8 0 1 0 -2.4 0zM645.9 402.1a3.6 3.3 76 1 0 1.8 6.9a3.6 3.3 76 1 0 -1.8 -6.9zM696.7 290.4a1.1 .6 0 1 0 2.1 0a1.1 .6 0 1 0 -2.1 0zM613.3 312a1 .8 0 1 0 2 0a1 .8 0 1 0 -2 0zM730.7 307.4a1 .6 0 1 0 2 0a1 .6 0 1 0 -2 0zM604.7 318.2a2.6 1.8 2 1 0 5.2 .2a2.6 1.8 2 1 0 -5.2 -.2zM700.8 292.5a3.2 1.8 41 1 0 4.9 4.2a3.2 1.8 41 1 0 -4.9 -4.2zM656.1 429.1a1 1 0 1 0 2.1 0a1 1 0 1 0 -2.1 0zM627.4 299.7a2 1.2 142 1 0 -3.2 2.5a2 1.2 142 1 0 3.2 -2.5zM665.9 268.1a1 1 0 1 0 2 0a1 1 0 1 0 -2 0zM731.6 301.8a3 2.6 168 1 0 -5.9 1.2a3 2.6 168 1 0 5.9 -1.2zM660.4 311.6a2.9 2.7 98 1 0 -.8 5.8a2.9 2.7 98 1 0 .8 -5.8zM597.9 378a1.7 1.2 0 1 0 3.3 0a1.7 1.2 0 1 0 -3.3 0zM674.9 263.3a2.4 1.6 22 1 0 4.4 1.8a2.4 1.6 22 1 0 -4.4 -1.8zM717.7 399.9a2.7 1.7 5 1 0 5.5 .5a2.7 1.7 5 1 0 -5.5 -.5zM641.9 370.7a2.1 1.5 93 1 0 -.2 4.2a2.1 1.5 93 1 0 .2 -4.2zM712.6 261.6a2.2 1.4 36 1 0 3.5 2.6a2.2 1.4 36 1 0 -3.5 -2.6zM647.4 275.7a1.2 1 0 1 0 2.5 0a1.2 1 0 1 0 -2.5 0zM654.8 361.7a3.5 2.5 86 1 0 .4 6.9a3.5 2.5 86 1 0 -.4 -6.9zM641.6 424.7a1 .9 0 1 0 2 0a1 .9 0 1 0 -2 0zM705.4 297.7a1.1 .6 0 1 0 2.2 0a1.1 .6 0 1 0 -2.2 0zM633.4 303.9a1.1 .7 0 1 0 2.2 0a1.1 .7 0 1 0 -2.2 0zM622.8 424.7a3.6 3 132 1 0 -4.9 5.4a3.6 3 132 1 0 4.9 -5.4zM737.3 316.5a2.8 1.8 67 1 0 2.2 5.1a2.8 1.8 67 1 0 -2.2 -5.1zM673.7 256.8a1.5 1 0 1 0 3.1 0a1.5 1 0 1 0 -3.1 0zM648.9 241.1a2.2 1.4 95 1 0 -.4 4.3a2.2 1.4 95 1 0 .4 -4.3zM645.2 290.5a2 1.4 46 1 0 2.8 2.9a2 1.4 46 1 0 -2.8 -2.9zM707.6 340.8a3.1 1.7 68 1 0 2.3 5.8a3.1 1.7 68 1 0 -2.3 -5.8zM602.4 306.9a1.1 .6 0 1 0 2.1 0a1.1 .6 0 1 0 -2.1 0zM627.1 244.3a1.1 1 0 1 0 2.1 0a1.1 1 0 1 0 -2.1 0zM600.4 296.8a1.9 1.4 0 1 0 3.9 0a1.9 1.4 0 1 0 -3.9 0zM689.6 309.1a1.3 1.2 0 1 0 2.6 0a1.3 1.2 0 1 0 -2.6 0zM647 361.9a1.7 1.7 0 1 0 3.5 0a1.7 1.7 0 1 0 -3.5 0zM652.2 240.4a1.4 1 0 1 0 2.8 0a1.4 1 0 1 0 -2.8 0zM691 340.8a1 .8 0 1 0 2 0a1 .8 0 1 0 -2 0zM670.8 332.9a1.8 1.8 0 1 0 3.7 0a1.8 1.8 0 1 0 -3.7 0zM640.6 290.3a3.3 1.8 62 1 0 3.1 5.8a3.3 1.8 62 1 0 -3.1 -5.8zM668.1 260a3.1 2.9 106 1 0 -1.7 6a3.1 2.9 106 1 0 1.7 -6zM711.9 339.2a1.6 1.5 0 1 0 3.2 0a1.6 1.5 0 1 0 -3.2 0zM661 382.4a1.1 1 0 1 0 2.2 0a1.1 1 0 1 0 -2.2 0zM708.3 366.2a1.2 1 0 1 0 2.3 0a1.2 1 0 1 0 -2.3 0zM705.2 447.2a1.2 1 0 1 0 2.4 0a1.2 1 0 1 0 -2.4 0zM638.4 415.7a1.5 .9 0 1 0 3 0a1.5 .9 0 1 0 -3 0zM720.8 322.9a1.2 .8 0 1 0 2.3 0a1.2 .8 0 1 0 -2.3 0zM699.3 252.9a2.5 2 17 1 0 4.8 1.5a2.5 2 17 1 0 -4.8 -1.5zM657.1 325a1.7 1.3 0 1 0 3.3 0a1.7 1.3 0 1 0 -3.3 0zM722.3 386.5a2.6 2.3 72 1 0 1.7 5a2.6 2.3 72 1 0 -1.7 -5zM620.6 324.5a2.1 1.3 169 1 0 -4.2 .8a2.1 1.3 169 1 0 4.2 -.8zM731.7 387a1.1 .8 0 1 0 2.2 0a1.1 .8 0 1 0 -2.2 0zM621.7 349.1a1.7 1.5 0 1 0 3.4 0a1.7 1.5 0 1 0 -3.4 0zM620.3 356.7a1.4 .8 0 1 0 2.7 0a1.4 .8 0 1 0 -2.7 0zM624.4 313.2a1 .9 0 1 0 2 0a1 .9 0 1 0 -2 0zM604.2 377.1a1.2 .8 0 1 0 2.4 0a1.2 .8 0 1 0 -2.4 0zM700.1 278.9a2.8 1.8 61 1 0 2.7 4.9a2.8 1.8 61 1 0 -2.7 -4.9zM600.3 330.2a1.1 .9 0 1 0 2.1 0a1.1 .9 0 1 0 -2.1 0zM619 253.9a1.5 .9 0 1 0 3.1 0a1.5 .9 0 1 0 -3.1 0zM730 286.5a1 .9 0 1 0 2 0a1 .9 0 1 0 -2 0zM715.4 248.9a1.5 .9 0 1 0 2.9 0a1.5 .9 0 1 0 -2.9 0zM743.1 372a1 .9 0 1 0 2.1 0a1 .9 0 1 0 -2.1 0zM608.4 410.6a2.2 1.2 108 1 0 -1.3 4.2a2.2 1.2 108 1 0 1.3 -4.2zM660.9 350.8a2.6 2.2 142 1 0 -4.1 3.2a2.6 2.2 142 1 0 4.1 -3.2zM740.3 307.5a1.4 1.1 0 1 0 2.9 0a1.4 1.1 0 1 0 -2.9 0zM703.9 409.2a1.6 1.2 0 1 0 3.1 0a1.6 1.2 0 1 0 -3.1 0zM696.4 284a3.1 2.9 9 1 0 6.1 1a3.1 2.9 9 1 0 -6.1 -1zM638 303.8a1.4 1.4 0 1 0 2.8 0a1.4 1.4 0 1 0 -2.8 0zM629.6 253.7a1 .7 0 1 0 2 0a1 .7 0 1 0 -2 0zM640.1 305a1 .6 0 1 0 2 0a1 .6 0 1 0 -2 0zM597.6 431.6a1.4 1 0 1 0 2.7 0a1.4 1 0 1 0 -2.7 0zM598.5 260a2.4 1.9 62 1 0 2.2 4.2a2.4 1.9 62 1 0 -2.2 -4.2zM696.6 340.6a1.8 1.5 0 1 0 3.6 0a1.8 1.5 0 1 0 -3.6 0zM702.8 399.5a1 1 0 1 0 2 0a1 1 0 1 0 -2 0zM703.1 341a2.7 2.4 49 1 0 3.6 4.1a2.7 2.4 49 1 0 -3.6 -4.1zM733.1 422.5a3.6 3.3 13 1 0 7 1.7a3.6 3.3 13 1 0 -7 -1.7zM609.4 306.6a1.3 .8 0 1 0 2.7 0a1.3 .8 0 1 0 -2.7 0zM638.5 346.5a1.8 1.2 0 1 0 3.5 0a1.8 1.2 0 1 0 -3.5 0zM689.9 371.8a1 1 0 1 0 2.1 0a1 1 0 1 0 -2.1 0zM601.8 433a3.4 2.6 5 1 0 6.8 .6a3.4 2.6 5 1 0 -6.8 -.6zM650.7 447.4a1.3 1.2 0 1 0 2.5 0a1.3 1.2 0 1 0 -2.5 0zM615.7 450.2a4.1 4 9 1 0 8.1 1.3a4.1 4 9 1 0 -8.1 -1.3zM659.5 373.9a2.4 1.4 10 1 0 4.8 .9a2.4 1.4 10 1 0 -4.8 -.9zM654.8 412.8a1 .8 0 1 0 2 0a1 .8 0 1 0 -2 0zM613 257.4a2.4 2 21 1 0 4.5 1.7a2.4 2 21 1 0 -4.5 -1.7zM671.2 271.8a1.7 1 0 1 0 3.4 0a1.7 1 0 1 0 -3.4 0zM614.9 419.3a2.2 2.1 29 1 0 3.9 2.1a2.2 2.1 29 1 0 -3.9 -2.1zM624.2 331.7a3.2 3.1 47 1 0 4.4 4.7a3.2 3.1 47 1 0 -4.4 -4.7zM660 424.5a1.9 1.5 0 1 0 3.9 0a1.9 1.5 0 1 0 -3.9 0zM708.7 280.3a3.3 3.3 179 1 0 -6.7 .1a3.3 3.3 179 1 0 6.7 -.1zM689.4 323.8a1 .6 0 1 0 2 0a1 .6 0 1 0 -2 0zM743 438.1a1.6 1.3 0 1 0 3.2 0a1.6 1.3 0 1 0 -3.2 0zM676.1 342.8a1.9 1.7 0 1 0 3.7 0a1.9 1.7 0 1 0 -3.7 0zM647.1 447.2a2.2 1.5 156 1 0 -4 1.8a2.2 1.5 156 1 0 4 -1.8zM655.1 365.9a1.8 1.5 0 1 0 3.7 0a1.8 1.5 0 1 0 -3.7 0zM708.8 457a1.3 1.3 0 1 0 2.6 0a1.3 1.3 0 1 0 -2.6 0zM718.4 446a1.6 1.4 0 1 0 3.2 0a1.6 1.4 0 1 0 -3.2 0zM711 291a1.6 1.4 0 1 0 3.2 0a1.6 1.4 0 1 0 -3.2 0zM674.8 280.3a1 .6 0 1 0 2 0a1 .6 0 1 0 -2 0zM642.2 420.8a1.5 1.2 0 1 0 3 0a1.5 1.2 0 1 0 -3 0zM724.7 360.2a1.2 .9 0 1 0 2.3 0a1.2 .9 0 1 0 -2.3 0zM737.8 257.4a1.2 1 0 1 0 2.4 0a1.2 1 0 1 0 -2.4 0zM654.2 420.3a1 .8 0 1 0 2 0a1 .8 0 1 0 -2 0zM710.8 344.4a1.2 1.1 0 1 0 2.4 0a1.2 1.1 0 1 0 -2.4 0zM740.3 431.5a1.9 1.9 0 1 0 3.9 0a1.9 1.9 0 1 0 -3.9 0zM694.7 312.8a2.1 1.4 77 1 0 1 4.2a2.1 1.4 77 1 0 -1 -4.2zM653.2 324.3a2.7 1.5 49 1 0 3.5 4a2.7 1.5 49 1 0 -3.5 -4zM695.7 440.5a2.2 1.7 74 1 0 1.2 4.3a2.2 1.7 74 1 0 -1.2 -4.3zM730.9 431.5a1.3 .7 0 1 0 2.7 0a1.3 .7 0 1 0 -2.7 0zM602 246.2a1.7 1.4 0 1 0 3.4 0a1.7 1.4 0 1 0 -3.4 0zM597.2 352.1a1 .6 0 1 0 2 0a1 .6 0 1 0 -2 0zM664.3 449.6a1.1 .7 0 1 0 2.2 0a1.1 .7 0 1 0 -2.2 0zM641.5 369.3a2.2 1.8 42 1 0 3.3 3a2.2 1.8 42 1 0 -3.3 -3zM675.9 445.2a1.2 .8 0 1 0 2.5 0a1.2 .8 0 1 0 -2.5 0zM675.5 260.4a1.1 .8 0 1 0 2.3 0a1.1 .8 0 1 0 -2.3 0zM721 333.3a3 2.3 46 1 0 4.2 4.4a3 2.3 46 1 0 -4.2 -4.4zM729.9 269a1.1 .7 0 1 0 2.1 0a1.1 .7 0 1 0 -2.1 0zM639.4 408.2a1.9 1.5 0 1 0 3.8 0a1.9 1.5 0 1 0 -3.8 0zM712.4 304a1 .8 0 1 0 2 0a1 .8 0 1 0 -2 0zM722.6 407.2a4.3 2.5 127 1 0 -5.2 6.9a4.3 2.5 127 1 0 5.2 -6.9zM602.8 387.9a2.2 1.7 74 1 0 1.2 4.3a2.2 1.7 74 1 0 -1.2 -4.3zM648.6 414.1a1.2 1.1 0 1 0 2.5 0a1.2 1.1 0 1 0 -2.5 0zM639.1 455.9a2.1 1.8 112 1 0 -1.6 3.9a2.1 1.8 112 1 0 1.6 -3.9zM714.5 410.9a2.7 2 167 1 0 -5.2 1.2a2.7 2 167 1 0 5.2 -1.2zM719.7 397.5a4.7 4.4 133 1 0 -6.5 6.9a4.7 4.4 133 1 0 6.5 -6.9zM668 359.7a2.5 1.9 149 1 0 -4.4 2.6a2.5 1.9 149 1 0 4.4 -2.6zM614.3 321.1a1 .7 0 1 0 2 0a1 .7 0 1 0 -2 0zM664.7 310.4a1.8 1.5 0 1 0 3.7 0a1.8 1.5 0 1 0 -3.7 0zM737.5 336.1a1.3 1.2 0 1 0 2.7 0a1.3 1.2 0 1 0 -2.7 0zM635.7 440.9a1.1 .7 0 1 0 2.2 0a1.1 .7 0 1 0 -2.2 0zM732.3 423.7a3.4 2.8 52 1 0 4.1 5.4a3.4 2.8 52 1 0 -4.1 -5.4zM653.3 393.9a2.5 1.5 50 1 0 3.2 3.8a2.5 1.5 50 1 0 -3.2 -3.8zM646.9 279.1a1.8 1.4 0 1 0 3.6 0a1.8 1.4 0 1 0 -3.6 0zM666.4 379.4a1 .6 0 1 0 2.1 0a1 .6 0 1 0 -2.1 0zM699.1 287.7a3.5 2.4 84 1 0 .7 6.9a3.5 2.4 84 1 0 -.7 -6.9zM646 266.6a3 2.3 44 1 0 4.3 4.2a3 2.3 44 1 0 -4.3 -4.2zM737.2 261.3a2 1.2 59 1 0 2.1 3.5a2 1.2 59 1 0 -2.1 -3.5zM651.1 248.3a1.1 .8 0 1 0 2.2 0a1.1 .8 0 1 0 -2.2 0zM673.2 364.5a2 1.8 38 1 0 3.2 2.5a2 1.8 38 1 0 -3.2 -2.5zM626.8 427.6a1.2 1 0 1 0 2.5 0a1.2 1 0 1 0 -2.5 0zM670.4 305.9a1.6 1.2 0 1 0 3.2 0a1.6 1.2 0 1 0 -3.2 0zM648.7 432.5a1.1 .7 0 1 0 2.1 0a1.1 .7 0 1 0 -2.1 0zM684.1 438.1a2.2 1.9 159 1 0 -4 1.5a2.2 1.9 159 1 0 4 -1.5zM691.7 255.5a1.5 1.1 0 1 0 3 0a1.5 1.1 0 1 0 -3 0zM632.9 364.2a2 1.9 0 1 0 4 0a2 1.9 0 1 0 -4 0zM685.5 353.1a3 2.5 118 1 0 -2.8 5.3a3 2.5 118 1 0 2.8 -5.3zM720.9 420a1.1 .9 0 1 0 2.1 0a1.1 .9 0 1 0 -2.1 0zM666.9 287.6a1 1 0 1 0 2.1 0a1 1 0 1 0 -2.1 0zM658.9 438a1.6 1.5 0 1 0 3.2 0a1.6 1.5 0 1 0 -3.2 0zM670.6 407.9a1.7 1 0 1 0 3.4 0a1.7 1 0 1 0 -3.4 0zM725.9 316.5a1.3 1.1 0 1 0 2.6 0a1.3 1.1 0 1 0 -2.6 0zM690 289.1a1 .8 0 1 0 2 0a1 .8 0 1 0 -2 0zM676.5 269a1.2 .8 0 1 0 2.3 0a1.2 .8 0 1 0 -2.3 0zM626.6 376.3a3.1 2.7 130 1 0 -4 4.7a3.1 2.7 130 1 0 4 -4.7zM649.4 446a2.9 2.6 165 1 0 -5.6 1.5a2.9 2.6 165 1 0 5.6 -1.5zM693.4 446.4a3.4 2.7 124 1 0 -3.8 5.6a3.4 2.7 124 1 0 3.8 -5.6zM683.3 278.2a1.2 1.2 0 1 0 2.5 0a1.2 1.2 0 1 0 -2.5 0zM639.2 308.6a1.2 .9 0 1 0 2.3 0a1.2 .9 0 1 0 -2.3 0zM621.7 261.4a1 .9 0 1 0 2 0a1 .9 0 1 0 -2 0zM674.8 365.3a1.1 1.1 0 1 0 2.2 0a1.1 1.1 0 1 0 -2.2 0zM619.9 379.2a1.2 .9 0 1 0 2.4 0a1.2 .9 0 1 0 -2.4 0zM626.2 379.5a4.7 3.4 118 1 0 -4.4 8.3a4.7 3.4 118 1 0 4.4 -8.3zM603.4 252a1.8 1.8 0 1 0 3.6 0a1.8 1.8 0 1 0 -3.6 0zM666.9 442.2a4.2 3 77 1 0 1.8 8.2a4.2 3 77 1 0 -1.8 -8.2zM620.6 349.9a3.5 2.8 40 1 0 5.4 4.5a3.5 2.8 40 1 0 -5.4 -4.5zM684.4 256.8a1.4 .9 0 1 0 2.8 0a1.4 .9 0 1 0 -2.8 0zM605.2 445.1a1.8 1.3 0 1 0 3.7 0a1.8 1.3 0 1 0 -3.7 0zM646 275.9a2.1 1.3 80 1 0 .7 4.2a2.1 1.3 80 1 0 -.7 -4.2zM700.1 287.4a1.7 1 0 1 0 3.4 0a1.7 1 0 1 0 -3.4 0zM633.7 394.9a1.5 1.2 0 1 0 3 0a1.5 1.2 0 1 0 -3 0zM702.1 442.7a2 1.7 14 1 0 3.9 1a2 1.7 14 1 0 -3.9 -1zM721.8 355.3a1 .9 0 1 0 2 0a1 .9 0 1 0 -2 0zM705.6 286.1a2.4 1.9 95 1 0 -.4 4.7a2.4 1.9 95 1 0 .4 -4.7zM696.6 346.6a2.2 1.5 17 1 0 4.1 1.3a2.2 1.5 17 1 0 -4.1 -1.3zM715.9 410.5a1.2 1 0 1 0 2.5 0a1.2 1 0 1 0 -2.5 0zM692.2 386.9a4 2.8 81 1 0 1.2 7.9a4 2.8 81 1 0 -1.2 -7.9zM614.2 346.7a2.2 1.3 125 1 0 -2.5 3.6a2.2 1.3 125 1 0 2.5 -3.6zM708.9 291.4a2.9 1.8 52 1 0 3.5 4.5a2.9 1.8 52 1 0 -3.5 -4.5zM716.3 320.5a1.9 1.6 0 1 0 3.8 0a1.9 1.6 0 1 0 -3.8 0zM709.3 298.2a2.6 1.8 26 1 0 4.7 2.3a2.6 1.8 26 1 0 -4.7 -2.3zM656.4 433.2a1 .6 0 1 0 2 0a1 .6 0 1 0 -2 0zM693.7 388.6a2.6 2.3 28 1 0 4.6 2.4a2.6 2.3 28 1 0 -4.6 -2.4zM669.2 405.7a2.3 1.3 178 1 0 -4.6 .2a2.3 1.3 178 1 0 4.6 -.2zM614.1 455.7a1.3 1 0 1 0 2.6 0a1.3 1 0 1 0 -2.6 0zM644.8 268.6a1 .7 0 1 0 2 0a1 .7 0 1 0 -2 0zM740.7 321.1a3.3 3.2 165 1 0 -6.4 1.7a3.3 3.2 165 1 0 6.4 -1.7zM652 270.4a2.9 2.3 107 1 0 -1.7 5.5a2.9 2.3 107 1 0 1.7 -5.5zM634.5 352.1a1.9 1.5 0 1 0 3.9 0a1.9 1.5 0 1 0 -3.9 0zM633.1 317.4a1.5 1 0 1 0 3.1 0a1.5 1 0 1 0 -3.1 0zM737.6 288.4a2.8 2.6 63 1 0 2.5 5a2.8 2.6 63 1 0 -2.5 -5zM693.3 448.4a1 .8 0 1 0 2 0a1 .8 0 1 0 -2 0zM741.9 371.1a1.2 .7 0 1 0 2.3 0a1.2 .7 0 1 0 -2.3 0zM746 440.3a1.1 .8 0 1 0 2.2 0a1.1 .8 0 1 0 -2.2 0zM626.1 304.7a2.2 2 27 1 0 4 2a2.2 2 27 1 0 -4 -2zM636.7 271.3a1.3 1.1 0 1 0 2.6 0a1.3 1.1 0 1 0 -2.6 0zM600.8 385.9a1.8 1.3 0 1 0 3.6 0a1.8 1.3 0 1 0 -3.6 0zM662.8 440a4.4 3 172 1 0 -8.8 1.2a4.4 3 172 1 0 8.8 -1.2zM712.7 309.3a1.2 1 0 1 0 2.5 0a1.2 1 0 1 0 -2.5 0zM677.2 282.8a3.2 2.1 138 1 0 -4.8 4.3a3.2 2.1 138 1 0 4.8 -4.3zM636.1 278.7a2.5 1.7 0 1 0 4.9 0a2.5 1.7 0 1 0 -4.9 -0zM653.3 449.3a1 .7 0 1 0 2 0a1 .7 0 1 0 -2 0zM674.4 431a1.5 1.2 0 1 0 2.9 0a1.5 1.2 0 1 0 -2.9 0zM734 250.2a1.3 .9 0 1 0 2.5 0a1.3 .9 0 1 0 -2.5 0zM735.4 369.2a1.9 1.4 0 1 0 3.9 0a1.9 1.4 0 1 0 -3.9 0zM619.5 340.4a2.4 2 97 1 0 -.6 4.8a2.4 2 97 1 0 .6 -4.8zM647.3 268.1a1.8 1.5 0 1 0 3.6 0a1.8 1.5 0 1 0 -3.6 0zM701.2 361.8a1.9 1.7 0 1 0 3.8 0a1.9 1.7 0 1 0 -3.8 0zM620.9 446.1a3.1 2.4 37 1 0 4.9 3.8a3.1 2.4 37 1 0 -4.9 -3.8zM714.4 424.7a1 .7 0 1 0 2.1 0a1 .7 0 1 0 -2.1 0zM603.1 437.2a3 2.5 35 1 0 4.9 3.4a3 2.5 35 1 0 -4.9 -3.4zM616.3 336.4a2.4 1.8 14 1 0 4.6 1.2a2.4 1.8 14 1 0 -4.6 -1.2zM686.8 438.4a2.2 1.4 48 1 0 2.9 3.2a2.2 1.4 48 1 0 -2.9 -3.2zM674.2 256.3a2 1.1 1 1 0 4 0a2 1.1 1 1 0 -4 -0zM716.9 443.5a2.9 2.2 136 1 0 -4.2 4.1a2.9 2.2 136 1 0 4.2 -4.1zM606.1 317.5a1.6 1 0 1 0 3.1 0a1.6 1 0 1 0 -3.1 0zM717.9 340.6a1.7 1.5 0 1 0 3.3 0a1.7 1.5 0 1 0 -3.3 0zM627.9 377.3a4.3 3.8 77 1 0 1.9 8.3a4.3 3.8 77 1 0 -1.9 -8.3zM630.9 296.3a1 .9 0 1 0 2 0a1 .9 0 1 0 -2 0zM636.6 294.1a1.6 1.2 0 1 0 3.2 0a1.6 1.2 0 1 0 -3.2 0zM644.8 308.9a1 .8 0 1 0 2 0a1 .8 0 1 0 -2 0zM662.3 349.3a1.1 1.1 0 1 0 2.3 0a1.1 1.1 0 1 0 -2.3 0zM653.9 328.2a1.2 1.1 0 1 0 2.5 0a1.2 1.1 0 1 0 -2.5 0zM688.1 365.3a2.4 1.8 83 1 0 .5 4.8a2.4 1.8 83 1 0 -.5 -4.8zM736.5 386a3.7 2.7 92 1 0 -.3 7.4a3.7 2.7 92 1 0 .3 -7.4zM713 384a2.1 1.4 120 1 0 -2.1 3.6a2.1 1.4 120 1 0 2.1 -3.6zM624.8 423a3.1 2.9 116 1 0 -2.7 5.5a3.1 2.9 116 1 0 2.7 -5.5zM599.4 300.9a1 .6 0 1 0 2 0a1 .6 0 1 0 -2 0zM598.9 420.9a4.4 3.6 106 1 0 -2.4 8.5a4.4 3.6 106 1 0 2.4 -8.5zM596.8 298.7a3.1 3.1 93 1 0 -.3 6.2a3.1 3.1 93 1 0 .3 -6.2zM669.6 363.4a1 .7 0 1 0 2 0a1 .7 0 1 0 -2 0zM741.4 313.8a1.5 1.5 0 1 0 3 0a1.5 1.5 0 1 0 -3 0zM714.8 260.4a1.4 .8 0 1 0 2.7 0a1.4 .8 0 1 0 -2.7 0zM716.5 339.7a2.9 2.8 57 1 0 3.1 4.9a2.9 2.8 57 1 0 -3.1 -4.9zM679 388.9a3.6 2.1 5 1 0 7.1 .6a3.6 2.1 5 1 0 -7.1 -.6zM675.6 251.8a1.3 .9 0 1 0 2.6 0a1.3 .9 0 1 0 -2.6 0zM674.8 263.7a2.8 2 19 1 0 5.2 1.7a2.8 2 19 1 0 -5.2 -1.7zM625.6 349.4a1 .8 0 1 0 2 0a1 .8 0 1 0 -2 0zM638.9 271.8a2 1.6 10 1 0 4 .7a2 1.6 10 1 0 -4 -.7zM651.7 334.6a1 1 0 1 0 2 0a1 1 0 1 0 -2 0zM745.3 416.7a2.7 1.9 76 1 0 1.3 5.2a2.7 1.9 76 1 0 -1.3 -5.2zM709.1 450.3a2.5 1.5 96 1 0 -.5 4.9a2.5 1.5 96 1 0 .5 -4.9zM731 310a1.4 1.2 0 1 0 2.7 0a1.4 1.2 0 1 0 -2.7 0zM607 448a3.4 2.7 83 1 0 .8 6.7a3.4 2.7 83 1 0 -.8 -6.7zM692.9 418.1a1 .7 0 1 0 2.1 0a1 .7 0 1 0 -2.1 0zM640.4 312.4a3.9 3.6 14 1 0 7.6 2a3.9 3.6 14 1 0 -7.6 -2zM639 263.1a3.3 2.5 65 1 0 2.8 6.1a3.3 2.5 65 1 0 -2.8 -6.1zM612.6 294.5a2.1 1.9 98 1 0 -.6 4.2a2.1 1.9 98 1 0 .6 -4.2zM692 389.2a1.5 1.1 0 1 0 3.1 0a1.5 1.1 0 1 0 -3.1 0zM636.9 447.6a2.8 2.3 31 1 0 4.8 2.9a2.8 2.3 31 1 0 -4.8 -2.9zM734.7 363.9a2.4 2 138 1 0 -3.6 3.2a2.4 2 138 1 0 3.6 -3.2zM618.1 306.6a1 .9 0 1 0 2 0a1 .9 0 1 0 -2 0zM615 308a1 .8 0 1 0 2 0a1 .8 0 1 0 -2 0zM598.2 288.6a1.2 .7 0 1 0 2.4 0a1.2 .7 0 1 0 -2.4 0zM673.9 242.1a1.2 .8 0 1 0 2.5 0a1.2 .8 0 1 0 -2.5 0zM631.7 431.6a1.3 1 0 1 0 2.6 0a1.3 1 0 1 0 -2.6 0zM671.9 342.5a1.6 1 0 1 0 3.2 0a1.6 1 0 1 0 -3.2 0zM703.4 430.8a2.2 2.1 15 1 0 4.3 1.2a2.2 2.1 15 1 0 -4.3 -1.2zM734 252.2a1.3 .9 0 1 0 2.6 0a1.3 .9 0 1 0 -2.6 0zM719.3 267.4a3 2.3 114 1 0 -2.4 5.5a3 2.3 114 1 0 2.4 -5.5zM627.6 338.9a3.3 1.8 169 1 0 -6.4 1.2a3.3 1.8 169 1 0 6.4 -1.2zM742.3 369.5a1.5 1.2 0 1 0 2.9 0a1.5 1.2 0 1 0 -2.9 0zM641.2 331a2 1.8 0 1 0 4 0a2 1.8 0 1 0 -4 0zM600 306.8a3.2 2.3 6 1 0 6.4 .7a3.2 2.3 6 1 0 -6.4 -.7zM611.8 419a1.2 .9 0 1 0 2.3 0a1.2 .9 0 1 0 -2.3 0zM659.2 249.4a1 .9 0 1 0 2 0a1 .9 0 1 0 -2 0zM668.1 454.6a1.8 1.5 0 1 0 3.6 0a1.8 1.5 0 1 0 -3.6 0zM712.9 423.7a1 .8 0 1 0 2.1 0a1 .8 0 1 0 -2.1 0zM724 247.8a2.8 2.6 79 1 0 1.1 5.5a2.8 2.6 79 1 0 -1.1 -5.5zM709 411.6a2.2 1.2 56 1 0 2.5 3.6a2.2 1.2 56 1 0 -2.5 -3.6zM599.6 263.5a1.3 1.1 0 1 0 2.6 0a1.3 1.1 0 1 0 -2.6 0zM725.2 429.7a1.1 .6 0 1 0 2.2 0a1.1 .6 0 1 0 -2.2 0zM655.3 433.3a4.1 3.8 25 1 0 7.5 3.4a4.1 3.8 25 1 0 -7.5 -3.4zM725.5 328.7a3.7 3.1 174 1 0 -7.4 .8a3.7 3.1 174 1 0 7.4 -.8zM613.6 324.5a3.5 2.5 87 1 0 .3 7.1a3.5 2.5 87 1 0 -.3 -7.1zM648.9 302.4a1.1 .7 0 1 0 2.2 0a1.1 .7 0 1 0 -2.2 0zM720.7 299.3a1.2 .7 0 1 0 2.4 0a1.2 .7 0 1 0 -2.4 0zM636.1 388.5a1.4 1.2 0 1 0 2.9 0a1.4 1.2 0 1 0 -2.9 0zM738.2 291.6a2.9 1.9 123 1 0 -3.2 4.9a2.9 1.9 123 1 0 3.2 -4.9zM642.3 327.6a3.4 2 130 1 0 -4.4 5.3a3.4 2 130 1 0 4.4 -5.3zM669.5 315.4a1 .7 0 1 0 2 0a1 .7 0 1 0 -2 0zM685.2 359.7a4.1 3.8 43 1 0 5.9 5.6a4.1 3.8 43 1 0 -5.9 -5.6zM621.5 447.1a1 .7 0 1 0 2 0a1 .7 0 1 0 -2 0zM604.9 441.3a2.6 2.5 120 1 0 -2.6 4.5a2.6 2.5 120 1 0 2.6 -4.5zM719.6 454.7a1.4 1.3 0 1 0 2.7 0a1.4 1.3 0 1 0 -2.7 0zM657.6 329.5a3.9 3.1 78 1 0 1.6 7.6a3.9 3.1 78 1 0 -1.6 -7.6zM696.8 242.6a2.6 2.5 81 1 0 .8 5.1a2.6 2.5 81 1 0 -.8 -5.1zM615.6 367.4a1.9 1.1 0 1 0 3.8 0a1.9 1.1 0 1 0 -3.8 0zM657.8 442.4a3.1 1.8 94 1 0 -.4 6.2a3.1 1.8 94 1 0 .4 -6.2zM730.6 421.5a4.3 3.7 102 1 0 -1.8 8.5a4.3 3.7 102 1 0 1.8 -8.5zM717.4 374.7a1 .9 0 1 0 2 0a1 .9 0 1 0 -2 0zM678.1 400.7a4.4 3.3 101 1 0 -1.7 8.7a4.4 3.3 101 1 0 1.7 -8.7zM734.1 307.1a2 1.2 118 1 0 -1.9 3.6a2 1.2 118 1 0 1.9 -3.6zM610.4 339.7a3 2.1 7 1 0 5.9 .7a3 2.1 7 1 0 -5.9 -.7zM680.1 245.8a2.8 2.7 177 1 0 -5.7 .3a2.8 2.7 177 1 0 5.7 -.3zM708.5 298.1a1 .9 0 1 0 2 0a1 .9 0 1 0 -2 0zM724.8 288.5a1.1 1.1 0 1 0 2.2 0a1.1 1.1 0 1 0 -2.2 0zM732.7 379.8a2 1.2 0 1 0 3.9 0a2 1.2 0 1 0 -3.9 0zM729.1 386a1.2 1.1 0 1 0 2.3 0a1.2 1.1 0 1 0 -2.3 0zM663.8 453a1.2 .7 0 1 0 2.3 0a1.2 .7 0 1 0 -2.3 0zM659.7 402.4a2.6 1.6 117 1 0 -2.4 4.7a2.6 1.6 117 1 0 2.4 -4.7zM687 304.1a1 .7 0 1 0 2.1 0a1 .7 0 1 0 -2.1 0zM711.1 359.8a1.3 1.2 0 1 0 2.6 0a1.3 1.2 0 1 0 -2.6 0zM647.1 418a4.3 2.9 30 1 0 7.5 4.4a4.3 2.9 30 1 0 -7.5 -4.4zM731.8 384a1.2 1.1 0 1 0 2.4 0a1.2 1.1 0 1 0 -2.4 0zM595.4 285.9a1.1 .7 0 1 0 2.3 0a1.1 .7 0 1 0 -2.3 0zM671.4 347.4a1.8 1.2 0 1 0 3.6 0a1.8 1.2 0 1 0 -3.6 0zM737.4 417.6a4.3 3.5 107 1 0 -2.5 8.2a4.3 3.5 107 1 0 2.5 -8.2zM697.9 359.6a2.1 1.6 132 1 0 -2.8 3.1a2.1 1.6 132 1 0 2.8 -3.1zM658.4 410.2a3.2 1.8 126 1 0 -3.8 5.2a3.2 1.8 126 1 0 3.8 -5.2zM657.6 247a1 .6 0 1 0 2.1 0a1 .6 0 1 0 -2.1 0zM712.6 442.2a1 .7 0 1 0 2 0a1 .7 0 1 0 -2 0zM655.7 450a1 .8 0 1 0 2.1 0a1 .8 0 1 0 -2.1 0zM715 256.8a1.3 1.2 0 1 0 2.6 0a1.3 1.2 0 1 0 -2.6 0zM714.2 302.7a2.6 1.9 127 1 0 -3.1 4.2a2.6 1.9 127 1 0 3.1 -4.2zM662.1 308.2a1.2 .7 0 1 0 2.3 0a1.2 .7 0 1 0 -2.3 0zM659.1 240.7a2.1 1.2 15 1 0 4 1.1a2.1 1.2 15 1 0 -4 -1.1zM632.2 240.1a2.6 2 49 1 0 3.4 4a2.6 2 49 1 0 -3.4 -4zM710.9 423.9a3.5 3.3 121 1 0 -3.6 6a3.5 3.3 121 1 0 3.6 -6zM699.9 321a1 1 0 1 0 2.1 0a1 1 0 1 0 -2.1 0zM667.6 385.2a1.1 .8 0 1 0 2.1 0a1.1 .8 0 1 0 -2.1 0zM598 281.5a1 .9 0 1 0 2 0a1 .9 0 1 0 -2 0zM727.8 253.7a1.1 .7 0 1 0 2.2 0a1.1 .7 0 1 0 -2.2 0zM618.3 260.7a1.3 .8 0 1 0 2.6 0a1.3 .8 0 1 0 -2.6 0zM687.7 419a4.5 4.2 124 1 0 -5.1 7.5a4.5 4.2 124 1 0 5.1 -7.5zM690.8 402.8a2.8 1.9 37 1 0 4.5 3.4a2.8 1.9 37 1 0 -4.5 -3.4zM727.9 379.7a2.1 1.9 125 1 0 -2.3 3.4a2.1 1.9 125 1 0 2.3 -3.4zM738.9 249.7a1.7 1.4 0 1 0 3.5 0a1.7 1.4 0 1 0 -3.5 0zM648.7 444.9a1.8 1.3 0 1 0 3.5 0a1.8 1.3 0 1 0 -3.5 0zM672.8 430.3a3.8 3.6 26 1 0 6.9 3.4a3.8 3.6 26 1 0 -6.9 -3.4zM595.6 328.3a1.6 1.1 0 1 0 3.1 0a1.6 1.1 0 1 0 -3.1 0zM633.8 262.7a1.6 1.5 0 1 0 3.2 0a1.6 1.5 0 1 0 -3.2 0zM627 393.8a1.1 1 0 1 0 2.2 0a1.1 1 0 1 0 -2.2 0zM669.1 381.2a4.8 3.4 31 1 0 8.2 5a4.8 3.4 31 1 0 -8.2 -5zM618.6 425.8a1.1 .6 0 1 0 2.2 0a1.1 .6 0 1 0 -2.2 0zM637.5 302.2a1.6 1 0 1 0 3.2 0a1.6 1 0 1 0 -3.2 0zM654.3 455a1.4 .8 0 1 0 2.8 0a1.4 .8 0 1 0 -2.8 0zM627 248.6a1.6 1.2 0 1 0 3.2 0a1.6 1.2 0 1 0 -3.2 0zM640.5 289.4a1.8 1.2 0 1 0 3.7 0a1.8 1.2 0 1 0 -3.7 0zM738.1 359a1.3 .9 0 1 0 2.7 0a1.3 .9 0 1 0 -2.7 0zM697.1 251.3a1.4 1.3 0 1 0 2.8 0a1.4 1.3 0 1 0 -2.8 0zM650.2 240.9a1.1 .9 0 1 0 2.1 0a1.1 .9 0 1 0 -2.1 0zM651.8 367.6a4.1 3.7 39 1 0 6.4 5.3a4.1 3.7 39 1 0 -6.4 -5.3zM648.6 291.4a2.7 2.4 120 1 0 -2.7 4.7a2.7 2.4 120 1 0 2.7 -4.7zM685.3 442.7a4.4 3.2 82 1 0 1.2 8.6a4.4 3.2 82 1 0 -1.2 -8.6zM717.8 247.4a1.8 1.2 0 1 0 3.6 0a1.8 1.2 0 1 0 -3.6 0zM666.6 445.8a1.1 .8 0 1 0 2.1 0a1.1 .8 0 1 0 -2.1 0zM646.8 296.4a1 .7 0 1 0 2 0a1 .7 0 1 0 -2 0zM718.9 427a1 1 0 1 0 2 0a1 1 0 1 0 -2 0zM653.6 247.1a1.1 .9 0 1 0 2.3 0a1.1 .9 0 1 0 -2.3 0zM725.1 252.1a1 .6 0 1 0 2 0a1 .6 0 1 0 -2 0zM619.8 257.6a2.5 1.9 96 1 0 -.5 5a2.5 1.9 96 1 0 .5 -5zM680.9 423.2a1.5 1 0 1 0 3 0a1.5 1 0 1 0 -3 0zM696 379.6a1.6 1 0 1 0 3.2 0a1.6 1 0 1 0 -3.2 0zM742.2 377.2a2.1 1.6 168 1 0 -4.2 .9a2.1 1.6 168 1 0 4.2 -.9zM681.4 387.8a1 .7 0 1 0 2 0a1 .7 0 1 0 -2 0zM616.1 308a1 .6 0 1 0 2 0a1 .6 0 1 0 -2 0zM646.7 382.8a1.9 1.1 0 1 0 3.7 0a1.9 1.1 0 1 0 -3.7 0zM614.3 393.6a1.1 .9 0 1 0 2.2 0a1.1 .9 0 1 0 -2.2 0zM738.5 286.4a1.3 .8 0 1 0 2.6 0a1.3 .8 0 1 0 -2.6 0zM638.5 248.6a1 .6 0 1 0 2 0a1 .6 0 1 0 -2 0zM647.8 334.4a1.6 1.2 0 1 0 3.3 0a1.6 1.2 0 1 0 -3.3 0zM674.9 257.1a1 .7 0 1 0 2 0a1 .7 0 1 0 -2 0zM679 373.7a3.6 3.5 11 1 0 7 1.3a3.6 3.5 11 1 0 -7 -1.3zM637.8 286.3a1 .9 0 1 0 2.1 0a1 .9 0 1 0 -2.1 0zM707.4 247.7a1.5 1.1 0 1 0 2.9 0a1.5 1.1 0 1 0 -2.9 0zM690.2 386.7a3.6 3.3 9 1 0 7.1 1.1a3.6 3.3 9 1 0 -7.1 -1.1zM730 261.7a2.5 1.9 84 1 0 .5 5a2.5 1.9 84 1 0 -.5 -5zM730.3 317.5a2.2 1.7 174 1 0 -4.3 .4a2.2 1.7 174 1 0 4.3 -.4zM735.3 421a1.6 1.6 0 1 0 3.2 0a1.6 1.6 0 1 0 -3.2 0zM600.8 399a1.1 .9 0 1 0 2.2 0a1.1 .9 0 1 0 -2.2 0zM671.9 245.4a2.3 2.2 31 1 0 3.9 2.3a2.3 2.2 31 1 0 -3.9 -2.3zM603.2 246.3a1.4 .8 0 1 0 2.8 0a1.4 .8 0 1 0 -2.8 0zM683.8 310a3.2 2.6 158 1 0 -5.9 2.4a3.2 2.6 158 1 0 5.9 -2.4zM654.5 419a1.1 .8 0 1 0 2.2 0a1.1 .8 0 1 0 -2.2 0zM642.6 280.3a3.3 2.5 131 1 0 -4.3 5a3.3 2.5 131 1 0 4.3 -5zM744.6 289.1a1.5 1.3 0 1 0 3 0a1.5 1.3 0 1 0 -3 0zM733 455.3a1.2 .9 0 1 0 2.3 0a1.2 .9 0 1 0 -2.3 0zM633.3 281.8a1 .9 0 1 0 2.1 0a1 .9 0 1 0 -2.1 0zM674.8 242.3a3 2.3 64 1 0 2.6 5.5a3 2.3 64 1 0 -2.6 -5.5zM696.9 382.7a2 1.6 3 1 0 4.1 .2a2 1.6 3 1 0 -4.1 -.2zM674.3 385.2a3.1 1.7 71 1 0 2 5.8a3.1 1.7 71 1 0 -2 -5.8zM648.5 429.3a2.2 1.9 128 1 0 -2.7 3.5a2.2 1.9 128 1 0 2.7 -3.5zM637.9 336.5a1 1 0 1 0 2 0a1 1 0 1 0 -2 0zM728.7 375.3a2.2 2.2 86 1 0 .3 4.5a2.2 2.2 86 1 0 -.3 -4.5zM707.6 324.1a1.1 .9 0 1 0 2.2 0a1.1 .9 0 1 0 -2.2 0zM633.3 437.6a1.2 .7 0 1 0 2.4 0a1.2 .7 0 1 0 -2.4 0zM729.6 445.2a2.3 2.2 85 1 0 .4 4.5a2.3 2.2 85 1 0 -.4 -4.5zM711.9 280.3a1.1 1 0 1 0 2.2 0a1.1 1 0 1 0 -2.2 0zM619.4 411.5a3.4 2.7 11 1 0 6.6 1.3a3.4 2.7 11 1 0 -6.6 -1.3zM634.2 339.1a3.3 2.8 46 1 0 4.6 4.8a3.3 2.8 46 1 0 -4.6 -4.8zM607.5 239.2a2.9 2.5 149 1 0 -4.9 3a2.9 2.5 149 1 0 4.9 -3zM614.3 451.6a1.1 .9 0 1 0 2.2 0a1.1 .9 0 1 0 -2.2 0zM612.6 331.8a1.1 .9 0 1 0 2.2 0a1.1 .9 0 1 0 -2.2 0zM721 270.2a1.4 .8 0 1 0 2.8 0a1.4 .8 0 1 0 -2.8 0zM734.2 400.2a1.2 .8 0 1 0 2.3 0a1.2 .8 0 1 0 -2.3 0zM690.4 449.2a3.1 2.3 26 1 0 5.6 2.7a3.1 2.3 26 1 0 -5.6 -2.7zM718.3 426.8a1 .7 0 1 0 2 0a1 .7 0 1 0 -2 0zM711.1 448.3a1 .8 0 1 0 2 0a1 .8 0 1 0 -2 0zM712.2 402.2a1 .7 0 1 0 2 0a1 .7 0 1 0 -2 0zM634.8 314.3a1.5 1.2 0 1 0 3 0a1.5 1.2 0 1 0 -3 0zM697.7 346.1a1.6 1.2 0 1 0 3.1 0a1.6 1.2 0 1 0 -3.1 0zM603.8 401.3a1.3 1.3 0 1 0 2.5 0a1.3 1.3 0 1 0 -2.5 0zM656.3 388.6a2.8 2.2 100 1 0 -.9 5.5a2.8 2.2 100 1 0 .9 -5.5zM608.4 280.1a2.5 1.8 153 1 0 -4.5 2.4a2.5 1.8 153 1 0 4.5 -2.4zM669.8 340.7a3.9 3.1 75 1 0 2 7.5a3.9 3.1 75 1 0 -2 -7.5zM694.2 255.8a1.1 .9 0 1 0 2.2 0a1.1 .9 0 1 0 -2.2 0zM649.5 441.2a3 2.8 67 1 0 2.3 5.6a3 2.8 67 1 0 -2.3 -5.6zM691.5 415.6a1.1 .7 0 1 0 2.1 0a1.1 .7 0 1 0 -2.1 0zM681 334.2a1.1 .7 0 1 0 2.1 0a1.1 .7 0 1 0 -2.1 0zM655.4 365.8a1.5 .9 0 1 0 3.1 0a1.5 .9 0 1 0 -3.1 0zM743.7 282.5a2.4 1.7 155 1 0 -4.3 2a2.4 1.7 155 1 0 4.3 -2zM679.8 432.3a2.8 1.8 176 1 0 -5.5 .4a2.8 1.8 176 1 0 5.5 -.4zM641.5 279.6a3.6 2.4 83 1 0 .9 7.2a3.6 2.4 83 1 0 -.9 -7.2zM667.7 431.8a1.7 1.5 0 1 0 3.3 0a1.7 1.5 0 1 0 -3.3 0zM616.8 251.3a1 .7 0 1 0 2 0a1 .7 0 1 0 -2 0zM655.3 293.2a3.3 2.8 2 1 0 6.6 .2a3.3 2.8 2 1 0 -6.6 -.2zM633.5 424.5a2.3 1.6 65 1 0 2 4.2a2.3 1.6 65 1 0 -2 -4.2zM653.8 240.9a2.1 2 167 1 0 -4.1 1a2.1 2 167 1 0 4.1 -1zM719.7 306.3a1.1 .7 0 1 0 2.2 0a1.1 .7 0 1 0 -2.2 0zM618.3 266.2a1.5 1 0 1 0 3 0a1.5 1 0 1 0 -3 0zM625.6 397.1a2.4 2.2 158 1 0 -4.5 1.8a2.4 2.2 158 1 0 4.5 -1.8zM659.2 434.5a3.7 2.1 29 1 0 6.5 3.7a3.7 2.1 29 1 0 -6.5 -3.7zM618.8 438.8a3.8 2.2 111 1 0 -2.8 7.1a3.8 2.2 111 1 0 2.8 -7.1zM619.6 309.3a1 .8 0 1 0 2 0a1 .8 0 1 0 -2 0zM736.3 337.6a1.5 1.1 0 1 0 3 0a1.5 1.1 0 1 0 -3 0zM737.2 386.8a1.2 .9 0 1 0 2.3 0a1.2 .9 0 1 0 -2.3 0zM604.1 331.4a1.4 .8 0 1 0 2.9 0a1.4 .8 0 1 0 -2.9 0zM647.6 251.8a1.1 1 0 1 0 2.1 0a1.1 1 0 1 0 -2.1 0zM735.6 342.8a1.1 .7 0 1 0 2.3 0a1.1 .7 0 1 0 -2.3 0zM613.2 440.1a1.3 .9 0 1 0 2.6 0a1.3 .9 0 1 0 -2.6 0zM737 396.1a1.7 1 0 1 0 3.3 0a1.7 1 0 1 0 -3.3 0zM711.4 282.4a1.3 1 0 1 0 2.7 0a1.3 1 0 1 0 -2.7 0zM737.3 317.8a1 .8 0 1 0 2 0a1 .8 0 1 0 -2 0zM603.4 372.5a1.9 1.7 0 1 0 3.8 0a1.9 1.7 0 1 0 -3.8 0zM729.7 339.8a2.3 2.2 94 1 0 -.4 4.6a2.3 2.2 94 1 0 .4 -4.6zM709 312.1a3.9 3.1 110 1 0 -2.6 7.3a3.9 3.1 110 1 0 2.6 -7.3zM740.5 261.5a2.7 1.5 27 1 0 4.8 2.5a2.7 1.5 27 1 0 -4.8 -2.5zM604.9 375.4a1 .6 0 1 0 2 0a1 .6 0 1 0 -2 0zM685.4 432.3a1.3 .8 0 1 0 2.7 0a1.3 .8 0 1 0 -2.7 0zM725 282.5a1.2 .8 0 1 0 2.4 0a1.2 .8 0 1 0 -2.4 0zM702.4 259.7a1 .7 0 1 0 2 0a1 .7 0 1 0 -2 0zM738.6 442.3a1 .6 0 1 0 2 0a1 .6 0 1 0 -2 0zM664.8 251.4a1.8 1.5 0 1 0 3.6 0a1.8 1.5 0 1 0 -3.6 0zM732 300.9a1.6 1 0 1 0 3.2 0a1.6 1 0 1 0 -3.2 0zM680.1 251.2a1.1 1 0 1 0 2.2 0a1.1 1 0 1 0 -2.2 0zM738.2 299.4a2.1 1.9 88 1 0 .2 4.3a2.1 1.9 88 1 0 -.2 -4.3zM676.3 419.7a1.8 1.2 0 1 0 3.7 0a1.8 1.2 0 1 0 -3.7 0zM673.3 342.8a1.3 1.2 0 1 0 2.5 0a1.3 1.2 0 1 0 -2.5 0zM725.2 452a1.4 .9 0 1 0 2.8 0a1.4 .9 0 1 0 -2.8 0zM697.5 374.1a1.2 .9 0 1 0 2.4 0a1.2 .9 0 1 0 -2.4 0zM736.3 259.2a1.2 1 0 1 0 2.4 0a1.2 1 0 1 0 -2.4 0zM614.6 433.2a2.7 2.3 10 1 0 5.3 1a2.7 2.3 10 1 0 -5.3 -1zM736 445.4a1.6 1.5 0 1 0 3.1 0a1.6 1.5 0 1 0 -3.1 0z" fill="#aeaca6"/>
<path d="M666 453.7a1.5 .8 0 1 0 2.9 0a1.5 .8 0 1 0 -2.9 0zM682.2 398.3a4 3.5 143 1 0 -6.3 4.8a4 3.5 143 1 0 6.3 -4.8zM615.6 250.2a1.8 1.3 0 1 0 3.5 0a1.8 1.3 0 1 0 -3.5 0zM639.1 313.8a2.3 1.8 136 1 0 -3.4 3.2a2.3 1.8 136 1 0 3.4 -3.2zM726.2 411.1a4.3 3.3 37 1 0 6.9 5.2a4.3 3.3 37 1 0 -6.9 -5.2zM628.4 354.8a1.2 1.1 0 1 0 2.4 0a1.2 1.1 0 1 0 -2.4 0zM675.4 274.8a1.1 .9 0 1 0 2.1 0a1.1 .9 0 1 0 -2.1 0zM656.2 389.4a1 .6 0 1 0 2 0a1 .6 0 1 0 -2 0zM731 412.2a2.7 2.5 73 1 0 1.6 5.2a2.7 2.5 73 1 0 -1.6 -5.2zM646.9 342.2a1 .7 0 1 0 2 0a1 .7 0 1 0 -2 0zM681.2 356.2a1.4 1.4 0 1 0 2.8 0a1.4 1.4 0 1 0 -2.8 0zM705.7 402.7a4.6 2.6 133 1 0 -6.3 6.8a4.6 2.6 133 1 0 6.3 -6.8zM674.7 370.3a1.4 .9 0 1 0 2.7 0a1.4 .9 0 1 0 -2.7 0zM663.2 296.2a2.7 1.9 178 1 0 -5.4 .2a2.7 1.9 178 1 0 5.4 -.2zM607.8 378.2a1 .9 0 1 0 2.1 0a1 .9 0 1 0 -2.1 0zM702.1 439.5a1.5 1.4 0 1 0 3 0a1.5 1.4 0 1 0 -3 0zM647.9 296.5a3 2.4 179 1 0 -6.1 .1a3 2.4 179 1 0 6.1 -.1zM651.8 340.5a4.1 3.8 2 1 0 8.2 .3a4.1 3.8 2 1 0 -8.2 -.3zM595.6 453.6a3.3 2.1 52 1 0 4 5.2a3.3 2.1 52 1 0 -4 -5.2zM677.7 316.9a1.6 1 0 1 0 3.2 0a1.6 1 0 1 0 -3.2 0zM747.7 443a2.5 1.7 133 1 0 -3.3 3.6a2.5 1.7 133 1 0 3.3 -3.6zM662.5 349.6a1.4 .8 0 1 0 2.8 0a1.4 .8 0 1 0 -2.8 0zM735.5 429a2.7 1.7 169 1 0 -5.4 1.1a2.7 1.7 169 1 0 5.4 -1.1zM662.6 257.2a1.1 .7 0 1 0 2.1 0a1.1 .7 0 1 0 -2.1 0zM683.2 348.8a1 .8 0 1 0 2 0a1 .8 0 1 0 -2 0zM617.2 307.8a1 .7 0 1 0 2 0a1 .7 0 1 0 -2 0zM641.7 332.4a1.8 1.1 0 1 0 3.6 0a1.8 1.1 0 1 0 -3.6 0zM618.5 327.7a1.6 1 0 1 0 3.2 0a1.6 1 0 1 0 -3.2 0zM648.6 312.9a3.3 2.3 125 1 0 -3.8 5.4a3.3 2.3 125 1 0 3.8 -5.4zM700.3 446.7a3.4 2.1 88 1 0 .2 6.9a3.4 2.1 88 1 0 -.2 -6.9zM614.1 253.8a1 .6 0 1 0 2 0a1 .6 0 1 0 -2 0zM690.6 402.3a4.6 3.4 98 1 0 -1.3 9.2a4.6 3.4 98 1 0 1.3 -9.2zM654.6 252.6a1.6 1.3 0 1 0 3.1 0a1.6 1.3 0 1 0 -3.1 0zM706.7 284.8a2.3 1.9 32 1 0 4 2.5a2.3 1.9 32 1 0 -4 -2.5zM685.5 364.9a1.8 1 0 1 0 3.6 0a1.8 1 0 1 0 -3.6 0zM672.8 456.6a1 .9 0 1 0 2 0a1 .9 0 1 0 -2 0zM660.3 243.4a1.2 .8 0 1 0 2.4 0a1.2 .8 0 1 0 -2.4 0zM640.8 332.7a4 2.7 121 1 0 -4.1 6.8a4 2.7 121 1 0 4.1 -6.8zM651.9 383.1a4.2 3.2 70 1 0 2.9 7.9a4.2 3.2 70 1 0 -2.9 -7.9zM630.3 447.1a1 1 0 1 0 2 0a1 1 0 1 0 -2 0zM743.2 306.8a3.1 1.8 12 1 0 6.1 1.3a3.1 1.8 12 1 0 -6.1 -1.3zM680.2 269.4a1.2 .8 0 1 0 2.3 0a1.2 .8 0 1 0 -2.3 0zM599.8 344.9a2 1.7 110 1 0 -1.4 3.8a2 1.7 110 1 0 1.4 -3.8zM703.5 446.1a1.1 .7 0 1 0 2.2 0a1.1 .7 0 1 0 -2.2 0zM712.4 372.3a4 3.9 12 1 0 7.9 1.6a4 3.9 12 1 0 -7.9 -1.6zM601.4 273.5a2.5 1.6 140 1 0 -3.8 3.2a2.5 1.6 140 1 0 3.8 -3.2zM667 449.1a1 .8 0 1 0 2.1 0a1 .8 0 1 0 -2.1 0zM603 272.8a1.6 1.1 0 1 0 3.3 0a1.6 1.1 0 1 0 -3.3 0zM706.1 307a2.6 2.2 82 1 0 .7 5.2a2.6 2.2 82 1 0 -.7 -5.2zM692.7 387.6a2.2 1.3 23 1 0 4.1 1.8a2.2 1.3 23 1 0 -4.1 -1.8zM709.8 302.5a2.4 2.3 120 1 0 -2.4 4.1a2.4 2.3 120 1 0 2.4 -4.1zM669.4 276.4a1.9 1.8 0 1 0 3.7 0a1.9 1.8 0 1 0 -3.7 0zM710.2 256.4a1.1 1 0 1 0 2.3 0a1.1 1 0 1 0 -2.3 0zM715.5 401.1a1.2 .9 0 1 0 2.4 0a1.2 .9 0 1 0 -2.4 0zM602.4 415.5a3.7 2.4 126 1 0 -4.3 6a3.7 2.4 126 1 0 4.3 -6zM660.2 332.4a3.1 3 31 1 0 5.4 3.2a3.1 3 31 1 0 -5.4 -3.2zM730.8 402.1a2.3 1.9 90 1 0 -0 4.6a2.3 1.9 90 1 0 0 -4.6zM645.8 293.9a2.8 1.8 111 1 0 -2 5.3a2.8 1.8 111 1 0 2 -5.3zM671.6 324.6a1.6 .9 0 1 0 3.1 0a1.6 .9 0 1 0 -3.1 0zM688.5 433.4a4.8 4.4 173 1 0 -9.5 1.2a4.8 4.4 173 1 0 9.5 -1.2zM654.2 307a2.5 1.9 27 1 0 4.4 2.3a2.5 1.9 27 1 0 -4.4 -2.3zM732.4 360.6a2 1.9 175 1 0 -4.1 .3a2 1.9 175 1 0 4.1 -.3zM616.9 410.1a1 .6 0 1 0 2 0a1 .6 0 1 0 -2 0zM664.2 304.9a3.4 2.2 13 1 0 6.6 1.6a3.4 2.2 13 1 0 -6.6 -1.6zM693.1 321.6a1.4 1 0 1 0 2.8 0a1.4 1 0 1 0 -2.8 0zM652.3 315.3a3.1 2.8 152 1 0 -5.4 2.9a3.1 2.8 152 1 0 5.4 -2.9zM666.8 267.8a1.2 .8 0 1 0 2.4 0a1.2 .8 0 1 0 -2.4 0zM655.6 363.2a1.2 .7 0 1 0 2.4 0a1.2 .7 0 1 0 -2.4 0zM719.5 427.1a1 .9 0 1 0 2 0a1 .9 0 1 0 -2 0zM736.7 267.1a1.4 .9 0 1 0 2.8 0a1.4 .9 0 1 0 -2.8 0zM672.5 430.7a4.7 3.5 120 1 0 -4.7 8.2a4.7 3.5 120 1 0 4.7 -8.2zM716.9 340.8a1.1 .8 0 1 0 2.2 0a1.1 .8 0 1 0 -2.2 0zM717.9 455.8a1.6 .9 0 1 0 3.3 0a1.6 .9 0 1 0 -3.3 0zM647.9 456.3a1.4 1 0 1 0 2.9 0a1.4 1 0 1 0 -2.9 0zM635.4 453.8a1.4 .8 0 1 0 2.8 0a1.4 .8 0 1 0 -2.8 0zM700.9 248.5a1.5 1.5 0 1 0 3 0a1.5 1.5 0 1 0 -3 0zM692.6 269.8a1 .8 0 1 0 2 0a1 .8 0 1 0 -2 0zM635.9 422.7a2.1 1.8 9 1 0 4.2 .6a2.1 1.8 9 1 0 -4.2 -.6zM617.8 243.3a1.6 1.1 0 1 0 3.2 0a1.6 1.1 0 1 0 -3.2 0zM673.7 277.5a1.9 1.6 0 1 0 3.9 0a1.9 1.6 0 1 0 -3.9 0zM667.8 373.5a1.2 .9 0 1 0 2.5 0a1.2 .9 0 1 0 -2.5 0zM629.1 397.8a2.1 2.1 99 1 0 -.6 4.2a2.1 2.1 99 1 0 .6 -4.2zM647.9 274.6a2.9 1.8 31 1 0 5.1 3a2.9 1.8 31 1 0 -5.1 -3zM602.6 308.7a1.6 1.6 0 1 0 3.1 0a1.6 1.6 0 1 0 -3.1 0zM625.1 347.8a2.5 1.6 105 1 0 -1.3 4.8a2.5 1.6 105 1 0 1.3 -4.8zM654.8 267.1a1.9 1.9 0 1 0 3.9 0a1.9 1.9 0 1 0 -3.9 0zM686 338.2a2.2 1.8 74 1 0 1.2 4.2a2.2 1.8 74 1 0 -1.2 -4.2zM699.7 360.4a1.1 .7 0 1 0 2.3 0a1.1 .7 0 1 0 -2.3 0zM704.7 451.8a1.6 1.2 0 1 0 3.2 0a1.6 1.2 0 1 0 -3.2 0zM728.7 254.9a1.1 1.1 0 1 0 2.3 0a1.1 1.1 0 1 0 -2.3 0zM650.7 346.7a3.2 2.2 25 1 0 5.7 2.7a3.2 2.2 25 1 0 -5.7 -2.7zM633.4 252.8a1.6 1.3 0 1 0 3.3 0a1.6 1.3 0 1 0 -3.3 0zM638.3 359.9a2.1 2.1 8 1 0 4.2 .6a2.1 2.1 8 1 0 -4.2 -.6zM738.4 341.9a1.1 1 0 1 0 2.2 0a1.1 1 0 1 0 -2.2 0zM656.3 258a2.4 1.7 77 1 0 1.1 4.7a2.4 1.7 77 1 0 -1.1 -4.7zM740.4 316a1.1 .9 0 1 0 2.2 0a1.1 .9 0 1 0 -2.2 0zM705.7 371.1a1.7 1.1 0 1 0 3.4 0a1.7 1.1 0 1 0 -3.4 0zM677 398.8a3.7 2.9 14 1 0 7.2 1.8a3.7 2.9 14 1 0 -7.2 -1.8zM739.1 332.3a1.5 1.5 0 1 0 3.1 0a1.5 1.5 0 1 0 -3.1 0zM611.6 248.4a1.3 1.2 0 1 0 2.6 0a1.3 1.2 0 1 0 -2.6 0zM628.9 256.3a2.5 2.4 37 1 0 4 3.1a2.5 2.4 37 1 0 -4 -3.1zM618.3 345.3a1.3 1.1 0 1 0 2.7 0a1.3 1.1 0 1 0 -2.7 0zM676 286.4a1.8 1.2 0 1 0 3.5 0a1.8 1.2 0 1 0 -3.5 0zM728.2 449.1a1 1 0 1 0 2.1 0a1 1 0 1 0 -2.1 0zM709.2 386.5a4.1 3.4 99 1 0 -1.3 8.2a4.1 3.4 99 1 0 1.3 -8.2zM654.6 388.2a1.7 1 0 1 0 3.3 0a1.7 1 0 1 0 -3.3 0zM742.2 260a1.8 1.5 0 1 0 3.5 0a1.8 1.5 0 1 0 -3.5 0zM660.9 258.6a1.6 1 0 1 0 3.2 0a1.6 1 0 1 0 -3.2 0zM602.1 407.3a2.8 1.7 23 1 0 5.1 2.2a2.8 1.7 23 1 0 -5.1 -2.2zM631.1 297.5a1.1 1 0 1 0 2.1 0a1.1 1 0 1 0 -2.1 0zM661.7 288.1a1.1 1.1 0 1 0 2.2 0a1.1 1.1 0 1 0 -2.2 0zM705 314.9a3.9 3.8 41 1 0 5.9 5.1a3.9 3.8 41 1 0 -5.9 -5.1zM627.7 242.3a2.7 2.4 60 1 0 2.7 4.6a2.7 2.4 60 1 0 -2.7 -4.6zM661.6 417.1a1 .9 0 1 0 2 0a1 .9 0 1 0 -2 0zM689.5 262.3a1.2 .9 0 1 0 2.3 0a1.2 .9 0 1 0 -2.3 0zM638.4 319.4a3.9 3.8 113 1 0 -3.1 7.2a3.9 3.8 113 1 0 3.1 -7.2zM646.9 259.8a1.2 .8 0 1 0 2.4 0a1.2 .8 0 1 0 -2.4 0zM654.1 299.9a1.2 .8 0 1 0 2.3 0a1.2 .8 0 1 0 -2.3 0zM681.6 245.5a1.3 1.3 0 1 0 2.7 0a1.3 1.3 0 1 0 -2.7 0zM672.1 442.4a3 2 157 1 0 -5.5 2.4a3 2 157 1 0 5.5 -2.4zM670.5 447.6a1.8 1.5 0 1 0 3.6 0a1.8 1.5 0 1 0 -3.6 0zM690 278.8a1.7 1.3 0 1 0 3.4 0a1.7 1.3 0 1 0 -3.4 0zM676.4 372.8a3.1 2.7 149 1 0 -5.3 3.2a3.1 2.7 149 1 0 5.3 -3.2zM724.8 444.8a1 .8 0 1 0 2.1 0a1 .8 0 1 0 -2.1 0zM634.1 304.3a1.6 .9 0 1 0 3.3 0a1.6 .9 0 1 0 -3.3 0zM675.7 412.3a1.3 1.2 0 1 0 2.5 0a1.3 1.2 0 1 0 -2.5 0zM603.5 430a2.6 1.7 65 1 0 2.2 4.7a2.6 1.7 65 1 0 -2.2 -4.7zM740.2 451.1a2.6 1.6 84 1 0 .5 5.1a2.6 1.6 84 1 0 -.5 -5.1zM696.4 428.7a1.5 1.3 0 1 0 3 0a1.5 1.3 0 1 0 -3 0zM650.5 256.6a1.4 1.3 0 1 0 2.7 0a1.4 1.3 0 1 0 -2.7 0zM669.7 440.3a2 1.4 90 1 0 -0 4.1a2 1.4 90 1 0 0 -4.1zM679 387.7a2.8 1.8 30 1 0 4.8 2.8a2.8 1.8 30 1 0 -4.8 -2.8zM671 247a1.1 .7 0 1 0 2.2 0a1.1 .7 0 1 0 -2.2 0zM618.4 278.6a1 .9 0 1 0 2.1 0a1 .9 0 1 0 -2.1 0zM614.3 273.4a1.9 1.3 0 1 0 3.7 0a1.9 1.3 0 1 0 -3.7 0zM620.7 342.7a1.8 1.1 0 1 0 3.5 0a1.8 1.1 0 1 0 -3.5 0zM636.2 300.8a1 .9 0 1 0 2 0a1 .9 0 1 0 -2 0zM635.1 287.7a3.7 2.9 44 1 0 5.3 5.1a3.7 2.9 44 1 0 -5.3 -5.1zM630.9 381.2a4.5 2.7 122 1 0 -4.7 7.6a4.5 2.7 122 1 0 4.7 -7.6zM625.2 253.7a2 1.4 0 1 0 3.9 0a2 1.4 0 1 0 -3.9 0zM610.4 419.9a3.9 2.5 117 1 0 -3.5 7a3.9 2.5 117 1 0 3.5 -7zM704.1 325.1a1.3 .8 0 1 0 2.7 0a1.3 .8 0 1 0 -2.7 0zM694.7 385a2.3 1.8 1 1 0 4.5 .1a2.3 1.8 1 1 0 -4.5 -.1zM596.8 442.8a2.2 2.2 65 1 0 1.9 4a2.2 2.2 65 1 0 -1.9 -4zM629.8 415.6a1.7 1.4 0 1 0 3.4 0a1.7 1.4 0 1 0 -3.4 0zM743.4 282.9a1.2 1 0 1 0 2.4 0a1.2 1 0 1 0 -2.4 0zM727.4 361.2a4 2.9 4 1 0 7.9 .6a4 2.9 4 1 0 -7.9 -.6zM637.3 240.4a1.8 1.7 0 1 0 3.6 0a1.8 1.7 0 1 0 -3.6 0zM715.9 359.1a1.5 1.2 0 1 0 3.1 0a1.5 1.2 0 1 0 -3.1 0zM718.8 386.3a1.3 .7 0 1 0 2.5 0a1.3 .7 0 1 0 -2.5 0zM690.3 315.6a1.1 .7 0 1 0 2.2 0a1.1 .7 0 1 0 -2.2 0zM626.2 399.9a1.1 .7 0 1 0 2.3 0a1.1 .7 0 1 0 -2.3 0zM681.2 355.3a3.4 1.9 13 1 0 6.5 1.5a3.4 1.9 13 1 0 -6.5 -1.5zM733.5 244.7a1 .8 0 1 0 2.1 0a1 .8 0 1 0 -2.1 0zM611.6 411.9a1.6 1.2 0 1 0 3.2 0a1.6 1.2 0 1 0 -3.2 0zM664.7 372.4a1.2 1.1 0 1 0 2.3 0a1.2 1.1 0 1 0 -2.3 0zM741.6 380.9a1.8 1 0 1 0 3.5 0a1.8 1 0 1 0 -3.5 0zM629.1 335.4a1 .7 0 1 0 2.1 0a1 .7 0 1 0 -2.1 0zM732.9 254.1a1.2 1.1 0 1 0 2.4 0a1.2 1.1 0 1 0 -2.4 0zM669.7 367.6a2.6 1.6 148 1 0 -4.4 2.7a2.6 1.6 148 1 0 4.4 -2.7zM681.1 407.8a3.7 3.6 97 1 0 -.9 7.3a3.7 3.6 97 1 0 .9 -7.3zM715.2 443a1 .9 0 1 0 2 0a1 .9 0 1 0 -2 0zM706.9 266.6a1.4 .9 0 1 0 2.8 0a1.4 .9 0 1 0 -2.8 0zM659.1 314.6a2.1 1.6 79 1 0 .8 4.2a2.1 1.6 79 1 0 -.8 -4.2zM606.2 457.7a1 1 0 1 0 2 0a1 1 0 1 0 -2 0zM631.4 356.2a1.1 .7 0 1 0 2.2 0a1.1 .7 0 1 0 -2.2 0zM729.4 303.7a1 .8 0 1 0 2 0a1 .8 0 1 0 -2 0zM691.6 445a1 .7 0 1 0 2 0a1 .7 0 1 0 -2 0zM648.7 261.4a1.8 1.1 0 1 0 3.6 0a1.8 1.1 0 1 0 -3.6 0zM733.2 414.7a1 .9 0 1 0 2 0a1 .9 0 1 0 -2 0zM675.5 289.2a1.7 1.2 0 1 0 3.5 0a1.7 1.2 0 1 0 -3.5 0zM691.4 251.9a1.3 .7 0 1 0 2.6 0a1.3 .7 0 1 0 -2.6 0zM664.1 293.8a1 .6 0 1 0 2.1 0a1 .6 0 1 0 -2.1 0zM658.3 415.6a1.5 1.2 0 1 0 3.1 0a1.5 1.2 0 1 0 -3.1 0zM748 423.6a3.1 2.6 157 1 0 -5.8 2.5a3.1 2.6 157 1 0 5.8 -2.5zM738.3 259a2.4 2 2 1 0 4.8 .2a2.4 2 2 1 0 -4.8 -.2zM657.1 246.6a2.9 2.9 107 1 0 -1.7 5.6a2.9 2.9 107 1 0 1.7 -5.6zM705.8 310.3a3.9 2.7 66 1 0 3.2 7.1a3.9 2.7 66 1 0 -3.2 -7.1zM601.5 357.1a2 1.7 9 1 0 4 .6a2 1.7 9 1 0 -4 -.6zM616.4 354.9a4 2.8 147 1 0 -6.8 4.4a4 2.8 147 1 0 6.8 -4.4zM736.3 261.5a1.8 1.7 0 1 0 3.6 0a1.8 1.7 0 1 0 -3.6 0zM665.8 393.6a1 .8 0 1 0 2 0a1 .8 0 1 0 -2 0zM734.6 255.2a1.1 .9 0 1 0 2.1 0a1.1 .9 0 1 0 -2.1 0zM709.8 434.9a1 .8 0 1 0 2.1 0a1 .8 0 1 0 -2.1 0zM714.5 314.4a2.1 1.5 178 1 0 -4.1 .2a2.1 1.5 178 1 0 4.1 -.2zM738.2 257a1.4 .9 0 1 0 2.7 0a1.4 .9 0 1 0 -2.7 0zM634 454.3a1.1 .8 0 1 0 2.2 0a1.1 .8 0 1 0 -2.2 0zM711.7 246.8a1.5 1 0 1 0 3 0a1.5 1 0 1 0 -3 0zM699.8 290.9a2 1.3 2 1 0 4.1 .1a2 1.3 2 1 0 -4.1 -.1zM628.4 241.1a1.4 1.1 0 1 0 2.9 0a1.4 1.1 0 1 0 -2.9 0zM726.5 433.3a4.4 3.9 91 1 0 -.1 8.9a4.4 3.9 91 1 0 .1 -8.9zM636.8 307a3.5 2.7 111 1 0 -2.5 6.6a3.5 2.7 111 1 0 2.5 -6.6zM597.4 258.3a2.4 1.8 33 1 0 4 2.6a2.4 1.8 33 1 0 -4 -2.6zM738.2 420.6a4.2 2.9 140 1 0 -6.5 5.4a4.2 2.9 140 1 0 6.5 -5.4zM682.9 320.1a2.3 1.5 51 1 0 2.9 3.6a2.3 1.5 51 1 0 -2.9 -3.6zM730.1 440.2a2.1 1.2 27 1 0 3.8 1.9a2.1 1.2 27 1 0 -3.8 -1.9zM709.1 317.1a1.2 1 0 1 0 2.4 0a1.2 1 0 1 0 -2.4 0zM733 296.7a1.5 1.4 0 1 0 2.9 0a1.5 1.4 0 1 0 -2.9 0zM640.4 406a2.4 1.4 52 1 0 2.9 3.7a2.4 1.4 52 1 0 -2.9 -3.7zM681.1 387.9a3.1 2.2 158 1 0 -5.7 2.3a3.1 2.2 158 1 0 5.7 -2.3zM708.6 286.3a1.2 1 0 1 0 2.5 0a1.2 1 0 1 0 -2.5 0zM616.2 366.6a2 1.3 0 1 0 4 0a2 1.3 0 1 0 -4 0zM709.4 328.4a1.2 1 0 1 0 2.4 0a1.2 1 0 1 0 -2.4 0zM720 404.9a3.2 1.8 153 1 0 -5.8 2.9a3.2 1.8 153 1 0 5.8 -2.9zM624.9 371.7a1 .6 0 1 0 2.1 0a1 .6 0 1 0 -2.1 0zM608.6 364.2a1.5 1.3 0 1 0 2.9 0a1.5 1.3 0 1 0 -2.9 0zM700.8 302.1a1.6 1.4 0 1 0 3.2 0a1.6 1.4 0 1 0 -3.2 0zM604 365a3.5 3.3 41 1 0 5.3 4.5a3.5 3.3 41 1 0 -5.3 -4.5zM598.6 357.2a1.8 1.7 0 1 0 3.5 0a1.8 1.7 0 1 0 -3.5 0zM611.9 331.9a1.1 .9 0 1 0 2.1 0a1.1 .9 0 1 0 -2.1 0zM668.6 365.6a1 1 0 1 0 2 0a1 1 0 1 0 -2 0zM643 454.9a1 .7 0 1 0 2 0a1 .7 0 1 0 -2 0zM698 371.3a1 .7 0 1 0 2 0a1 .7 0 1 0 -2 0zM594.5 417.7a3.7 2.8 39 1 0 5.7 4.6a3.7 2.8 39 1 0 -5.7 -4.6zM696 396.8a1 .7 0 1 0 2 0a1 .7 0 1 0 -2 0zM633.4 261.2a3.3 3.1 25 1 0 6 2.8a3.3 3.1 25 1 0 -6 -2.8zM613.3 443.6a3.7 2.4 77 1 0 1.7 7.1a3.7 2.4 77 1 0 -1.7 -7.1zM730.8 278.9a1.4 1.3 0 1 0 2.8 0a1.4 1.3 0 1 0 -2.8 0zM600.1 313.7a1.8 1.2 0 1 0 3.6 0a1.8 1.2 0 1 0 -3.6 0zM733.4 266a1.3 .8 0 1 0 2.7 0a1.3 .8 0 1 0 -2.7 0zM597.2 365.3a1 .8 0 1 0 2.1 0a1 .8 0 1 0 -2.1 0zM725.6 404.4a1.5 1.4 0 1 0 2.9 0a1.5 1.4 0 1 0 -2.9 0zM711.5 342.6a2.5 2 146 1 0 -4.2 2.8a2.5 2 146 1 0 4.2 -2.8zM673 334.7a1 .6 0 1 0 2 0a1 .6 0 1 0 -2 0zM644.1 301.6a2 1.7 110 1 0 -1.4 3.8a2 1.7 110 1 0 1.4 -3.8zM683.8 353.1a1.1 1 0 1 0 2.2 0a1.1 1 0 1 0 -2.2 0zM611.7 414.8a2.5 1.6 54 1 0 2.9 4.1a2.5 1.6 54 1 0 -2.9 -4.1zM685.1 287a2.5 1.8 87 1 0 .3 5.1a2.5 1.8 87 1 0 -.3 -5.1zM627 423a4.5 4 11 1 0 8.9 1.7a4.5 4 11 1 0 -8.9 -1.7zM683 252.4a1.4 1.2 0 1 0 2.9 0a1.4 1.2 0 1 0 -2.9 0zM612.1 304.2a2 1.5 26 1 0 3.6 1.8a2 1.5 26 1 0 -3.6 -1.8zM736.7 370.2a2.1 1.4 50 1 0 2.7 3.3a2.1 1.4 50 1 0 -2.7 -3.3zM599.3 337.6a3 2.7 150 1 0 -5.2 3a3 2.7 150 1 0 5.2 -3zM597.8 320.4a3.6 2.8 94 1 0 -.5 7.1a3.6 2.8 94 1 0 .5 -7.1zM689 270.1a2.4 1.6 175 1 0 -4.8 .4a2.4 1.6 175 1 0 4.8 -.4zM607.5 414.2a1 .6 0 1 0 2 0a1 .6 0 1 0 -2 0zM638.3 377.5a3.8 3.3 109 1 0 -2.5 7.3a3.8 3.3 109 1 0 2.5 -7.3zM651.5 352.2a1.7 1 0 1 0 3.5 0a1.7 1 0 1 0 -3.5 0zM646.1 325.7a1.7 1.3 0 1 0 3.5 0a1.7 1.3 0 1 0 -3.5 0zM695.7 269.1a1 .6 0 1 0 2 0a1 .6 0 1 0 -2 0zM668.3 252.5a1.1 .8 0 1 0 2.3 0a1.1 .8 0 1 0 -2.3 0zM655.6 258.4a1.2 .7 0 1 0 2.4 0a1.2 .7 0 1 0 -2.4 0zM707.9 239.3a2.6 2.6 118 1 0 -2.4 4.7a2.6 2.6 118 1 0 2.4 -4.7zM671.2 326.6a3.8 2.2 5 1 0 7.6 .6a3.8 2.2 5 1 0 -7.6 -.6zM637.9 297.2a1.4 1 0 1 0 2.8 0a1.4 1 0 1 0 -2.8 0zM729.2 295.1a1.2 .9 0 1 0 2.4 0a1.2 .9 0 1 0 -2.4 0zM641.2 440.4a1.1 .9 0 1 0 2.2 0a1.1 .9 0 1 0 -2.2 0zM736.4 415.5a1.5 1.4 0 1 0 3 0a1.5 1.4 0 1 0 -3 0zM682 277.3a1.1 .8 0 1 0 2.2 0a1.1 .8 0 1 0 -2.2 0zM630.2 291.8a1 1 0 1 0 2 0a1 1 0 1 0 -2 0zM632.4 416.8a1.6 1.3 0 1 0 3.2 0a1.6 1.3 0 1 0 -3.2 0zM621.1 373.3a1.8 1.4 0 1 0 3.6 0a1.8 1.4 0 1 0 -3.6 0zM691.8 416.4a1 1 0 1 0 2 0a1 1 0 1 0 -2 0zM712.4 439a1 1 0 1 0 2 0a1 1 0 1 0 -2 0zM658.9 269.9a3.1 3 131 1 0 -4.1 4.7a3.1 3 131 1 0 4.1 -4.7zM637.4 259.7a1 .8 0 1 0 2 0a1 .8 0 1 0 -2 0zM674.5 424.2a3.9 3.4 120 1 0 -3.9 6.7a3.9 3.4 120 1 0 3.9 -6.7zM630.3 240.1a2.4 1.8 178 1 0 -4.8 .2a2.4 1.8 178 1 0 4.8 -.2zM740.2 445.3a1.4 1 0 1 0 2.8 0a1.4 1 0 1 0 -2.8 0zM693.9 254.7a1.2 .8 0 1 0 2.3 0a1.2 .8 0 1 0 -2.3 0zM703.7 322.7a1.4 1 0 1 0 2.8 0a1.4 1 0 1 0 -2.8 0zM618.6 246.3a1.5 1 0 1 0 2.9 0a1.5 1 0 1 0 -2.9 0zM685 442a3.6 3.3 34 1 0 6 4.1a3.6 3.3 34 1 0 -6 -4.1zM688.8 408a4.3 3.6 17 1 0 8.3 2.5a4.3 3.6 17 1 0 -8.3 -2.5zM680.6 397.4a4.8 3.1 4 1 0 9.5 .6a4.8 3.1 4 1 0 -9.5 -.6zM718.2 449.2a1.2 .7 0 1 0 2.4 0a1.2 .7 0 1 0 -2.4 0zM689.9 328a1 .7 0 1 0 2 0a1 .7 0 1 0 -2 0zM597.1 400a1.3 .7 0 1 0 2.6 0a1.3 .7 0 1 0 -2.6 0zM661.5 280.7a1 .7 0 1 0 2 0a1 .7 0 1 0 -2 0zM671.5 423.9a1.1 1.1 0 1 0 2.2 0a1.1 1.1 0 1 0 -2.2 0zM644.7 375.6a1.9 1.1 0 1 0 3.7 0a1.9 1.1 0 1 0 -3.7 0zM625.8 253.6a2.4 2 165 1 0 -4.6 1.2a2.4 2 165 1 0 4.6 -1.2zM724.4 366.2a1 .8 0 1 0 2 0a1 .8 0 1 0 -2 0zM650.3 373.1a1.1 .7 0 1 0 2.2 0a1.1 .7 0 1 0 -2.2 0zM701.2 396.6a1.6 1.2 0 1 0 3.2 0a1.6 1.2 0 1 0 -3.2 0zM654.8 380.2a1 .8 0 1 0 2.1 0a1 .8 0 1 0 -2.1 0zM600.3 359.3a2.5 1.4 132 1 0 -3.4 3.7a2.5 1.4 132 1 0 3.4 -3.7zM624.1 328a1.1 1.1 0 1 0 2.2 0a1.1 1.1 0 1 0 -2.2 0zM652.6 333.4a1.3 .8 0 1 0 2.7 0a1.3 .8 0 1 0 -2.7 0zM713.6 297.9a2.8 1.7 177 1 0 -5.5 .3a2.8 1.7 177 1 0 5.5 -.3zM610.9 416a2.7 2.4 36 1 0 4.3 3.1a2.7 2.4 36 1 0 -4.3 -3.1zM693.4 295.5a1.2 1.1 0 1 0 2.5 0a1.2 1.1 0 1 0 -2.5 0zM700.8 401.4a1 .8 0 1 0 2 0a1 .8 0 1 0 -2 0zM672.3 419.1a3.4 2 19 1 0 6.5 2.2a3.4 2 19 1 0 -6.5 -2.2zM634.8 324.5a1 .9 0 1 0 2.1 0a1 .9 0 1 0 -2.1 0zM680.1 418a1.7 1.7 0 1 0 3.3 0a1.7 1.7 0 1 0 -3.3 0zM712.8 377.1a1 .7 0 1 0 2 0a1 .7 0 1 0 -2 0zM662.9 309.1a1.1 .8 0 1 0 2.1 0a1.1 .8 0 1 0 -2.1 0zM687.9 398.8a1 .8 0 1 0 2.1 0a1 .8 0 1 0 -2.1 0zM721.8 386.2a1.5 1.4 0 1 0 3 0a1.5 1.4 0 1 0 -3 0zM626.5 406.4a3.2 3 111 1 0 -2.3 6a3.2 3 111 1 0 2.3 -6zM623 258.7a1 .9 0 1 0 2 0a1 .9 0 1 0 -2 0zM710.4 322.9a3 1.9 63 1 0 2.7 5.4a3 1.9 63 1 0 -2.7 -5.4zM633.2 450.5a1.6 1 0 1 0 3.2 0a1.6 1 0 1 0 -3.2 0zM663.7 285.3a1 .7 0 1 0 2 0a1 .7 0 1 0 -2 0zM638.6 443.5a4 2.3 65 1 0 3.4 7.2a4 2.3 65 1 0 -3.4 -7.2zM696.3 304a1 .6 0 1 0 2 0a1 .6 0 1 0 -2 0zM610.3 273.2a1.1 1.1 0 1 0 2.2 0a1.1 1.1 0 1 0 -2.2 0zM726.3 380.6a4.6 3.3 156 1 0 -8.5 3.8a4.6 3.3 156 1 0 8.5 -3.8zM644.4 261.2a1.3 1.1 0 1 0 2.6 0a1.3 1.1 0 1 0 -2.6 0zM695.5 261.6a1.6 1.4 0 1 0 3.1 0a1.6 1.4 0 1 0 -3.1 0zM599.2 438.3a2.8 1.7 94 1 0 -.4 5.6a2.8 1.7 94 1 0 .4 -5.6zM648 446.8a1.4 1.3 0 1 0 2.8 0a1.4 1.3 0 1 0 -2.8 0zM620 252.8a1 .9 0 1 0 2.1 0a1 .9 0 1 0 -2.1 0zM659.1 257.3a2.2 1.8 163 1 0 -4.3 1.3a2.2 1.8 163 1 0 4.3 -1.3zM675.6 456.4a1.9 1.1 0 1 0 3.8 0a1.9 1.1 0 1 0 -3.8 0zM705.9 355.2a1.1 .7 0 1 0 2.2 0a1.1 .7 0 1 0 -2.2 0zM617.9 403.3a3.3 2.4 28 1 0 5.8 3.1a3.3 2.4 28 1 0 -5.8 -3.1zM658 442.4a2.4 1.5 4 1 0 4.9 .3a2.4 1.5 4 1 0 -4.9 -.3zM640.6 424.8a2.7 2.4 5 1 0 5.4 .5a2.7 2.4 5 1 0 -5.4 -.5zM709.5 297.4a2.2 1.5 64 1 0 1.9 4a2.2 1.5 64 1 0 -1.9 -4zM617.3 262.5a1.1 .9 0 1 0 2.1 0a1.1 .9 0 1 0 -2.1 0zM729.6 352.8a3.3 1.9 74 1 0 1.8 6.3a3.3 1.9 74 1 0 -1.8 -6.3zM701.3 254.1a1 .8 0 1 0 2 0a1 .8 0 1 0 -2 0zM688.1 424.3a3.9 3.4 135 1 0 -5.6 5.5a3.9 3.4 135 1 0 5.6 -5.5zM622.9 354.1a1.3 .9 0 1 0 2.6 0a1.3 .9 0 1 0 -2.6 0zM676.6 440.8a1.5 1.5 0 1 0 3 0a1.5 1.5 0 1 0 -3 0zM714.3 290.9a1.2 .7 0 1 0 2.4 0a1.2 .7 0 1 0 -2.4 0zM598.1 307.3a3.6 2.8 126 1 0 -4.2 5.8a3.6 2.8 126 1 0 4.2 -5.8zM622.5 297.3a1.4 .9 0 1 0 2.9 0a1.4 .9 0 1 0 -2.9 0z" fill="#a2a5a8"/>
<path d="M677.9 407.5a1.7 1 0 1 0 3.5 0a1.7 1 0 1 0 -3.5 0zM604.7 414.4a1.1 .7 0 1 0 2.1 0a1.1 .7 0 1 0 -2.1 0zM633.1 260.2a2.5 1.9 23 1 0 4.7 2a2.5 1.9 23 1 0 -4.7 -2zM733.5 451.1a1 .8 0 1 0 2.1 0a1 .8 0 1 0 -2.1 0zM701.5 424a1.1 .8 0 1 0 2.1 0a1.1 .8 0 1 0 -2.1 0zM698.6 406.6a3.1 2.2 13 1 0 6 1.3a3.1 2.2 13 1 0 -6 -1.3zM706.6 292a1 1 0 1 0 2 0a1 1 0 1 0 -2 0zM605.4 264.6a2.5 2.1 38 1 0 3.9 3.1a2.5 2.1 38 1 0 -3.9 -3.1zM627.4 384.3a1 .7 0 1 0 2 0a1 .7 0 1 0 -2 0zM700.5 301.7a1 .7 0 1 0 2.1 0a1 .7 0 1 0 -2.1 0zM632.5 285.7a2.5 1.9 71 1 0 1.6 4.6a2.5 1.9 71 1 0 -1.6 -4.6zM737 361.9a2.7 1.9 17 1 0 5.2 1.6a2.7 1.9 17 1 0 -5.2 -1.6zM693.7 263.2a1.3 1 0 1 0 2.5 0a1.3 1 0 1 0 -2.5 0zM645.4 249.9a2.1 2 108 1 0 -1.2 3.9a2.1 2 108 1 0 1.2 -3.9zM624.8 279.5a1.1 .9 0 1 0 2.2 0a1.1 .9 0 1 0 -2.2 0zM669.9 334.8a1.5 1 0 1 0 3 0a1.5 1 0 1 0 -3 0zM605.5 436.4a2 1.6 43 1 0 3 2.8a2 1.6 43 1 0 -3 -2.8zM674 297.7a1.8 1.1 0 1 0 3.7 0a1.8 1.1 0 1 0 -3.7 0zM621 295.6a1 .9 0 1 0 2.1 0a1 .9 0 1 0 -2.1 0zM663.9 323.7a3.1 2.3 39 1 0 4.9 3.9a3.1 2.3 39 1 0 -4.9 -3.9zM618 444.2a1.4 1.2 0 1 0 2.7 0a1.4 1.2 0 1 0 -2.7 0zM697 359.3a2.2 1.8 174 1 0 -4.4 .4a2.2 1.8 174 1 0 4.4 -.4zM727.1 251.7a1.1 .9 0 1 0 2.2 0a1.1 .9 0 1 0 -2.2 0zM626.9 449.1a1 .8 0 1 0 2 0a1 .8 0 1 0 -2 0zM715 400.3a1.5 1.3 0 1 0 2.9 0a1.5 1.3 0 1 0 -2.9 0zM633.5 421.7a2.4 2.3 144 1 0 -3.9 2.9a2.4 2.3 144 1 0 3.9 -2.9zM671 290.1a2.6 2.5 99 1 0 -.8 5.2a2.6 2.5 99 1 0 .8 -5.2zM648.8 279.5a3.6 3.1 65 1 0 3.1 6.5a3.6 3.1 65 1 0 -3.1 -6.5zM670.7 437a1.4 1 0 1 0 2.9 0a1.4 1 0 1 0 -2.9 0zM651 308.5a1.6 1 0 1 0 3.1 0a1.6 1 0 1 0 -3.1 0zM698.5 450.4a4.1 2.4 79 1 0 1.5 8.1a4.1 2.4 79 1 0 -1.5 -8.1zM678.8 312.6a1 1 0 1 0 2.1 0a1 1 0 1 0 -2.1 0zM698.6 353.3a2 1.8 0 1 0 4 0a2 1.8 0 1 0 -4 -0zM621.6 272.7a1.1 .8 0 1 0 2.2 0a1.1 .8 0 1 0 -2.2 0zM655.8 251.3a1 .6 0 1 0 2.1 0a1 .6 0 1 0 -2.1 0zM639 445.6a2.3 2.2 60 1 0 2.3 3.9a2.3 2.2 60 1 0 -2.3 -3.9zM676.4 457.4a1.9 1.2 0 1 0 3.7 0a1.9 1.2 0 1 0 -3.7 0zM624.9 439a1 .8 0 1 0 2 0a1 .8 0 1 0 -2 0zM721.3 325.3a1.9 1.7 0 1 0 3.9 0a1.9 1.7 0 1 0 -3.9 0zM610.2 378.8a1.2 1.1 0 1 0 2.3 0a1.2 1.1 0 1 0 -2.3 0zM736.6 249.5a1.6 1.1 0 1 0 3.2 0a1.6 1.1 0 1 0 -3.2 0zM627.2 339.7a3.3 2.7 137 1 0 -4.8 4.5a3.3 2.7 137 1 0 4.8 -4.5zM724.6 406.9a1 1 0 1 0 2.1 0a1 1 0 1 0 -2.1 0zM616 328a1.9 1.1 0 1 0 3.7 0a1.9 1.1 0 1 0 -3.7 0zM720.3 315.1a1 .9 0 1 0 2 0a1 .9 0 1 0 -2 0zM614.4 370.3a2.6 2.5 52 1 0 3.1 4a2.6 2.5 52 1 0 -3.1 -4zM738.5 446.2a2.3 1.6 163 1 0 -4.3 1.3a2.3 1.6 163 1 0 4.3 -1.3zM637.2 409.8a1.3 1.2 0 1 0 2.6 0a1.3 1.2 0 1 0 -2.6 0zM744.6 422.1a1.4 .9 0 1 0 2.8 0a1.4 .9 0 1 0 -2.8 0zM653 278.4a1 .6 0 1 0 2 0a1 .6 0 1 0 -2 0zM738.5 275.9a1.7 1 0 1 0 3.4 0a1.7 1 0 1 0 -3.4 0zM683.4 442.2a4.2 4.1 41 1 0 6.4 5.6a4.2 4.1 41 1 0 -6.4 -5.6zM642.5 244.2a1 .6 0 1 0 2 0a1 .6 0 1 0 -2 0zM722.7 249.1a1.1 .7 0 1 0 2.2 0a1.1 .7 0 1 0 -2.2 0zM699.7 242.1a2.5 2.1 110 1 0 -1.8 4.8a2.5 2.1 110 1 0 1.8 -4.8zM702 438.3a2.5 2.1 173 1 0 -5 .6a2.5 2.1 173 1 0 5 -.6zM693.1 454.7a2.1 2 178 1 0 -4.3 .1a2.1 2 178 1 0 4.3 -.1zM604.8 316.2a1.2 1.1 0 1 0 2.3 0a1.2 1.1 0 1 0 -2.3 0zM614.4 394.6a2.7 1.9 104 1 0 -1.3 5.2a2.7 1.9 104 1 0 1.3 -5.2zM701.2 289.2a2.2 2 44 1 0 3.1 3a2.2 2 44 1 0 -3.1 -3zM670.6 243.6a2.6 2.2 88 1 0 .2 5.1a2.6 2.2 88 1 0 -.2 -5.1zM711.5 302.9a1.3 1 0 1 0 2.6 0a1.3 1 0 1 0 -2.6 0zM706.2 371.3a3.1 2.4 109 1 0 -2 6a3.1 2.4 109 1 0 2 -6zM642.8 354.5a1.3 1 0 1 0 2.7 0a1.3 1 0 1 0 -2.7 0zM595.3 345a1.7 1.1 0 1 0 3.5 0a1.7 1.1 0 1 0 -3.5 0zM631.3 303.3a3.6 2.7 28 1 0 6.3 3.4a3.6 2.7 28 1 0 -6.3 -3.4zM732.5 450.3a1.4 .8 0 1 0 2.8 0a1.4 .8 0 1 0 -2.8 0zM726.7 353.5a3.6 3.6 139 1 0 -5.5 4.8a3.6 3.6 139 1 0 5.5 -4.8zM665.8 332.4a2.1 1.9 146 1 0 -3.5 2.4a2.1 1.9 146 1 0 3.5 -2.4zM674.7 405.2a1.1 .6 0 1 0 2.1 0a1.1 .6 0 1 0 -2.1 0zM606.6 270.5a1.5 1 0 1 0 3 0a1.5 1 0 1 0 -3 0zM671.6 354.1a1.4 .8 0 1 0 2.7 0a1.4 .8 0 1 0 -2.7 0zM670.6 456.6a2.2 2 174 1 0 -4.4 .4a2.2 2 174 1 0 4.4 -.4zM688.2 449.2a2 1.7 0 1 0 4 0a2 1.7 0 1 0 -4 0zM698 257.2a1 .6 0 1 0 2 0a1 .6 0 1 0 -2 0zM737.3 439.7a1.9 1.1 0 1 0 3.8 0a1.9 1.1 0 1 0 -3.8 0zM672.9 414.5a2.2 2.1 125 1 0 -2.5 3.6a2.2 2.1 125 1 0 2.5 -3.6zM715.3 452.9a1 .8 0 1 0 2 0a1 .8 0 1 0 -2 0zM607.8 265.5a1.5 1.5 0 1 0 3 0a1.5 1.5 0 1 0 -3 0zM643.5 306.2a1.1 .9 0 1 0 2.2 0a1.1 .9 0 1 0 -2.2 0zM718.2 352.3a2.4 2.3 28 1 0 4.3 2.3a2.4 2.3 28 1 0 -4.3 -2.3zM653.2 421.2a3.7 2.4 64 1 0 3.2 6.6a3.7 2.4 64 1 0 -3.2 -6.6zM685.6 338.3a2.8 2.7 111 1 0 -2 5.2a2.8 2.7 111 1 0 2 -5.2zM677.1 368.9a1.5 1.4 0 1 0 3 0a1.5 1.4 0 1 0 -3 0zM622.5 434.1a2.6 1.8 76 1 0 1.2 4.9a2.6 1.8 76 1 0 -1.2 -4.9zM681.2 426a2.4 2 70 1 0 1.6 4.5a2.4 2 70 1 0 -1.6 -4.5zM614.8 334a1 .8 0 1 0 2.1 0a1 .8 0 1 0 -2.1 0zM597.5 263.3a1.1 1 0 1 0 2.2 0a1.1 1 0 1 0 -2.2 0zM597.1 312a1.2 .8 0 1 0 2.4 0a1.2 .8 0 1 0 -2.4 0zM634.8 322.4a1 .9 0 1 0 2 0a1 .9 0 1 0 -2 0zM728.7 246.5a3.1 1.9 64 1 0 2.7 5.7a3.1 1.9 64 1 0 -2.7 -5.7zM697 392.7a4.7 3.1 62 1 0 4.5 8.4a4.7 3.1 62 1 0 -4.5 -8.4zM722.5 396.8a2.7 2.1 8 1 0 5.4 .8a2.7 2.1 8 1 0 -5.4 -.8zM666 366.7a1 .7 0 1 0 2 0a1 .7 0 1 0 -2 0zM596.9 317.6a2.1 1.3 1 1 0 4.1 .1a2.1 1.3 1 1 0 -4.1 -.1zM687.8 339a4.3 3.2 29 1 0 7.4 4.2a4.3 3.2 29 1 0 -7.4 -4.2zM599.2 436.8a1.3 .9 0 1 0 2.5 0a1.3 .9 0 1 0 -2.5 0zM733.4 319a1.4 1.3 0 1 0 2.8 0a1.4 1.3 0 1 0 -2.8 0zM624.3 373.2a1.7 1.2 0 1 0 3.5 0a1.7 1.2 0 1 0 -3.5 0zM721.2 392a1.9 1.5 0 1 0 3.9 0a1.9 1.5 0 1 0 -3.9 0zM675.8 434.7a1.3 1.3 0 1 0 2.7 0a1.3 1.3 0 1 0 -2.7 0zM605.6 245.1a3.2 2.4 155 1 0 -5.7 2.7a3.2 2.4 155 1 0 5.7 -2.7zM704.3 440.4a4.5 2.7 4 1 0 9.1 .7a4.5 2.7 4 1 0 -9.1 -.7zM717.7 411.5a1.8 1.4 0 1 0 3.6 0a1.8 1.4 0 1 0 -3.6 0zM699.2 275.2a2.1 2.1 8 1 0 4.2 .6a2.1 2.1 8 1 0 -4.2 -.6zM694.5 356.9a2.7 2.2 28 1 0 4.8 2.6a2.7 2.2 28 1 0 -4.8 -2.6zM607.8 350.5a1 .8 0 1 0 2 0a1 .8 0 1 0 -2 0zM719.1 423.8a1.1 1 0 1 0 2.1 0a1.1 1 0 1 0 -2.1 0zM620.7 415.7a1.1 .8 0 1 0 2.1 0a1.1 .8 0 1 0 -2.1 0zM669.6 369.8a1.6 1.1 0 1 0 3.2 0a1.6 1.1 0 1 0 -3.2 0zM633.5 281a1.3 1.2 0 1 0 2.7 0a1.3 1.2 0 1 0 -2.7 0zM657.6 395.2a3.9 3.2 40 1 0 6.1 5a3.9 3.2 40 1 0 -6.1 -5zM664.6 257a2.6 1.5 43 1 0 3.8 3.5a2.6 1.5 43 1 0 -3.8 -3.5zM726.7 246.6a2.2 2 104 1 0 -1.1 4.4a2.2 2 104 1 0 1.1 -4.4zM610.5 386.4a2.1 1.6 33 1 0 3.5 2.3a2.1 1.6 33 1 0 -3.5 -2.3zM610 424.5a1.5 1 0 1 0 3 0a1.5 1 0 1 0 -3 0zM644.2 384.6a3.2 3 22 1 0 6 2.5a3.2 3 22 1 0 -6 -2.5zM745.7 422.6a1.1 .6 0 1 0 2.1 0a1.1 .6 0 1 0 -2.1 0zM680.9 409.7a1.3 1.1 0 1 0 2.5 0a1.3 1.1 0 1 0 -2.5 0zM630.7 390.8a4.2 2.6 140 1 0 -6.5 5.4a4.2 2.6 140 1 0 6.5 -5.4zM735.9 439.9a1 .9 0 1 0 2 0a1 .9 0 1 0 -2 0zM599.1 307.7a1 1 0 1 0 2 0a1 1 0 1 0 -2 0zM665 320a1.1 .9 0 1 0 2.1 0a1.1 .9 0 1 0 -2.1 0zM598.2 379.1a1.2 1 0 1 0 2.3 0a1.2 1 0 1 0 -2.3 0zM717.1 281.6a1.3 .8 0 1 0 2.5 0a1.3 .8 0 1 0 -2.5 0zM698.2 345.9a1.1 .7 0 1 0 2.3 0a1.1 .7 0 1 0 -2.3 0zM734.4 388.1a1 .9 0 1 0 2 0a1 .9 0 1 0 -2 0zM666.9 377.7a3.8 2.8 103 1 0 -1.6 7.4a3.8 2.8 103 1 0 1.6 -7.4zM608 304.1a1.1 1 0 1 0 2.3 0a1.1 1 0 1 0 -2.3 0zM645.4 375a1.2 1 0 1 0 2.4 0a1.2 1 0 1 0 -2.4 0zM613.3 323.2a1 .9 0 1 0 2 0a1 .9 0 1 0 -2 0zM656.9 271.3a2.4 1.9 86 1 0 .3 4.9a2.4 1.9 86 1 0 -.3 -4.9zM733.5 331.2a1.7 1.1 0 1 0 3.5 0a1.7 1.1 0 1 0 -3.5 0zM650 297.8a1.1 .7 0 1 0 2.2 0a1.1 .7 0 1 0 -2.2 0zM616.3 348.5a2.3 1.3 136 1 0 -3.3 3.2a2.3 1.3 136 1 0 3.3 -3.2zM619.2 351a3 2.3 180 1 0 -6.1 0a3 2.3 180 1 0 6.1 -0zM716.8 294.5a1.2 1 0 1 0 2.4 0a1.2 1 0 1 0 -2.4 0zM607.2 441.9a1.1 .8 0 1 0 2.2 0a1.1 .8 0 1 0 -2.2 0zM604.4 347.8a1 .7 0 1 0 2.1 0a1 .7 0 1 0 -2.1 0zM711.4 250.4a3.2 2.1 58 1 0 3.3 5.4a3.2 2.1 58 1 0 -3.3 -5.4zM728.8 298.8a1.3 .9 0 1 0 2.7 0a1.3 .9 0 1 0 -2.7 0zM624.6 389.5a2.9 2.1 116 1 0 -2.5 5.2a2.9 2.1 116 1 0 2.5 -5.2zM630 428.3a4.4 3.2 38 1 0 7 5.4a4.4 3.2 38 1 0 -7 -5.4zM735.6 305.3a1 .7 0 1 0 2 0a1 .7 0 1 0 -2 0zM635.4 354.8a3.6 3.1 10 1 0 7 1.2a3.6 3.1 10 1 0 -7 -1.2zM727.5 293.1a1.1 .7 0 1 0 2.2 0a1.1 .7 0 1 0 -2.2 0zM675.5 370.9a3 2.1 128 1 0 -3.7 4.7a3 2.1 128 1 0 3.7 -4.7zM669.4 285.3a1.3 .9 0 1 0 2.6 0a1.3 .9 0 1 0 -2.6 0zM613.7 277.6a1.2 1 0 1 0 2.4 0a1.2 1 0 1 0 -2.4 0zM660 431.1a1.2 .9 0 1 0 2.5 0a1.2 .9 0 1 0 -2.5 0zM609.6 308.2a3.8 2.5 144 1 0 -6.1 4.4a3.8 2.5 144 1 0 6.1 -4.4zM618.2 263.7a1.9 1.9 0 1 0 3.7 0a1.9 1.9 0 1 0 -3.7 0zM690.2 267.3a2.7 2 49 1 0 3.5 4a2.7 2 49 1 0 -3.5 -4zM731.7 289.5a3.7 2.1 54 1 0 4.4 6a3.7 2.1 54 1 0 -4.4 -6zM736.9 369.5a2.8 2.3 51 1 0 3.6 4.4a2.8 2.3 51 1 0 -3.6 -4.4zM719.5 240.2a1 1 0 1 0 2 0a1 1 0 1 0 -2 0zM682.9 269.7a1.4 1.1 0 1 0 2.8 0a1.4 1.1 0 1 0 -2.8 0zM661.1 261.8a2.9 2.1 160 1 0 -5.5 2a2.9 2.1 160 1 0 5.5 -2zM625.5 321.4a1.3 .9 0 1 0 2.5 0a1.3 .9 0 1 0 -2.5 0zM683.2 457.7a1 .9 0 1 0 2 0a1 .9 0 1 0 -2 0zM613.1 402.9a1.9 1.3 0 1 0 3.9 0a1.9 1.3 0 1 0 -3.9 0zM653.2 282.9a1 .9 0 1 0 2 0a1 .9 0 1 0 -2 0zM673 330.2a2.6 2.3 141 1 0 -4.1 3.3a2.6 2.3 141 1 0 4.1 -3.3zM630.8 255.5a1.4 1 0 1 0 2.7 0a1.4 1 0 1 0 -2.7 0zM651.3 343.4a1.1 .9 0 1 0 2.1 0a1.1 .9 0 1 0 -2.1 0zM622.9 377.1a1.2 .8 0 1 0 2.5 0a1.2 .8 0 1 0 -2.5 0zM623.6 338.8a1 .7 0 1 0 2.1 0a1 .7 0 1 0 -2.1 0zM598.2 241.5a1.1 .9 0 1 0 2.3 0a1.1 .9 0 1 0 -2.3 0zM610.4 274.7a1.1 1.1 0 1 0 2.1 0a1.1 1.1 0 1 0 -2.1 0zM654.5 449.1a4.7 4.5 3 1 0 9.5 .5a4.7 4.5 3 1 0 -9.5 -.5zM742.5 247.7a1.4 1 0 1 0 2.7 0a1.4 1 0 1 0 -2.7 0zM639.9 395a1.7 1.6 0 1 0 3.5 0a1.7 1.6 0 1 0 -3.5 0zM612.8 359.5a1 .6 0 1 0 2 0a1 .6 0 1 0 -2 0zM597.8 307a1.4 .9 0 1 0 2.7 0a1.4 .9 0 1 0 -2.7 0zM644.3 292.4a2.4 1.4 51 1 0 3.1 3.8a2.4 1.4 51 1 0 -3.1 -3.8zM722.2 406.2a1.6 1.4 0 1 0 3.1 0a1.6 1.4 0 1 0 -3.1 0zM636.3 281.9a1.6 .9 0 1 0 3.1 0a1.6 .9 0 1 0 -3.1 0zM596.3 437.6a2.1 1.2 48 1 0 2.8 3.1a2.1 1.2 48 1 0 -2.8 -3.1zM726.1 264.3a1 .7 0 1 0 2.1 0a1 .7 0 1 0 -2.1 0zM639.2 296a3.5 2.7 4 1 0 7 .5a3.5 2.7 4 1 0 -7 -.5zM595.5 285.7a1.4 1 0 1 0 2.9 0a1.4 1 0 1 0 -2.9 0zM633.1 292.5a1.3 .8 0 1 0 2.6 0a1.3 .8 0 1 0 -2.6 0zM636.4 414.1a3.1 2.3 32 1 0 5.3 3.2a3.1 2.3 32 1 0 -5.3 -3.2zM713 266.1a1 .6 0 1 0 2 0a1 .6 0 1 0 -2 0zM696.5 355.1a3.6 3.4 97 1 0 -.9 7.1a3.6 3.4 97 1 0 .9 -7.1zM732.6 267.6a2.8 2.4 115 1 0 -2.3 5a2.8 2.4 115 1 0 2.3 -5zM676.2 339.6a3.5 2.1 85 1 0 .6 6.9a3.5 2.1 85 1 0 -.6 -6.9zM714 432.4a1.1 .6 0 1 0 2.2 0a1.1 .6 0 1 0 -2.2 0zM604 334.7a1 .9 0 1 0 2 0a1 .9 0 1 0 -2 0zM685.7 318.1a2.1 1.4 111 1 0 -1.5 3.9a2.1 1.4 111 1 0 1.5 -3.9zM669.5 258a2.9 1.9 123 1 0 -3.1 4.8a2.9 1.9 123 1 0 3.1 -4.8zM727.4 259.1a1.6 1.2 0 1 0 3.2 0a1.6 1.2 0 1 0 -3.2 0zM652.6 330a2.6 1.7 110 1 0 -1.7 4.9a2.6 1.7 110 1 0 1.7 -4.9zM683.8 331.3a1.5 1.3 0 1 0 3 0a1.5 1.3 0 1 0 -3 0zM602 418.8a4.3 3.8 38 1 0 6.7 5.3a4.3 3.8 38 1 0 -6.7 -5.3zM725.2 420a3.2 3 85 1 0 .6 6.5a3.2 3 85 1 0 -.6 -6.5zM708.6 369.3a1.8 1.1 0 1 0 3.5 0a1.8 1.1 0 1 0 -3.5 0zM658.7 301a3.5 3.5 165 1 0 -6.8 1.8a3.5 3.5 165 1 0 6.8 -1.8zM611.9 385.4a1.3 1 0 1 0 2.7 0a1.3 1 0 1 0 -2.7 0zM628.9 308.6a1.2 1.1 0 1 0 2.3 0a1.2 1.1 0 1 0 -2.3 0zM744.8 369.4a1 .6 0 1 0 2 0a1 .6 0 1 0 -2 0zM707.9 285a1 1 0 1 0 2 0a1 1 0 1 0 -2 0zM738.2 447.9a1 .8 0 1 0 2 0a1 .8 0 1 0 -2 0zM724 393.6a1.1 .9 0 1 0 2.1 0a1.1 .9 0 1 0 -2.1 0zM747.5 428.8a2 1.3 118 1 0 -1.9 3.6a2 1.3 118 1 0 1.9 -3.6zM596.5 245.9a2.1 2 53 1 0 2.5 3.3a2.1 2 53 1 0 -2.5 -3.3zM706.7 313a2.3 1.4 115 1 0 -1.9 4.2a2.3 1.4 115 1 0 1.9 -4.2zM638.5 361.2a1.6 1.5 0 1 0 3.1 0a1.6 1.5 0 1 0 -3.1 0zM632.6 281.1a1 .7 0 1 0 2 0a1 .7 0 1 0 -2 0zM617.7 434.8a3.4 2.4 170 1 0 -6.7 1.2a3.4 2.4 170 1 0 6.7 -1.2zM637 400.9a3.4 2.2 104 1 0 -1.6 6.6a3.4 2.2 104 1 0 1.6 -6.6zM607.8 260.9a1.2 .8 0 1 0 2.3 0a1.2 .8 0 1 0 -2.3 0zM703.9 359.9a1.5 1.4 0 1 0 3 0a1.5 1.4 0 1 0 -3 0zM719.9 423.5a3.3 3.1 68 1 0 2.5 6.2a3.3 3.1 68 1 0 -2.5 -6.2zM703 391.7a2.1 2.1 73 1 0 1.3 4.1a2.1 2.1 73 1 0 -1.3 -4.1zM657.9 248.5a1 .7 0 1 0 2 0a1 .7 0 1 0 -2 0zM655.5 453.8a1.8 1.2 0 1 0 3.7 0a1.8 1.2 0 1 0 -3.7 0zM675.5 302a3.5 3.3 40 1 0 5.4 4.6a3.5 3.3 40 1 0 -5.4 -4.6zM634.7 348.9a1.8 1.3 0 1 0 3.6 0a1.8 1.3 0 1 0 -3.6 0zM602.7 246.6a1.4 1.3 0 1 0 2.7 0a1.4 1.3 0 1 0 -2.7 0zM748.7 283.7a3.5 2 127 1 0 -4.2 5.6a3.5 2 127 1 0 4.2 -5.6zM636.1 376.1a4.7 4.7 7 1 0 9.4 1.2a4.7 4.7 7 1 0 -9.4 -1.2zM718.3 293.2a2.3 1.5 32 1 0 4 2.5a2.3 1.5 32 1 0 -4 -2.5zM744.1 245.9a1.3 .8 0 1 0 2.7 0a1.3 .8 0 1 0 -2.7 0zM621.7 273.1a2.7 2.2 139 1 0 -4 3.5a2.7 2.2 139 1 0 4 -3.5zM644.4 248.9a2 1.8 20 1 0 3.8 1.4a2 1.8 20 1 0 -3.8 -1.4zM730.6 253.4a1.3 .7 0 1 0 2.7 0a1.3 .7 0 1 0 -2.7 0zM686.2 326.6a1.2 .8 0 1 0 2.3 0a1.2 .8 0 1 0 -2.3 0zM720.2 339.2a1.7 1.2 0 1 0 3.5 0a1.7 1.2 0 1 0 -3.5 0zM632.8 343.5a1.2 .8 0 1 0 2.5 0a1.2 .8 0 1 0 -2.5 0zM636.1 413.7a1.1 .9 0 1 0 2.2 0a1.1 .9 0 1 0 -2.2 0zM636.2 372.6a3.2 2.8 128 1 0 -3.9 5a3.2 2.8 128 1 0 3.9 -5zM639.2 239.8a2.4 2.4 134 1 0 -3.3 3.5a2.4 2.4 134 1 0 3.3 -3.5zM730.8 418.7a4.5 3.2 174 1 0 -8.9 .9a4.5 3.2 174 1 0 8.9 -.9zM671.8 283.6a1.6 1.6 0 1 0 3.3 0a1.6 1.6 0 1 0 -3.3 0zM642.9 369.5a3.6 3.1 115 1 0 -3 6.4a3.6 3.1 115 1 0 3 -6.4zM722.9 397.2a2.5 2.5 36 1 0 4 2.9a2.5 2.5 36 1 0 -4 -2.9zM668.9 450.3a1.2 1.1 0 1 0 2.3 0a1.2 1.1 0 1 0 -2.3 0zM696 264.7a1 .8 0 1 0 2 0a1 .8 0 1 0 -2 0zM649.7 287.8a1 .7 0 1 0 2 0a1 .7 0 1 0 -2 0zM728.1 266.4a2.1 1.4 43 1 0 3.1 2.8a2.1 1.4 43 1 0 -3.1 -2.8zM727.4 274.4a1.7 1.2 0 1 0 3.4 0a1.7 1.2 0 1 0 -3.4 0zM615.6 366.1a1.3 1 0 1 0 2.5 0a1.3 1 0 1 0 -2.5 0zM656.8 277.3a1 .8 0 1 0 2 0a1 .8 0 1 0 -2 0zM606.2 409.1a1.8 1.4 0 1 0 3.5 0a1.8 1.4 0 1 0 -3.5 0zM620.8 414.5a3.7 3 87 1 0 .4 7.5a3.7 3 87 1 0 -.4 -7.5zM667.6 298.7a1.2 .7 0 1 0 2.3 0a1.2 .7 0 1 0 -2.3 0zM705.9 279.5a2 1.6 0 1 0 3.9 0a2 1.6 0 1 0 -3.9 0zM713.2 307.5a3.8 3.7 81 1 0 1.2 7.6a3.8 3.7 81 1 0 -1.2 -7.6zM690.1 442.4a3.6 3.6 29 1 0 6.4 3.5a3.6 3.6 29 1 0 -6.4 -3.5zM723.9 304.4a2.9 1.8 107 1 0 -1.7 5.6a2.9 1.8 107 1 0 1.7 -5.6zM610.2 387a1.2 1.2 0 1 0 2.4 0a1.2 1.2 0 1 0 -2.4 0zM678.4 337a1.5 1.4 0 1 0 2.9 0a1.5 1.4 0 1 0 -2.9 0zM738.9 269.6a1.2 .8 0 1 0 2.3 0a1.2 .8 0 1 0 -2.3 0zM639.9 282.3a1.9 1.2 0 1 0 3.9 0a1.9 1.2 0 1 0 -3.9 0zM667 267.9a1 1 0 1 0 2 0a1 1 0 1 0 -2 0zM697.7 286.7a1.2 .7 0 1 0 2.4 0a1.2 .7 0 1 0 -2.4 0zM608.8 313.9a3.6 2.4 23 1 0 6.6 2.8a3.6 2.4 23 1 0 -6.6 -2.8zM622.1 263a1.1 .8 0 1 0 2.2 0a1.1 .8 0 1 0 -2.2 0zM683.2 283.8a1.1 .7 0 1 0 2.2 0a1.1 .7 0 1 0 -2.2 0zM697.5 358.8a4.1 2.7 22 1 0 7.7 3.1a4.1 2.7 22 1 0 -7.7 -3.1zM681.5 286.9a3.5 2.2 29 1 0 6.2 3.4a3.5 2.2 29 1 0 -6.2 -3.4zM623.6 383.2a2.9 1.6 74 1 0 1.5 5.5a2.9 1.6 74 1 0 -1.5 -5.5zM722.9 284.2a1.6 1.5 0 1 0 3.1 0a1.6 1.5 0 1 0 -3.1 0zM735.5 293.8a2.2 2 85 1 0 .4 4.4a2.2 2 85 1 0 -.4 -4.4zM604.3 377.2a1.6 1.2 0 1 0 3.3 0a1.6 1.2 0 1 0 -3.3 0zM641.1 330.7a3.6 3.2 42 1 0 5.4 4.8a3.6 3.2 42 1 0 -5.4 -4.8zM639.2 405.2a2.7 1.7 163 1 0 -5.1 1.6a2.7 1.7 163 1 0 5.1 -1.6zM724.4 358.3a1.1 1.1 0 1 0 2.2 0a1.1 1.1 0 1 0 -2.2 0zM666.1 326.9a1.1 1 0 1 0 2.1 0a1.1 1 0 1 0 -2.1 0zM602.3 245.5a1.2 .8 0 1 0 2.4 0a1.2 .8 0 1 0 -2.4 0zM720.9 427.9a2.8 1.7 115 1 0 -2.4 5.1a2.8 1.7 115 1 0 2.4 -5.1zM630.6 271a1.1 .8 0 1 0 2.1 0a1.1 .8 0 1 0 -2.1 0zM638.5 247.3a1.3 1 0 1 0 2.5 0a1.3 1 0 1 0 -2.5 0zM623.6 329.5a2.1 1.8 52 1 0 2.5 3.2a2.1 1.8 52 1 0 -2.5 -3.2zM656.9 341.2a1.4 1 0 1 0 2.8 0a1.4 1 0 1 0 -2.8 0zM687.7 421a1.2 .7 0 1 0 2.3 0a1.2 .7 0 1 0 -2.3 0zM740.3 374.1a3.2 2.8 84 1 0 .6 6.4a3.2 2.8 84 1 0 -.6 -6.4zM717.9 404.6a4.2 3.2 158 1 0 -7.7 3.2a4.2 3.2 158 1 0 7.7 -3.2zM610.3 450.3a2.3 2.3 118 1 0 -2.2 4.2a2.3 2.3 118 1 0 2.2 -4.2zM629 365.5a1.2 1.1 0 1 0 2.3 0a1.2 1.1 0 1 0 -2.3 0zM634.1 272.8a1.3 1 0 1 0 2.7 0a1.3 1 0 1 0 -2.7 0z" fill="#959ca5"/>
<path d="M663.2 449.1a1.7 1.4 0 1 0 3.4 0a1.7 1.4 0 1 0 -3.4 0zM707.3 445a1.1 1.1 0 1 0 2.2 0a1.1 1.1 0 1 0 -2.2 0zM734.5 314.5a2.3 2.2 75 1 0 1.2 4.4a2.3 2.2 75 1 0 -1.2 -4.4zM686.7 257.5a1.8 1.8 0 1 0 3.7 0a1.8 1.8 0 1 0 -3.7 0zM615.8 272.4a1.5 1.4 0 1 0 3.1 0a1.5 1.4 0 1 0 -3.1 0zM667.5 285.9a1.2 1.1 0 1 0 2.5 0a1.2 1.1 0 1 0 -2.5 0zM605.3 434.3a4.5 3.8 76 1 0 2.2 8.8a4.5 3.8 76 1 0 -2.2 -8.8zM692 286.3a1.9 1.8 0 1 0 3.8 0a1.9 1.8 0 1 0 -3.8 0zM689.6 350.1a1.9 1.2 0 1 0 3.9 0a1.9 1.2 0 1 0 -3.9 0zM632.5 416a1.6 1.3 0 1 0 3.2 0a1.6 1.3 0 1 0 -3.2 0zM609.1 305a3.7 3.1 8 1 0 7.3 1.1a3.7 3.1 8 1 0 -7.3 -1.1zM643.6 400.2a1 .6 0 1 0 2 0a1 .6 0 1 0 -2 0zM636.3 302.1a1.2 .9 0 1 0 2.3 0a1.2 .9 0 1 0 -2.3 0zM604 361.6a4.5 3.9 141 1 0 -7 5.6a4.5 3.9 141 1 0 7 -5.6zM743 451.9a4.4 4.2 168 1 0 -8.6 1.8a4.4 4.2 168 1 0 8.6 -1.8zM645.4 387.1a1.6 1.1 0 1 0 3.2 0a1.6 1.1 0 1 0 -3.2 0zM604.9 439.4a1 .7 0 1 0 2.1 0a1 .7 0 1 0 -2.1 0zM714.9 452a1.6 1.3 0 1 0 3.3 0a1.6 1.3 0 1 0 -3.3 0zM605.6 426.2a3.1 2.8 102 1 0 -1.3 6a3.1 2.8 102 1 0 1.3 -6zM636.8 353.9a1.7 .9 0 1 0 3.4 0a1.7 .9 0 1 0 -3.4 0zM660.3 263.2a1.4 1.4 0 1 0 2.9 0a1.4 1.4 0 1 0 -2.9 0zM726.1 350.9a1.4 1.1 0 1 0 2.9 0a1.4 1.1 0 1 0 -2.9 0zM648.9 394a1.1 1.1 0 1 0 2.2 0a1.1 1.1 0 1 0 -2.2 0zM598.9 316.2a3.9 3.2 11 1 0 7.7 1.5a3.9 3.2 11 1 0 -7.7 -1.5zM675.4 430.8a4.7 4.5 13 1 0 9.2 2.2a4.7 4.5 13 1 0 -9.2 -2.2zM630.1 281.1a2.2 1.3 6 1 0 4.5 .5a2.2 1.3 6 1 0 -4.5 -.5zM664.8 417.4a2.6 2.1 67 1 0 2 4.8a2.6 2.1 67 1 0 -2 -4.8zM651 307.8a1 .8 0 1 0 2.1 0a1 .8 0 1 0 -2.1 0zM717.2 266.4a1.2 .9 0 1 0 2.3 0a1.2 .9 0 1 0 -2.3 0zM599.8 344.5a1.3 .8 0 1 0 2.6 0a1.3 .8 0 1 0 -2.6 0zM657.7 354.6a1.2 .8 0 1 0 2.4 0a1.2 .8 0 1 0 -2.4 0zM602.6 263.4a3.1 2.9 70 1 0 2.1 5.8a3.1 2.9 70 1 0 -2.1 -5.8zM665.9 427.8a4.5 4 166 1 0 -8.8 2.2a4.5 4 166 1 0 8.8 -2.2zM607.8 328a3 2.7 82 1 0 .8 6a3 2.7 82 1 0 -.8 -6zM626.1 243.5a1 .9 0 1 0 2 0a1 .9 0 1 0 -2 0zM699.4 292.9a3 2 79 1 0 1.1 5.8a3 2 79 1 0 -1.1 -5.8zM688.8 337a1.8 1.6 0 1 0 3.6 0a1.8 1.6 0 1 0 -3.6 0zM657.4 442.7a2.8 2.3 32 1 0 4.7 3a2.8 2.3 32 1 0 -4.7 -3zM693.7 300.1a3.2 2.3 44 1 0 4.7 4.5a3.2 2.3 44 1 0 -4.7 -4.5zM597.3 389.1a3.7 3.4 38 1 0 5.9 4.6a3.7 3.4 38 1 0 -5.9 -4.6zM653.3 354.5a3.2 1.8 139 1 0 -4.8 4.2a3.2 1.8 139 1 0 4.8 -4.2zM660 241.4a1.2 .7 0 1 0 2.4 0a1.2 .7 0 1 0 -2.4 0zM626.1 417.2a3.9 2.3 173 1 0 -7.6 1a3.9 2.3 173 1 0 7.6 -1zM693.7 430.8a3.1 2.5 153 1 0 -5.5 2.8a3.1 2.5 153 1 0 5.5 -2.8zM744.7 439.2a1 .7 0 1 0 2.1 0a1 .7 0 1 0 -2.1 0zM603 391.8a3.4 2.1 136 1 0 -4.9 4.7a3.4 2.1 136 1 0 4.9 -4.7zM721.3 309.6a3.4 1.9 3 1 0 6.8 .4a3.4 1.9 3 1 0 -6.8 -.4zM670.6 334a4.1 3.7 91 1 0 -.1 8.1a4.1 3.7 91 1 0 .1 -8.1zM657.7 389.4a3.5 2.7 137 1 0 -5.1 4.8a3.5 2.7 137 1 0 5.1 -4.8zM671.6 299.9a1.7 1.4 0 1 0 3.4 0a1.7 1.4 0 1 0 -3.4 0zM693.8 246.5a1.5 1 0 1 0 3 0a1.5 1 0 1 0 -3 0zM638.9 281.1a1 1 0 1 0 2.1 0a1 1 0 1 0 -2.1 0zM672.5 362.2a1.9 1.8 0 1 0 3.8 0a1.9 1.8 0 1 0 -3.8 0zM639.7 290.4a1.9 1.6 0 1 0 3.8 0a1.9 1.6 0 1 0 -3.8 0zM614.9 404.6a1 .9 0 1 0 2 0a1 .9 0 1 0 -2 0zM692.1 245a1 .9 0 1 0 2 0a1 .9 0 1 0 -2 0zM633.6 442.2a3.4 2 2 1 0 6.7 .3a3.4 2 2 1 0 -6.7 -.3zM692.9 396.7a1.2 1.1 0 1 0 2.4 0a1.2 1.1 0 1 0 -2.4 0zM619.2 319a1.3 .9 0 1 0 2.5 0a1.3 .9 0 1 0 -2.5 0zM739.8 291.3a2.1 1.9 24 1 0 3.8 1.7a2.1 1.9 24 1 0 -3.8 -1.7zM611.8 344.3a1.8 1.7 0 1 0 3.6 0a1.8 1.7 0 1 0 -3.6 0zM647 437.9a1.1 .7 0 1 0 2.2 0a1.1 .7 0 1 0 -2.2 0zM657 243.3a1.5 1.3 0 1 0 3 0a1.5 1.3 0 1 0 -3 0zM737.1 378.8a1.9 1.8 0 1 0 3.9 0a1.9 1.8 0 1 0 -3.9 0zM682.9 342a1.8 1.2 0 1 0 3.6 0a1.8 1.2 0 1 0 -3.6 0zM696.5 392.2a1 .8 0 1 0 2 0a1 .8 0 1 0 -2 0zM670.3 367a1 .6 0 1 0 2 0a1 .6 0 1 0 -2 0zM650.4 374.9a4 3.9 47 1 0 5.4 5.8a4 3.9 47 1 0 -5.4 -5.8zM647.5 250.9a3.2 2.5 44 1 0 4.6 4.5a3.2 2.5 44 1 0 -4.6 -4.5zM742.5 342.9a1.5 1.2 0 1 0 3 0a1.5 1.2 0 1 0 -3 0zM599.2 437.9a1.4 1.2 0 1 0 2.7 0a1.4 1.2 0 1 0 -2.7 0zM730 256a2.2 2 77 1 0 1 4.4a2.2 2 77 1 0 -1 -4.4zM642.8 373.4a4.2 3.7 149 1 0 -7.2 4.3a4.2 3.7 149 1 0 7.2 -4.3zM672.4 257.9a2.8 1.7 57 1 0 3 4.6a2.8 1.7 57 1 0 -3 -4.6zM646.4 240.6a1 1 0 1 0 2 0a1 1 0 1 0 -2 0zM636.9 288.3a1.7 1.4 0 1 0 3.5 0a1.7 1.4 0 1 0 -3.5 0zM701.8 325.7a1.1 1.1 0 1 0 2.2 0a1.1 1.1 0 1 0 -2.2 0zM642.5 417.3a1.2 1.1 0 1 0 2.5 0a1.2 1.1 0 1 0 -2.5 0zM744.7 363.3a2.1 1.3 38 1 0 3.3 2.6a2.1 1.3 38 1 0 -3.3 -2.6zM608.3 244.3a1.6 1.2 0 1 0 3.3 0a1.6 1.2 0 1 0 -3.3 0zM662.4 250.7a1.2 .9 0 1 0 2.3 0a1.2 .9 0 1 0 -2.3 0zM683.8 452.5a3.2 3.2 59 1 0 3.3 5.5a3.2 3.2 59 1 0 -3.3 -5.5zM706.4 424.1a3.4 2.8 136 1 0 -4.9 4.7a3.4 2.8 136 1 0 4.9 -4.7zM653.7 410.9a4.3 3.6 106 1 0 -2.4 8.2a4.3 3.6 106 1 0 2.4 -8.2zM631.8 290.5a1.4 1.3 0 1 0 2.9 0a1.4 1.3 0 1 0 -2.9 0zM721.3 337.6a1.9 1.5 0 1 0 3.9 0a1.9 1.5 0 1 0 -3.9 0zM679.4 308.1a1 .8 0 1 0 2 0a1 .8 0 1 0 -2 0zM646.3 303a1.5 1.3 0 1 0 3.1 0a1.5 1.3 0 1 0 -3.1 0zM616.3 401.5a1.5 1.2 0 1 0 3 0a1.5 1.2 0 1 0 -3 0zM670.9 263.7a1.2 .7 0 1 0 2.4 0a1.2 .7 0 1 0 -2.4 0zM689.2 240.6a2.4 2 120 1 0 -2.4 4.2a2.4 2 120 1 0 2.4 -4.2zM703 276.5a1 .9 0 1 0 2.1 0a1 .9 0 1 0 -2.1 0zM657.6 293.2a1.2 .7 0 1 0 2.4 0a1.2 .7 0 1 0 -2.4 0zM747.8 445.9a4.5 4.4 143 1 0 -7.1 5.4a4.5 4.4 143 1 0 7.1 -5.4zM625.8 368.5a3.1 2.5 43 1 0 4.6 4.3a3.1 2.5 43 1 0 -4.6 -4.3zM678.3 407.7a4.5 2.7 168 1 0 -8.9 1.8a4.5 2.7 168 1 0 8.9 -1.8zM648 266.8a2.8 1.7 68 1 0 2.1 5.1a2.8 1.7 68 1 0 -2.1 -5.1zM598.6 370.3a1.5 1.4 0 1 0 3 0a1.5 1.4 0 1 0 -3 0zM637.1 323.6a1.2 .9 0 1 0 2.5 0a1.2 .9 0 1 0 -2.5 0zM717.9 273a2.9 2.2 101 1 0 -1.1 5.7a2.9 2.2 101 1 0 1.1 -5.7zM634.9 401.8a2.6 2.5 103 1 0 -1.2 5.1a2.6 2.5 103 1 0 1.2 -5.1zM689.2 269.6a2.4 2.1 57 1 0 2.6 4.1a2.4 2.1 57 1 0 -2.6 -4.1zM681.6 261a1 .8 0 1 0 2.1 0a1 .8 0 1 0 -2.1 0zM667.5 425.2a2.8 1.6 30 1 0 4.8 2.8a2.8 1.6 30 1 0 -4.8 -2.8zM658.2 405.7a3.5 3.4 110 1 0 -2.3 6.6a3.5 3.4 110 1 0 2.3 -6.6zM659.1 423.7a2.8 2.1 85 1 0 .5 5.6a2.8 2.1 85 1 0 -.5 -5.6zM712.2 403a1.1 .7 0 1 0 2.2 0a1.1 .7 0 1 0 -2.2 0zM652.6 433.4a3 2 167 1 0 -5.9 1.4a3 2 167 1 0 5.9 -1.4zM660.3 388a4.5 3.9 31 1 0 7.6 4.7a4.5 3.9 31 1 0 -7.6 -4.7zM682.9 309.5a1 .7 0 1 0 2.1 0a1 .7 0 1 0 -2.1 0zM692.9 447.1a3.9 2.7 163 1 0 -7.5 2.3a3.9 2.7 163 1 0 7.5 -2.3zM695.5 415.2a1.2 .8 0 1 0 2.4 0a1.2 .8 0 1 0 -2.4 0zM667.5 425.2a3.6 2.9 62 1 0 3.4 6.3a3.6 2.9 62 1 0 -3.4 -6.3zM709.5 325.9a3.8 3.2 26 1 0 6.8 3.3a3.8 3.2 26 1 0 -6.8 -3.3zM742.3 342.9a1.8 1.2 0 1 0 3.5 0a1.8 1.2 0 1 0 -3.5 0zM709.4 298.9a3.3 2.7 134 1 0 -4.6 4.8a3.3 2.7 134 1 0 4.6 -4.8zM746.6 401a3.8 2.4 99 1 0 -1.2 7.6a3.8 2.4 99 1 0 1.2 -7.6zM735.2 454.6a2.5 2.4 40 1 0 3.8 3.2a2.5 2.4 40 1 0 -3.8 -3.2zM673.4 295.4a1.6 .9 0 1 0 3.3 0a1.6 .9 0 1 0 -3.3 0zM702.6 375.2a1.1 .7 0 1 0 2.2 0a1.1 .7 0 1 0 -2.2 0zM731.9 450a1.1 .9 0 1 0 2.1 0a1.1 .9 0 1 0 -2.1 0zM695.9 248.5a1 .9 0 1 0 2 0a1 .9 0 1 0 -2 0zM673.8 247.7a1.8 1.3 0 1 0 3.7 0a1.8 1.3 0 1 0 -3.7 0zM628.7 434.3a1 .6 0 1 0 2 0a1 .6 0 1 0 -2 0zM674.9 284.1a1.1 1 0 1 0 2.1 0a1.1 1 0 1 0 -2.1 0zM643.5 457.9a1 .6 0 1 0 2 0a1 .6 0 1 0 -2 0zM665.3 357.7a2 1.6 0 1 0 4 0a2 1.6 0 1 0 -4 0zM727.9 433.9a4.2 3.3 115 1 0 -3.5 7.6a4.2 3.3 115 1 0 3.5 -7.6zM716.6 400.2a1.2 .8 0 1 0 2.4 0a1.2 .8 0 1 0 -2.4 0zM656.4 276.8a1 .9 0 1 0 2 0a1 .9 0 1 0 -2 0zM663.5 383.8a1.3 1.2 0 1 0 2.6 0a1.3 1.2 0 1 0 -2.6 0zM685.1 412a1.1 .7 0 1 0 2.1 0a1.1 .7 0 1 0 -2.1 0zM725.5 263.3a2.9 2.5 95 1 0 -.5 5.7a2.9 2.5 95 1 0 .5 -5.7zM652.4 456a1.6 1.2 0 1 0 3.1 0a1.6 1.2 0 1 0 -3.1 0zM668.6 241.8a1.1 .8 0 1 0 2.3 0a1.1 .8 0 1 0 -2.3 0zM734 456.7a1.7 1.4 0 1 0 3.4 0a1.7 1.4 0 1 0 -3.4 0zM659 277a1.5 1.2 0 1 0 3 0a1.5 1.2 0 1 0 -3 0zM725.3 408.7a3.6 3.4 23 1 0 6.5 2.8a3.6 3.4 23 1 0 -6.5 -2.8zM706.5 434.1a4.6 3 110 1 0 -3.1 8.6a4.6 3 110 1 0 3.1 -8.6zM726.7 411.5a1 .6 0 1 0 2 0a1 .6 0 1 0 -2 0zM616.5 453.5a1.4 1.1 0 1 0 2.8 0a1.4 1.1 0 1 0 -2.8 0zM605.1 390.2a4 2.7 35 1 0 6.6 4.6a4 2.7 35 1 0 -6.6 -4.6zM684.1 397.4a1.6 1.4 0 1 0 3.3 0a1.6 1.4 0 1 0 -3.3 0zM693.8 243.6a1 .7 0 1 0 2 0a1 .7 0 1 0 -2 0zM662.4 376a3.4 3.3 76 1 0 1.6 6.5a3.4 3.3 76 1 0 -1.6 -6.5zM686.9 292.2a1.5 1.4 0 1 0 3 0a1.5 1.4 0 1 0 -3 0zM619.7 348.7a4 3.8 34 1 0 6.6 4.4a4 3.8 34 1 0 -6.6 -4.4zM734.8 367.5a2.2 2.1 4 1 0 4.4 .3a2.2 2.1 4 1 0 -4.4 -.3zM652 272.5a3.1 1.9 24 1 0 5.8 2.5a3.1 1.9 24 1 0 -5.8 -2.5zM597.7 400.7a2.3 1.6 56 1 0 2.6 3.9a2.3 1.6 56 1 0 -2.6 -3.9zM659.4 397.1a1 .8 0 1 0 2 0a1 .8 0 1 0 -2 0zM700.9 412.4a1.5 1.2 0 1 0 3 0a1.5 1.2 0 1 0 -3 0zM658.5 340.7a1 .7 0 1 0 2 0a1 .7 0 1 0 -2 0zM670.3 411.1a1.2 1.2 0 1 0 2.4 0a1.2 1.2 0 1 0 -2.4 0zM596.8 380.4a2.8 2.3 31 1 0 4.8 2.8a2.8 2.3 31 1 0 -4.8 -2.8zM660 266.2a1.3 .8 0 1 0 2.6 0a1.3 .8 0 1 0 -2.6 0zM603.1 258.1a2.4 2.4 63 1 0 2.2 4.4a2.4 2.4 63 1 0 -2.2 -4.4zM618.2 304.5a1.1 1 0 1 0 2.2 0a1.1 1 0 1 0 -2.2 0z" fill="#8a929c"/>
<path d="M612.4 416.2a2.6 1.5 174 1 0 -5.2 .6a2.6 1.5 174 1 0 5.2 -.6zM695.5 339.7a1.2 1.2 0 1 0 2.4 0a1.2 1.2 0 1 0 -2.4 0zM740.6 424.7a1 .6 0 1 0 2 0a1 .6 0 1 0 -2 0zM713.3 298.8a1 .7 0 1 0 2 0a1 .7 0 1 0 -2 0zM686.7 331.9a1 .6 0 1 0 2 0a1 .6 0 1 0 -2 0zM651 364.7a1 .7 0 1 0 2.1 0a1 .7 0 1 0 -2.1 0zM629.2 392.2a1.8 1.5 0 1 0 3.5 0a1.8 1.5 0 1 0 -3.5 0zM620.5 435.3a2.5 1.8 59 1 0 2.5 4.2a2.5 1.8 59 1 0 -2.5 -4.2zM695.8 283.3a1.4 1.3 0 1 0 2.8 0a1.4 1.3 0 1 0 -2.8 0zM669.1 419.7a3.6 3.1 50 1 0 4.7 5.5a3.6 3.1 50 1 0 -4.7 -5.5zM689.9 347.7a1.2 1.2 0 1 0 2.5 0a1.2 1.2 0 1 0 -2.5 0zM658.4 409.6a4 2.4 130 1 0 -5.2 6.2a4 2.4 130 1 0 5.2 -6.2zM717.9 436.8a1.3 .9 0 1 0 2.5 0a1.3 .9 0 1 0 -2.5 0zM621.4 283.6a2.8 2.8 17 1 0 5.3 1.6a2.8 2.8 17 1 0 -5.3 -1.6zM712.3 408.4a3.4 2.5 158 1 0 -6.3 2.5a3.4 2.5 158 1 0 6.3 -2.5zM604.1 272.5a2.3 1.7 135 1 0 -3.3 3.3a2.3 1.7 135 1 0 3.3 -3.3zM602.7 451.3a4.3 2.5 77 1 0 1.9 8.5a4.3 2.5 77 1 0 -1.9 -8.5zM667.4 452.2a1.1 .9 0 1 0 2.3 0a1.1 .9 0 1 0 -2.3 0zM657.9 409.6a1.9 1.9 0 1 0 3.8 0a1.9 1.9 0 1 0 -3.8 0zM653.7 265.2a2.1 1.7 169 1 0 -4.1 .8a2.1 1.7 169 1 0 4.1 -.8zM714.8 258.3a1 .9 0 1 0 2 0a1 .9 0 1 0 -2 0zM727.2 412.5a3.5 3.3 115 1 0 -3 6.3a3.5 3.3 115 1 0 3 -6.3zM740.4 345.2a1.1 .6 0 1 0 2.2 0a1.1 .6 0 1 0 -2.2 0zM723.7 305.4a2.7 2 16 1 0 5.2 1.5a2.7 2 16 1 0 -5.2 -1.5zM657.4 243.4a1.3 1.1 0 1 0 2.5 0a1.3 1.1 0 1 0 -2.5 0zM720.4 373.3a1.1 .9 0 1 0 2.1 0a1.1 .9 0 1 0 -2.1 0zM731.8 354.7a1.8 1.3 0 1 0 3.6 0a1.8 1.3 0 1 0 -3.6 0zM716.1 287.6a2.4 1.9 18 1 0 4.5 1.4a2.4 1.9 18 1 0 -4.5 -1.4zM631.9 305.2a1.2 .7 0 1 0 2.4 0a1.2 .7 0 1 0 -2.4 0zM599.5 435.9a1.3 1 0 1 0 2.5 0a1.3 1 0 1 0 -2.5 0zM743.5 343a1.1 .7 0 1 0 2.2 0a1.1 .7 0 1 0 -2.2 0zM742.1 249.2a1.4 1.3 0 1 0 2.9 0a1.4 1.3 0 1 0 -2.9 0zM627.4 342a1.2 .9 0 1 0 2.5 0a1.2 .9 0 1 0 -2.5 0zM737.7 286.3a2.1 1.8 156 1 0 -3.9 1.7a2.1 1.8 156 1 0 3.9 -1.7zM634.2 420.4a3.8 2.8 7 1 0 7.6 .9a3.8 2.8 7 1 0 -7.6 -.9zM615.4 350.5a1.2 .9 0 1 0 2.5 0a1.2 .9 0 1 0 -2.5 0zM612.9 249.2a1.1 1 0 1 0 2.2 0a1.1 1 0 1 0 -2.2 0zM716.6 272a1 .6 0 1 0 2.1 0a1 .6 0 1 0 -2.1 0zM671.2 327.9a1.2 1 0 1 0 2.5 0a1.2 1 0 1 0 -2.5 0zM745.7 400.9a1.3 1.1 0 1 0 2.5 0a1.3 1.1 0 1 0 -2.5 0zM719.1 329.2a1.5 1.2 0 1 0 3.1 0a1.5 1.2 0 1 0 -3.1 0zM704.6 385.9a1.3 1.3 0 1 0 2.7 0a1.3 1.3 0 1 0 -2.7 0zM646.2 386.2a2.2 2.2 179 1 0 -4.4 .1a2.2 2.2 179 1 0 4.4 -.1zM653.7 420.1a2.4 2.1 12 1 0 4.7 1a2.4 2.1 12 1 0 -4.7 -1zM664.5 326.1a2.2 1.4 38 1 0 3.5 2.7a2.2 1.4 38 1 0 -3.5 -2.7zM658.1 257.1a1.1 .7 0 1 0 2.2 0a1.1 .7 0 1 0 -2.2 0zM646.5 344.4a2.3 2.2 102 1 0 -1 4.5a2.3 2.2 102 1 0 1 -4.5zM706.9 333.8a2.1 1.7 164 1 0 -4 1.2a2.1 1.7 164 1 0 4 -1.2zM690.9 265.8a2.3 1.9 166 1 0 -4.5 1.1a2.3 1.9 166 1 0 4.5 -1.1zM668.4 257.2a1.4 1.2 0 1 0 2.9 0a1.4 1.2 0 1 0 -2.9 0zM675.3 363a3 2.3 15 1 0 5.7 1.5a3 2.3 15 1 0 -5.7 -1.5zM628.7 256.7a1.2 1 0 1 0 2.3 0a1.2 1 0 1 0 -2.3 0zM657.8 357.7a1.6 1.1 0 1 0 3.2 0a1.6 1.1 0 1 0 -3.2 0zM630.5 419.1a3.3 3.3 123 1 0 -3.6 5.5a3.3 3.3 123 1 0 3.6 -5.5zM698.6 388.4a4.3 3 164 1 0 -8.3 2.4a4.3 3 164 1 0 8.3 -2.4zM710.3 359.4a2.3 2.2 45 1 0 3.2 3.3a2.3 2.2 45 1 0 -3.2 -3.3zM634.3 373.7a1.1 .8 0 1 0 2.2 0a1.1 .8 0 1 0 -2.2 0zM664 351.5a4.5 3.6 63 1 0 4 8a4.5 3.6 63 1 0 -4 -8zM661.6 415.8a2 1.7 40 1 0 3.1 2.6a2 1.7 40 1 0 -3.1 -2.6zM722.6 352.5a4.4 2.6 2 1 0 8.8 .4a4.4 2.6 2 1 0 -8.8 -.4zM629 253.7a2.2 1.6 101 1 0 -.8 4.4a2.2 1.6 101 1 0 .8 -4.4zM625.6 246.5a1 .8 0 1 0 2.1 0a1 .8 0 1 0 -2.1 0zM633.3 395.9a1.1 .8 0 1 0 2.2 0a1.1 .8 0 1 0 -2.2 0zM633.6 300.7a3 2.6 121 1 0 -3 5.1a3 2.6 121 1 0 3 -5.1zM653.4 355.7a1 .6 0 1 0 2 0a1 .6 0 1 0 -2 0zM651.4 311.9a1 .8 0 1 0 2.1 0a1 .8 0 1 0 -2.1 0zM725.6 318.9a2 1.9 0 1 0 3.9 0a2 1.9 0 1 0 -3.9 0zM665.1 347.2a3.1 2.3 87 1 0 .3 6.2a3.1 2.3 87 1 0 -.3 -6.2zM627.5 335.4a2 1.2 60 1 0 2 3.5a2 1.2 60 1 0 -2 -3.5zM688.6 405.7a2.2 2.1 73 1 0 1.3 4.2a2.2 2.1 73 1 0 -1.3 -4.2zM643.2 247.6a1.3 .9 0 1 0 2.6 0a1.3 .9 0 1 0 -2.6 0zM621.3 454.8a2.1 2 136 1 0 -3 2.9a2.1 2 136 1 0 3 -2.9zM742.6 277.4a2.4 2.2 38 1 0 3.7 2.9a2.4 2.2 38 1 0 -3.7 -2.9zM613.2 275.9a1.1 1 0 1 0 2.2 0a1.1 1 0 1 0 -2.2 0zM666.5 413a1.2 1.1 0 1 0 2.3 0a1.2 1.1 0 1 0 -2.3 0zM683.9 446.6a4.3 2.7 36 1 0 6.9 5a4.3 2.7 36 1 0 -6.9 -5zM712.2 347.4a3 2.8 131 1 0 -3.9 4.6a3 2.8 131 1 0 3.9 -4.6zM731.4 297.4a1 1 0 1 0 2 0a1 1 0 1 0 -2 0zM742.5 286.1a1.1 1.1 0 1 0 2.2 0a1.1 1.1 0 1 0 -2.2 0zM702.8 318.5a2.1 1.2 130 1 0 -2.7 3.2a2.1 1.2 130 1 0 2.7 -3.2zM629.1 288.3a1.4 1.2 0 1 0 2.7 0a1.4 1.2 0 1 0 -2.7 0zM675.7 289.3a1 .7 0 1 0 2 0a1 .7 0 1 0 -2 0zM693.7 434a4.7 4.5 46 1 0 6.6 6.7a4.7 4.5 46 1 0 -6.6 -6.7zM636.3 374.5a1 .9 0 1 0 2 0a1 .9 0 1 0 -2 0zM710 293.6a3 2.6 62 1 0 2.8 5.4a3 2.6 62 1 0 -2.8 -5.4zM723.7 417.7a4.6 3.8 112 1 0 -3.5 8.6a4.6 3.8 112 1 0 3.5 -8.6zM711.6 337.3a1 .9 0 1 0 2.1 0a1 .9 0 1 0 -2.1 0zM650.2 242.3a1.1 .8 0 1 0 2.2 0a1.1 .8 0 1 0 -2.2 0zM601 351.9a2.8 2 110 1 0 -1.8 5.2a2.8 2 110 1 0 1.8 -5.2zM746.8 431.2a2.7 2.5 167 1 0 -5.3 1.2a2.7 2.5 167 1 0 5.3 -1.2zM619.9 253.3a3 2.9 98 1 0 -.8 5.9a3 2.9 98 1 0 .8 -5.9zM709.1 242.1a1 .7 0 1 0 2.1 0a1 .7 0 1 0 -2.1 0zM694.3 418.3a3 2.3 83 1 0 .7 6a3 2.3 83 1 0 -.7 -6zM661.7 376.5a3.2 2.6 49 1 0 4.2 4.8a3.2 2.6 49 1 0 -4.2 -4.8zM689.6 400.4a3.3 2.6 178 1 0 -6.5 .3a3.3 2.6 178 1 0 6.5 -.3zM621 260.6a1.9 1.4 0 1 0 3.7 0a1.9 1.4 0 1 0 -3.7 0zM611.6 430.1a1.2 .7 0 1 0 2.5 0a1.2 .7 0 1 0 -2.5 0zM719.3 441.5a1.1 .9 0 1 0 2.2 0a1.1 .9 0 1 0 -2.2 0zM699.2 417.6a1 .8 0 1 0 2.1 0a1 .8 0 1 0 -2.1 0zM645.7 277.1a1 .8 0 1 0 2 0a1 .8 0 1 0 -2 0zM722.7 369.6a2.2 2.1 25 1 0 4 1.9a2.2 2.1 25 1 0 -4 -1.9zM601.7 358.7a1.7 1.6 0 1 0 3.4 0a1.7 1.6 0 1 0 -3.4 0zM747 293.3a2.4 1.4 98 1 0 -.7 4.8a2.4 1.4 98 1 0 .7 -4.8zM642.9 347.4a2.8 2.8 154 1 0 -5 2.5a2.8 2.8 154 1 0 5 -2.5zM667.2 287.6a1 .6 0 1 0 2 0a1 .6 0 1 0 -2 0zM596.4 272.4a1.9 1.9 0 1 0 3.8 0a1.9 1.9 0 1 0 -3.8 0zM726.8 309a2.5 2.4 175 1 0 -4.9 .5a2.5 2.4 175 1 0 4.9 -.5zM698.5 282.1a1 .7 0 1 0 2.1 0a1 .7 0 1 0 -2.1 0zM712.4 285a1.3 .8 0 1 0 2.5 0a1.3 .8 0 1 0 -2.5 0zM623.6 334.7a3.2 2.5 144 1 0 -5.1 3.7a3.2 2.5 144 1 0 5.1 -3.7zM701.3 347.8a2.2 2.1 86 1 0 .3 4.4a2.2 2.1 86 1 0 -.3 -4.4zM659.9 382a1.1 1 0 1 0 2.2 0a1.1 1 0 1 0 -2.2 0zM657 394.5a1.8 1.1 0 1 0 3.7 0a1.8 1.1 0 1 0 -3.7 0zM644 332.6a1.7 1.5 0 1 0 3.3 0a1.7 1.5 0 1 0 -3.3 0zM600.6 367.8a2.1 1.5 56 1 0 2.3 3.5a2.1 1.5 56 1 0 -2.3 -3.5zM699.7 365.2a1.1 .9 0 1 0 2.2 0a1.1 .9 0 1 0 -2.2 0zM711.7 350.9a1.2 .8 0 1 0 2.4 0a1.2 .8 0 1 0 -2.4 0zM729 359.1a1.9 1.4 0 1 0 3.8 0a1.9 1.4 0 1 0 -3.8 0zM725.9 441.6a1.5 1.1 0 1 0 3 0a1.5 1.1 0 1 0 -3 0zM676.2 242.9a1.3 .7 0 1 0 2.5 0a1.3 .7 0 1 0 -2.5 0zM646.8 396.3a2.4 1.7 17 1 0 4.7 1.4a2.4 1.7 17 1 0 -4.7 -1.4zM638.4 273.9a1.3 1.3 0 1 0 2.7 0a1.3 1.3 0 1 0 -2.7 0zM722.8 244.3a1.5 1.1 0 1 0 3 0a1.5 1.1 0 1 0 -3 0zM656.3 311.8a1.3 1.2 0 1 0 2.6 0a1.3 1.2 0 1 0 -2.6 0zM738.5 425.4a2.6 1.5 30 1 0 4.4 2.6a2.6 1.5 30 1 0 -4.4 -2.6zM650.1 345.8a1.1 .9 0 1 0 2.1 0a1.1 .9 0 1 0 -2.1 0zM674.4 378.4a2.7 2.6 173 1 0 -5.4 .7a2.7 2.6 173 1 0 5.4 -.7zM743.2 283.8a2.1 1.5 101 1 0 -.8 4.1a2.1 1.5 101 1 0 .8 -4.1zM649.5 377.5a1.2 1.2 0 1 0 2.3 0a1.2 1.2 0 1 0 -2.3 0zM680.4 255.3a1.2 .8 0 1 0 2.3 0a1.2 .8 0 1 0 -2.3 0zM714.6 305a1.1 1.1 0 1 0 2.3 0a1.1 1.1 0 1 0 -2.3 0zM723.3 407.5a2.4 2 149 1 0 -4.1 2.5a2.4 2 149 1 0 4.1 -2.5zM635 306.7a1 .7 0 1 0 2 0a1 .7 0 1 0 -2 0zM651.7 252.1a2.4 2.1 33 1 0 4 2.6a2.4 2.1 33 1 0 -4 -2.6zM617.2 291.9a1.2 .9 0 1 0 2.4 0a1.2 .9 0 1 0 -2.4 0zM628.5 381.5a1.3 1 0 1 0 2.6 0a1.3 1 0 1 0 -2.6 0zM680.4 384a2 1.3 68 1 0 1.5 3.8a2 1.3 68 1 0 -1.5 -3.8zM688.1 322.9a2.9 2.2 138 1 0 -4.4 3.9a2.9 2.2 138 1 0 4.4 -3.9zM666.5 377.2a1 .8 0 1 0 2 0a1 .8 0 1 0 -2 0zM610.5 397.5a2.8 2.6 115 1 0 -2.3 5a2.8 2.6 115 1 0 2.3 -5zM705.6 453.4a1.1 .7 0 1 0 2.2 0a1.1 .7 0 1 0 -2.2 0zM640.4 408.9a1.5 .9 0 1 0 2.9 0a1.5 .9 0 1 0 -2.9 0zM615.6 445.8a2.6 1.5 116 1 0 -2.3 4.7a2.6 1.5 116 1 0 2.3 -4.7zM719.4 444.5a2.1 1.7 94 1 0 -.3 4.1a2.1 1.7 94 1 0 .3 -4.1zM738.4 330.9a1.6 1.5 0 1 0 3.1 0a1.6 1.5 0 1 0 -3.1 0zM711.6 336.9a1.5 1.3 0 1 0 3 0a1.5 1.3 0 1 0 -3 0zM727.1 276.5a1.3 1.3 0 1 0 2.6 0a1.3 1.3 0 1 0 -2.6 0zM623.2 437.9a3.4 3.2 17 1 0 6.4 1.9a3.4 3.2 17 1 0 -6.4 -1.9zM720.8 327.1a1.4 1.2 0 1 0 2.8 0a1.4 1.2 0 1 0 -2.8 0zM709.3 259.5a1.4 1.3 0 1 0 2.9 0a1.4 1.3 0 1 0 -2.9 0zM713.2 434.9a3.4 2.2 8 1 0 6.7 1a3.4 2.2 8 1 0 -6.7 -1zM665.9 316a1 .6 0 1 0 2 0a1 .6 0 1 0 -2 0zM718.5 281.2a1 .7 0 1 0 2 0a1 .7 0 1 0 -2 0zM733.6 341.7a2 1.1 0 1 0 3.9 0a2 1.1 0 1 0 -3.9 0zM677.7 301.2a1 .8 0 1 0 2 0a1 .8 0 1 0 -2 0zM698.3 303.4a3.3 2.8 153 1 0 -5.9 3a3.3 2.8 153 1 0 5.9 -3zM645.3 402.1a1.1 1 0 1 0 2.3 0a1.1 1 0 1 0 -2.3 0zM652.2 320.1a1 .6 0 1 0 2 0a1 .6 0 1 0 -2 0zM661 408.9a3.6 2.5 38 1 0 5.7 4.5a3.6 2.5 38 1 0 -5.7 -4.5zM713.1 294.8a1.4 1.2 0 1 0 2.8 0a1.4 1.2 0 1 0 -2.8 0zM623.8 270.1a2.5 2.5 35 1 0 4.1 2.9a2.5 2.5 35 1 0 -4.1 -2.9zM615.1 242.2a1 .7 0 1 0 2 0a1 .7 0 1 0 -2 0zM603.6 281.6a1.2 .7 0 1 0 2.3 0a1.2 .7 0 1 0 -2.3 0zM683.5 336.1a1.1 .7 0 1 0 2.2 0a1.1 .7 0 1 0 -2.2 0zM647.6 439.8a1 .8 0 1 0 2.1 0a1 .8 0 1 0 -2.1 0zM673.4 273.1a1 1 0 1 0 2 0a1 1 0 1 0 -2 0zM644.4 278.5a1.8 1.6 0 1 0 3.5 0a1.8 1.6 0 1 0 -3.5 0zM725.3 404.7a1.4 1 0 1 0 2.8 0a1.4 1 0 1 0 -2.8 0zM706.2 397.1a2.5 1.6 143 1 0 -3.9 3a2.5 1.6 143 1 0 3.9 -3zM615.6 241.8a1.7 1.4 0 1 0 3.4 0a1.7 1.4 0 1 0 -3.4 0zM712 335a3.7 3.2 143 1 0 -5.9 4.4a3.7 3.2 143 1 0 5.9 -4.4zM722.6 442.2a3 2.5 101 1 0 -1.2 6a3 2.5 101 1 0 1.2 -6zM651.6 400.7a2.6 2.1 66 1 0 2.1 4.7a2.6 2.1 66 1 0 -2.1 -4.7zM738.4 361.4a2.2 1.8 175 1 0 -4.4 .4a2.2 1.8 175 1 0 4.4 -.4zM647.8 304.8a1 .7 0 1 0 2 0a1 .7 0 1 0 -2 0zM738.9 292.2a1.3 1.2 0 1 0 2.6 0a1.3 1.2 0 1 0 -2.6 0zM664.3 319a2.6 2.2 174 1 0 -5.1 .5a2.6 2.2 174 1 0 5.1 -.5zM596.9 350.6a3.6 2.8 70 1 0 2.5 6.8a3.6 2.8 70 1 0 -2.5 -6.8zM721 316.5a2 1.5 0 1 0 3.9 0a2 1.5 0 1 0 -3.9 0zM626.7 268.8a1.6 1 0 1 0 3.3 0a1.6 1 0 1 0 -3.3 0zM613.5 392.7a1.8 1.7 0 1 0 3.6 0a1.8 1.7 0 1 0 -3.6 0zM701.6 278.5a3.3 1.9 74 1 0 1.9 6.4a3.3 1.9 74 1 0 -1.9 -6.4zM730.6 305a2.9 2.1 158 1 0 -5.3 2.1a2.9 2.1 158 1 0 5.3 -2.1zM685.1 325.4a3.9 2.5 3 1 0 7.9 .4a3.9 2.5 3 1 0 -7.9 -.4zM718.5 262.3a1.1 .8 0 1 0 2.3 0a1.1 .8 0 1 0 -2.3 0zM716.5 277.4a1.1 .8 0 1 0 2.2 0a1.1 .8 0 1 0 -2.2 0zM678 292a1.3 1.3 0 1 0 2.6 0a1.3 1.3 0 1 0 -2.6 0zM738.1 453.3a4 3.8 72 1 0 2.5 7.7a4 3.8 72 1 0 -2.5 -7.7zM736 431.4a1.1 .6 0 1 0 2.1 0a1.1 .6 0 1 0 -2.1 0zM607.7 387.6a1.2 1.1 0 1 0 2.3 0a1.2 1.1 0 1 0 -2.3 0zM715.8 370.9a1.2 1.1 0 1 0 2.3 0a1.2 1.1 0 1 0 -2.3 0zM644.5 247.2a1.7 1.4 0 1 0 3.4 0a1.7 1.4 0 1 0 -3.4 0zM645.7 329.1a1.3 1.2 0 1 0 2.5 0a1.3 1.2 0 1 0 -2.5 0zM611.9 248.4a1.4 1.3 0 1 0 2.7 0a1.4 1.3 0 1 0 -2.7 0zM652.9 316.2a2.1 1.2 152 1 0 -3.7 2a2.1 1.2 152 1 0 3.7 -2zM600.2 338.8a2.6 1.5 174 1 0 -5.2 .5a2.6 1.5 174 1 0 5.2 -.5zM696.2 245.3a1.7 1.3 0 1 0 3.4 0a1.7 1.3 0 1 0 -3.4 0zM675.1 399a1.5 1 0 1 0 2.9 0a1.5 1 0 1 0 -2.9 0zM674.2 306.5a3.2 2.4 65 1 0 2.7 5.7a3.2 2.4 65 1 0 -2.7 -5.7zM710.6 449.1a2.2 1.8 173 1 0 -4.3 .5a2.2 1.8 173 1 0 4.3 -.5zM726.2 352.7a1 .7 0 1 0 2 0a1 .7 0 1 0 -2 0zM640.1 321.4a2.3 2.1 111 1 0 -1.6 4.3a2.3 2.1 111 1 0 1.6 -4.3zM746.4 241.8a1.1 .8 0 1 0 2.3 0a1.1 .8 0 1 0 -2.3 0zM679.7 263.6a3.4 2.4 85 1 0 .5 6.8a3.4 2.4 85 1 0 -.5 -6.8zM612.7 356.3a1.2 .8 0 1 0 2.4 0a1.2 .8 0 1 0 -2.4 0zM673.4 317a1.1 .7 0 1 0 2.2 0a1.1 .7 0 1 0 -2.2 0zM741.8 454.5a3.9 3.2 8 1 0 7.7 1.1a3.9 3.2 8 1 0 -7.7 -1.1zM662.7 252.1a1.2 1.1 0 1 0 2.4 0a1.2 1.1 0 1 0 -2.4 0zM614.5 452.8a1.3 1.1 0 1 0 2.6 0a1.3 1.1 0 1 0 -2.6 0zM632.5 279.3a1.6 1.5 0 1 0 3.2 0a1.6 1.5 0 1 0 -3.2 0zM649.9 263.2a2.9 2.2 8 1 0 5.8 .8a2.9 2.2 8 1 0 -5.8 -.8zM667.1 429.8a4.1 3.1 176 1 0 -8.1 .6a4.1 3.1 176 1 0 8.1 -.6zM618.9 408a1 1 0 1 0 2 0a1 1 0 1 0 -2 0zM649.6 438.7a1.6 1.3 0 1 0 3.2 0a1.6 1.3 0 1 0 -3.2 0zM631.6 286.3a1.4 1.1 0 1 0 2.9 0a1.4 1.1 0 1 0 -2.9 0zM704.3 299.9a3.7 3.2 76 1 0 1.9 7.2a3.7 3.2 76 1 0 -1.9 -7.2zM649.9 282.8a2.8 1.6 24 1 0 5.1 2.3a2.8 1.6 24 1 0 -5.1 -2.3zM597.6 293.4a1.2 1 0 1 0 2.4 0a1.2 1 0 1 0 -2.4 0zM652.8 289.5a1.3 1 0 1 0 2.6 0a1.3 1 0 1 0 -2.6 0zM679.7 382.5a1.8 1.3 0 1 0 3.5 0a1.8 1.3 0 1 0 -3.5 0zM611.1 290.2a1.5 .9 0 1 0 3 0a1.5 .9 0 1 0 -3 0zM612.5 358.8a1 .6 0 1 0 2 0a1 .6 0 1 0 -2 0zM674.3 367.8a4.3 3.1 97 1 0 -1 8.5a4.3 3.1 97 1 0 1 -8.5zM682.2 329a1.9 1.9 0 1 0 3.8 0a1.9 1.9 0 1 0 -3.8 0zM639.5 249a1.2 1.1 0 1 0 2.4 0a1.2 1.1 0 1 0 -2.4 0zM658.3 401a1 .7 0 1 0 2 0a1 .7 0 1 0 -2 0zM684.6 353.2a1 .6 0 1 0 2 0a1 .6 0 1 0 -2 0zM648.6 437.9a1 .7 0 1 0 2 0a1 .7 0 1 0 -2 0zM681.7 278a1.4 .8 0 1 0 2.7 0a1.4 .8 0 1 0 -2.7 0zM619.4 358.6a1.8 1.3 0 1 0 3.5 0a1.8 1.3 0 1 0 -3.5 0zM747.2 425.9a3.9 3.8 158 1 0 -7.3 3a3.9 3.8 158 1 0 7.3 -3zM610.3 266.7a1.3 1.3 0 1 0 2.5 0a1.3 1.3 0 1 0 -2.5 0zM668.3 350.8a1.1 1 0 1 0 2.2 0a1.1 1 0 1 0 -2.2 0zM716.5 267.8a1.9 1.3 0 1 0 3.8 0a1.9 1.3 0 1 0 -3.8 0zM737.8 352.6a2.2 1.4 7 1 0 4.3 .5a2.2 1.4 7 1 0 -4.3 -.5zM618.2 372.1a4.4 3.8 110 1 0 -3 8.3a4.4 3.8 110 1 0 3 -8.3zM706.8 308a1.4 1 0 1 0 2.7 0a1.4 1 0 1 0 -2.7 0zM744.2 324.7a2.6 2.2 123 1 0 -2.8 4.3a2.6 2.2 123 1 0 2.8 -4.3zM629.8 455.9a2.4 1.8 157 1 0 -4.5 1.9a2.4 1.8 157 1 0 4.5 -1.9zM665.9 357.9a2.5 1.7 147 1 0 -4.3 2.8a2.5 1.7 147 1 0 4.3 -2.8zM623.6 386a1.1 .7 0 1 0 2.3 0a1.1 .7 0 1 0 -2.3 0zM664.9 373.1a1.1 .9 0 1 0 2.2 0a1.1 .9 0 1 0 -2.2 0zM699.1 390.9a1 .9 0 1 0 2 0a1 .9 0 1 0 -2 0zM725.8 356.5a2.9 2.2 176 1 0 -5.8 .4a2.9 2.2 176 1 0 5.8 -.4zM714.1 366.3a4.2 2.9 33 1 0 7 4.6a4.2 2.9 33 1 0 -7 -4.6zM740.8 452.2a4.3 2.5 151 1 0 -7.5 4.1a4.3 2.5 151 1 0 7.5 -4.1zM736.8 240.9a2.1 1.4 22 1 0 3.8 1.6a2.1 1.4 22 1 0 -3.8 -1.6zM649.5 354.6a1 .6 0 1 0 2 0a1 .6 0 1 0 -2 0zM735.9 433.7a2.4 2.1 118 1 0 -2.3 4.3a2.4 2.1 118 1 0 2.3 -4.3zM697.5 328.6a1.1 .7 0 1 0 2.1 0a1.1 .7 0 1 0 -2.1 0zM686.8 318.8a2.3 2 74 1 0 1.2 4.4a2.3 2 74 1 0 -1.2 -4.4zM661.4 377.7a2.9 1.7 161 1 0 -5.5 1.9a2.9 1.7 161 1 0 5.5 -1.9zM598.2 417a1.2 1.1 0 1 0 2.3 0a1.2 1.1 0 1 0 -2.3 0zM669.2 266.8a2.1 1.7 128 1 0 -2.6 3.3a2.1 1.7 128 1 0 2.6 -3.3zM666.1 324.7a3.6 3.5 8 1 0 7.1 1a3.6 3.5 8 1 0 -7.1 -1zM740 408.4a1 .6 0 1 0 2 0a1 .6 0 1 0 -2 0zM628.1 432.5a2.4 2.4 33 1 0 4.1 2.6a2.4 2.4 33 1 0 -4.1 -2.6zM660 446.5a2.2 1.5 107 1 0 -1.3 4.2a2.2 1.5 107 1 0 1.3 -4.2zM618.6 374.3a1.5 1.4 0 1 0 3 0a1.5 1.4 0 1 0 -3 0zM715.9 321.8a1.9 1.1 0 1 0 3.7 0a1.9 1.1 0 1 0 -3.7 0zM670 451.3a4 3.3 18 1 0 7.7 2.4a4 3.3 18 1 0 -7.7 -2.4zM626.5 399.5a3.9 3.2 123 1 0 -4.2 6.6a3.9 3.2 123 1 0 4.2 -6.6zM672.9 438.4a3.4 2.6 106 1 0 -1.9 6.6a3.4 2.6 106 1 0 1.9 -6.6zM694.7 328.7a1 .9 0 1 0 2.1 0a1 .9 0 1 0 -2.1 0zM739.6 420.6a1.5 1.4 0 1 0 3 0a1.5 1.4 0 1 0 -3 0zM698.1 242.7a1.3 1.1 0 1 0 2.7 0a1.3 1.1 0 1 0 -2.7 0zM638.6 406.8a2.7 1.7 4 1 0 5.3 .4a2.7 1.7 4 1 0 -5.3 -.4zM660.2 290.8a2.9 2.2 151 1 0 -5.1 2.9a2.9 2.2 151 1 0 5.1 -2.9zM678.6 258.6a2.1 1.5 114 1 0 -1.8 3.9a2.1 1.5 114 1 0 1.8 -3.9zM698.2 253.8a1 .9 0 1 0 2 0a1 .9 0 1 0 -2 0zM714.3 253.6a2 1.3 0 1 0 4 0a2 1.3 0 1 0 -4 0zM730.1 287.3a3 2.8 67 1 0 2.3 5.4a3 2.8 67 1 0 -2.3 -5.4zM722 382a1 .6 0 1 0 2.1 0a1 .6 0 1 0 -2.1 0zM697.7 299.6a2.1 1.9 36 1 0 3.4 2.5a2.1 1.9 36 1 0 -3.4 -2.5zM638.9 255a2.1 1.7 89 1 0 0 4.1a2.1 1.7 89 1 0 -0 -4.1zM686.4 453.5a3.9 2.2 135 1 0 -5.5 5.5a3.9 2.2 135 1 0 5.5 -5.5zM654.9 335a2.2 2 143 1 0 -3.5 2.7a2.2 2 143 1 0 3.5 -2.7zM712.2 253.1a1.8 1.7 0 1 0 3.7 0a1.8 1.7 0 1 0 -3.7 0zM623.8 345.9a1.5 .9 0 1 0 3 0a1.5 .9 0 1 0 -3 0zM633.5 292.6a1.4 1.1 0 1 0 2.7 0a1.4 1.1 0 1 0 -2.7 0zM717.8 373.4a1.8 1.7 0 1 0 3.5 0a1.8 1.7 0 1 0 -3.5 0zM717.6 378a2.8 1.7 95 1 0 -.5 5.6a2.8 1.7 95 1 0 .5 -5.6zM631.3 424.2a2.7 2.1 99 1 0 -.9 5.3a2.7 2.1 99 1 0 .9 -5.3zM656.8 316.3a1.3 1.2 0 1 0 2.6 0a1.3 1.2 0 1 0 -2.6 0zM714.9 385.4a3 2 50 1 0 3.9 4.6a3 2 50 1 0 -3.9 -4.6zM710.6 248.6a1.8 1.3 0 1 0 3.6 0a1.8 1.3 0 1 0 -3.6 0zM740.2 368.8a2.1 1.7 90 1 0 -0 4.2a2.1 1.7 90 1 0 0 -4.2zM699.5 341.7a1.2 .9 0 1 0 2.4 0a1.2 .9 0 1 0 -2.4 0zM703.8 424.4a4.5 2.9 19 1 0 8.5 3a4.5 2.9 19 1 0 -8.5 -3zM646.1 266.9a1.6 .9 0 1 0 3.2 0a1.6 .9 0 1 0 -3.2 0zM747.3 371.4a2.4 2.1 139 1 0 -3.6 3.1a2.4 2.1 139 1 0 3.6 -3.1zM643.7 315.9a3.4 3 8 1 0 6.7 .9a3.4 3 8 1 0 -6.7 -.9zM746 312.7a1.3 1.2 0 1 0 2.6 0a1.3 1.2 0 1 0 -2.6 0zM618.3 384.9a3.2 2.3 72 1 0 2 6.1a3.2 2.3 72 1 0 -2 -6.1zM636.8 354.2a3.4 2 12 1 0 6.7 1.4a3.4 2 12 1 0 -6.7 -1.4zM603.8 337.9a3.8 3.7 12 1 0 7.5 1.5a3.8 3.7 12 1 0 -7.5 -1.5zM714.1 401.5a3.6 2.8 179 1 0 -7.3 .1a3.6 2.8 179 1 0 7.3 -.1zM640.7 304.2a1.8 1.5 0 1 0 3.6 0a1.8 1.5 0 1 0 -3.6 0zM641.6 435.5a1.3 1.1 0 1 0 2.6 0a1.3 1.1 0 1 0 -2.6 0zM605.5 316.2a3.5 2.5 169 1 0 -6.9 1.3a3.5 2.5 169 1 0 6.9 -1.3zM667.1 281.9a1 .8 0 1 0 2 0a1 .8 0 1 0 -2 0zM637.8 377.3a2.1 1.4 141 1 0 -3.2 2.6a2.1 1.4 141 1 0 3.2 -2.6zM664 423.3a1.5 1.1 0 1 0 3 0a1.5 1.1 0 1 0 -3 0zM632.3 280a1.1 .9 0 1 0 2.3 0a1.1 .9 0 1 0 -2.3 0zM698.1 327.3a1 .7 0 1 0 2 0a1 .7 0 1 0 -2 0zM737.4 387.2a2.3 1.7 76 1 0 1.1 4.5a2.3 1.7 76 1 0 -1.1 -4.5zM707.9 411.2a3 1.9 50 1 0 3.8 4.5a3 1.9 50 1 0 -3.8 -4.5zM738.2 333.2a1.2 1.2 0 1 0 2.4 0a1.2 1.2 0 1 0 -2.4 0zM696.7 421.7a3.1 1.8 97 1 0 -.8 6.2a3.1 1.8 97 1 0 .8 -6.2zM614.3 256.8a2.2 1.4 53 1 0 2.7 3.5a2.2 1.4 53 1 0 -2.7 -3.5zM613.2 351.5a1.8 1.7 0 1 0 3.6 0a1.8 1.7 0 1 0 -3.6 0zM661 323.3a3.6 3.5 64 1 0 3.2 6.4a3.6 3.5 64 1 0 -3.2 -6.4zM724 329.9a1.4 .8 0 1 0 2.7 0a1.4 .8 0 1 0 -2.7 0zM668 250.2a1 .9 0 1 0 2 0a1 .9 0 1 0 -2 0zM740.4 372a4.3 3.6 159 1 0 -8 3.1a4.3 3.6 159 1 0 8 -3.1zM613.7 390.6a2.5 1.9 143 1 0 -4 3a2.5 1.9 143 1 0 4 -3zM704.2 385.4a1.3 1.1 0 1 0 2.5 0a1.3 1.1 0 1 0 -2.5 0zM594.4 295.8a1.8 1.2 0 1 0 3.5 0a1.8 1.2 0 1 0 -3.5 0zM640.7 398.8a1.7 1.7 0 1 0 3.5 0a1.7 1.7 0 1 0 -3.5 0zM695.2 352.8a1.6 1.4 0 1 0 3.2 0a1.6 1.4 0 1 0 -3.2 0zM611.4 337.6a1.3 1.2 0 1 0 2.7 0a1.3 1.2 0 1 0 -2.7 0zM677.4 326.5a1.9 1.7 0 1 0 3.8 0a1.9 1.7 0 1 0 -3.8 0zM744.4 420.3a1.9 1.8 0 1 0 3.9 0a1.9 1.8 0 1 0 -3.9 0zM613.8 425.6a1.1 .9 0 1 0 2.2 0a1.1 .9 0 1 0 -2.2 0zM707.4 381.4a1 .9 0 1 0 2.1 0a1 .9 0 1 0 -2.1 0zM620.5 435.1a1.1 .6 0 1 0 2.2 0a1.1 .6 0 1 0 -2.2 0zM668.4 401.1a1.2 .8 0 1 0 2.4 0a1.2 .8 0 1 0 -2.4 0zM722.8 311a1.8 1.2 0 1 0 3.6 0a1.8 1.2 0 1 0 -3.6 0zM735.8 363.3a2 1.3 170 1 0 -4 .7a2 1.3 170 1 0 4 -.7zM636 365.6a1.6 1 0 1 0 3.3 0a1.6 1 0 1 0 -3.3 0zM634.8 343.5a1 .7 0 1 0 2.1 0a1 .7 0 1 0 -2.1 0zM617.3 316.8a2.3 1.8 159 1 0 -4.4 1.6a2.3 1.8 159 1 0 4.4 -1.6zM608.2 364.8a1 .9 0 1 0 2 0a1 .9 0 1 0 -2 0zM701.8 244.3a1.9 1.3 0 1 0 3.8 0a1.9 1.3 0 1 0 -3.8 0zM594.9 286.5a1.3 .8 0 1 0 2.6 0a1.3 .8 0 1 0 -2.6 0zM600.6 364.1a1.3 1.3 0 1 0 2.6 0a1.3 1.3 0 1 0 -2.6 0zM689.4 309.5a1 1 0 1 0 2 0a1 1 0 1 0 -2 0zM619.2 360.5a3.5 2.7 35 1 0 5.8 4.1a3.5 2.7 35 1 0 -5.8 -4.1zM601.8 417.8a1.9 1.3 0 1 0 3.8 0a1.9 1.3 0 1 0 -3.8 0zM672.2 314.9a1.1 .9 0 1 0 2.2 0a1.1 .9 0 1 0 -2.2 0zM645.8 379.6a1.5 1.2 0 1 0 3 0a1.5 1.2 0 1 0 -3 0zM728 319.8a2.9 1.9 137 1 0 -4.2 4a2.9 1.9 137 1 0 4.2 -4zM718.5 368.7a1 .9 0 1 0 2 0a1 .9 0 1 0 -2 0zM689.5 365.3a3.6 3.4 129 1 0 -4.5 5.5a3.6 3.4 129 1 0 4.5 -5.5zM600 325.4a1.3 .8 0 1 0 2.5 0a1.3 .8 0 1 0 -2.5 0zM731.6 281.2a1.6 1.4 0 1 0 3.2 0a1.6 1.4 0 1 0 -3.2 0zM723.5 331.4a3.4 2.4 172 1 0 -6.7 1a3.4 2.4 172 1 0 6.7 -1zM627.3 331.6a2.2 2 154 1 0 -4 1.9a2.2 2 154 1 0 4 -1.9zM618.3 451.4a1 .7 0 1 0 2 0a1 .7 0 1 0 -2 0zM743 313.9a1.2 1.1 0 1 0 2.4 0a1.2 1.1 0 1 0 -2.4 0zM706.6 397.4a2.9 2.8 71 1 0 1.9 5.5a2.9 2.8 71 1 0 -1.9 -5.5zM607.2 260.3a2.1 1.2 15 1 0 4 1.1a2.1 1.2 15 1 0 -4 -1.1zM716.4 373.5a2.7 2.2 111 1 0 -1.9 4.9a2.7 2.2 111 1 0 1.9 -4.9z" fill="#c0c3c6"/>
</g>
<rect x="596" y="240" width="152" height="218" fill="url(#gvgrad)"/>
<ellipse cx="624" cy="425" rx="34" ry="38" fill="url(#gvdark)"/>
</g>
<rect x="88" y="93" width="180" height="55" fill="#fff"/>
<text x="91.1" y="130.5" font-size="44.5" font-weight="bold" fill="#1d1d1b" textLength="18.1" lengthAdjust="spacingAndGlyphs">C</text>
<text x="110.8" y="130.5" font-size="44.5" font-weight="bold" fill="#1d1d1b" textLength="18.7" lengthAdjust="spacingAndGlyphs">R</text>
<text x="131.60000000000002" y="130.5" font-size="44.5" font-weight="bold" fill="#1d1d1b" textLength="18.6" lengthAdjust="spacingAndGlyphs">U</text>
<text x="151.3" y="130.5" font-size="44.5" font-weight="bold" fill="#1d1d1b" textLength="18.5" lengthAdjust="spacingAndGlyphs">S</text>
<text x="171.3" y="130.5" font-size="44.5" font-weight="bold" fill="#1d1d1b" textLength="20.2" lengthAdjust="spacingAndGlyphs">H</text>
<rect x="190.3" y="106.9" width="4.5" height="16.6" fill="#e2101e"/>
<rect x="190.3" y="113.3" width="10.5" height="3.8" fill="#e2101e"/>
<text x="200.2" y="130.5" font-size="44.5" fill="#1d1d1b" textLength="52.3" lengthAdjust="spacingAndGlyphs">SiZE</text>
<text x="174" y="143.2" font-size="11.8" fill="#b8303c" textLength="78.5" lengthAdjust="spacingAndGlyphs">TECHNOLOGY</text>
<rect x="84.6" y="175" width="160" height="113" fill="#fff" opacity="0.8"/>
<text x="91.3" y="188.79999999999998" font-size="8.8" fill="#1e1e1e" stroke="#1e1e1e" stroke-width="0.18" textLength="52.5" lengthAdjust="spacingAndGlyphs">Bemerkung:</text>
<line x1="91.3" y1="190.1" x2="143.8" y2="190.1" stroke="#333" stroke-width="0.75"/>
<text x="91.3" y="201.6" font-size="8.8" fill="#1e1e1e" stroke="#1e1e1e" stroke-width="0.18" textLength="90.7" lengthAdjust="spacingAndGlyphs">- Ein Durchgang ohne</text>
<text x="91.3" y="214.29999999999998" font-size="8.8" fill="#1e1e1e" stroke="#1e1e1e" stroke-width="0.18" textLength="78" lengthAdjust="spacingAndGlyphs">Kreislaufverfahren</text>
<text x="91.3" y="227.0" font-size="8.8" fill="#1e1e1e" stroke="#1e1e1e" stroke-width="0.18" textLength="107" lengthAdjust="spacingAndGlyphs">- Brechertyp: SGC 800-10</text>
<text x="91.3" y="239.7" font-size="8.8" fill="#1e1e1e" stroke="#1e1e1e" stroke-width="0.18" textLength="136.3" lengthAdjust="spacingAndGlyphs">- Drehzahl der Walzen 45 U/min</text>
<text x="91.3" y="265.2" font-size="8.8" fill="#1e1e1e" stroke="#1e1e1e" stroke-width="0.18" textLength="73.8" lengthAdjust="spacingAndGlyphs">Aufgabematerial:</text>
<line x1="91.3" y1="266.5" x2="165.1" y2="266.5" stroke="#333" stroke-width="0.75"/>
<text x="91.3" y="277.9" font-size="8.8" fill="#1e1e1e" stroke="#1e1e1e" stroke-width="0.18" textLength="48" lengthAdjust="spacingAndGlyphs">- 0 - 63 mm</text>
<path d="M69.5,426.23 C97.09,421.57 195.55,407.6 235.02,398.28 C274.48,388.96 282.54,381.82 306.3,370.32 C330.06,358.83 353.82,345.48 377.58,329.33 C401.35,313.18 425.11,294.54 448.87,273.42 C472.63,252.3 502.81,222.18 520.15,202.61 C537.49,183.04 541.02,173.1 552.9,156.02 C564.78,138.94 579.55,110.99 591.44,100.12 C603.32,89.25 618.73,92.35 624.19,90.8" fill="none" stroke="#2e4470" stroke-width="2.3" stroke-linejoin="round" stroke-linecap="butt"/>
<path d="M69.5,438.16 C97.09,435.11 195.55,426.35 235.02,419.89 C274.48,413.43 282.54,407.22 306.3,399.4 C330.06,391.57 353.82,382.13 377.58,372.93 C401.35,363.74 425.11,356.41 448.87,344.24 C472.63,332.06 502.81,312.18 520.15,299.88 C537.49,287.59 541.02,282.12 552.9,270.44 C564.78,258.76 579.25,245.1 591.44,229.82 C603.63,214.54 614.16,194.6 626.04,178.76 C637.92,162.92 650.76,147.02 662.72,134.78 C674.68,122.54 686.17,112.67 697.78,105.34 C709.39,98.01 726.62,93.22 732.38,90.8" fill="none" stroke="#a0521a" stroke-width="2.3" stroke-linejoin="round" stroke-linecap="butt"/>
<circle cx="235.02" cy="398.28" r="2.7" fill="#2e4470"/>
<circle cx="306.3" cy="370.32" r="2.7" fill="#2e4470"/>
<circle cx="377.58" cy="329.33" r="2.7" fill="#2e4470"/>
<circle cx="448.87" cy="273.42" r="2.7" fill="#2e4470"/>
<circle cx="520.15" cy="202.61" r="2.7" fill="#2e4470"/>
<circle cx="552.9" cy="156.02" r="2.7" fill="#2e4470"/>
<circle cx="591.44" cy="100.12" r="2.7" fill="#2e4470"/>
<circle cx="624.19" cy="90.8" r="2.7" fill="#2e4470"/>
<circle cx="235.02" cy="419.89" r="2.7" fill="#a0521a"/>
<circle cx="306.3" cy="399.4" r="2.7" fill="#a0521a"/>
<circle cx="377.58" cy="372.93" r="2.7" fill="#a0521a"/>
<circle cx="448.87" cy="344.24" r="2.7" fill="#a0521a"/>
<circle cx="520.15" cy="299.88" r="2.7" fill="#a0521a"/>
<circle cx="552.9" cy="270.44" r="2.7" fill="#a0521a"/>
<circle cx="591.44" cy="229.82" r="2.7" fill="#a0521a"/>
<circle cx="626.04" cy="178.76" r="2.7" fill="#a0521a"/>
<circle cx="662.72" cy="134.78" r="2.7" fill="#a0521a"/>
<circle cx="697.78" cy="105.34" r="2.7" fill="#a0521a"/>
<circle cx="732.38" cy="90.8" r="2.7" fill="#a0521a"/>
<line x1="533.3" y1="110.6" x2="588.3" y2="99.5" stroke="#000" stroke-width="0.7" marker-end="url(#ah)"/>
<line x1="497.8" y1="171" x2="527.6" y2="190.5" stroke="#000" stroke-width="0.7" marker-end="url(#ah)"/>
<line x1="511.3" y1="249.3" x2="519.3" y2="205.5" stroke="#000" stroke-width="0.7" marker-end="url(#ah)"/>
<line x1="511.1" y1="266.6" x2="517.4" y2="296.3" stroke="#000" stroke-width="0.7" marker-end="url(#ah)"/>
<line x1="575.3" y1="216.2" x2="589.1" y2="226.8" stroke="#000" stroke-width="0.7" marker-end="url(#ah)"/>
<line x1="721.3" y1="115.5" x2="730.9" y2="94.9" stroke="#000" stroke-width="0.7" marker-end="url(#ah)"/>
<line x1="345.2" y1="331.1" x2="374.5" y2="328.6" stroke="#000" stroke-width="0.7" marker-end="url(#ah)"/>
<line x1="345.2" y1="331.1" x2="373.4" y2="369.3" stroke="#000" stroke-width="0.7" marker-end="url(#ah)"/>
<line x1="342.5" y1="440.1" x2="307" y2="375.2" stroke="#000" stroke-width="0.7" marker-end="url(#ah)"/>
<line x1="342.5" y1="440.1" x2="309.2" y2="401.8" stroke="#000" stroke-width="0.7" marker-end="url(#ah)"/>
<line x1="535.2" y1="371.6" x2="497.4" y2="316.8" stroke="#000" stroke-width="0.7" marker-end="url(#ah)"/>
<rect x="508.3" y="101.3" width="25" height="18.5" fill="#fff" fill-opacity="0.88" stroke="#6f6f6f" stroke-width="0.9"/>
<text transform="translate(520.8,114.05) scale(0.9,1)" font-size="9.7" font-weight="bold" fill="#1a1a1a" text-anchor="middle">16</text>
<rect x="427.7" y="148.8" width="70.1" height="44.8" fill="#fff" fill-opacity="0.88" stroke="#6f6f6f" stroke-width="0.9"/>
<text transform="translate(462.75,161.95) scale(0.9,1)" font-size="9.7" font-weight="bold" fill="#1a1a1a" text-anchor="middle">Endkorn nach</text>
<text transform="translate(462.75,174.7) scale(0.9,1)" font-size="9.7" font-weight="bold" fill="#1a1a1a" text-anchor="middle">einmaligem</text>
<text transform="translate(462.75,187.45) scale(0.9,1)" font-size="9.7" font-weight="bold" fill="#1a1a1a" text-anchor="middle">Brechen</text>
<rect x="498" y="249.3" width="26.6" height="17.3" fill="#fff" fill-opacity="0.88" stroke="#6f6f6f" stroke-width="0.9"/>
<text transform="translate(511.3,261.45) scale(0.9,1)" font-size="9.7" font-weight="bold" fill="#1a1a1a" text-anchor="middle">8</text>
<rect x="550.4" y="207.5" width="24.8" height="17.9" fill="#fff" fill-opacity="0.88" stroke="#6f6f6f" stroke-width="0.9"/>
<text transform="translate(562.8,219.95) scale(0.9,1)" font-size="9.7" font-weight="bold" fill="#1a1a1a" text-anchor="middle">16</text>
<rect x="708.7" y="115.4" width="25" height="18" fill="#fff" fill-opacity="0.88" stroke="#6f6f6f" stroke-width="0.9"/>
<text transform="translate(721.2,127.9) scale(0.9,1)" font-size="9.7" font-weight="bold" fill="#1a1a1a" text-anchor="middle">63</text>
<rect x="318.9" y="321.2" width="26.3" height="19.8" fill="#fff" fill-opacity="0.88" stroke="#6f6f6f" stroke-width="0.9"/>
<text transform="translate(332.05,334.6) scale(0.9,1)" font-size="9.7" font-weight="bold" fill="#1a1a1a" text-anchor="middle">2</text>
<rect x="342.7" y="431.7" width="24.3" height="18.3" fill="#fff" fill-opacity="0.88" stroke="#6f6f6f" stroke-width="0.9"/>
<text transform="translate(354.85,444.35) scale(0.9,1)" font-size="9.7" font-weight="bold" fill="#1a1a1a" text-anchor="middle">1</text>
<rect x="507.6" y="371.5" width="56.8" height="39.9" fill="#fff" fill-opacity="0.88" stroke="#6f6f6f" stroke-width="0.9"/>
<text transform="translate(536,388.57) scale(0.9,1)" font-size="9.7" font-weight="bold" fill="#1a1a1a" text-anchor="middle">Augabe-</text>
<text transform="translate(536,401.32) scale(0.9,1)" font-size="9.7" font-weight="bold" fill="#1a1a1a" text-anchor="middle">material</text>
</svg>
</body></html>
